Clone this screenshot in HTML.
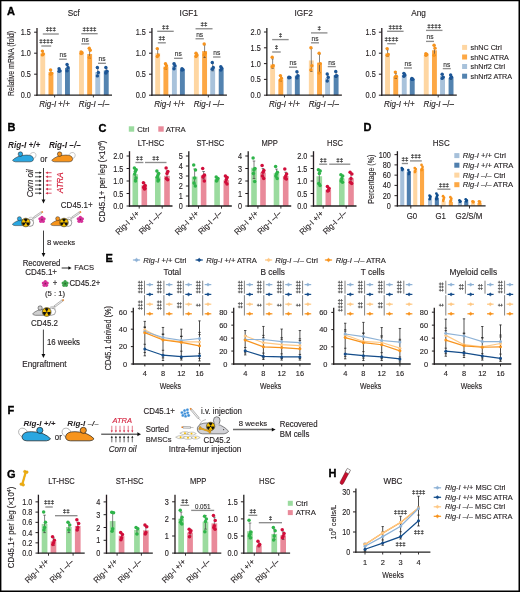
<!DOCTYPE html>
<html><head><meta charset="utf-8"><style>
html,body{margin:0;padding:0;background:#fff;overflow:hidden;width:520px;height:592px;}
svg{display:block;font-family:"Liberation Sans", sans-serif;}
</style></head><body>
<svg width="520" height="592" viewBox="0 0 520 592" fill="#231f20">
<defs><filter id="sb" x="-2%" y="-2%" width="104%" height="104%"><feGaussianBlur stdDeviation="0.3"/></filter></defs>
<rect width="520" height="592" fill="#fff"/>
<g filter="url(#sb)">
<text x="7.00" y="14.80" font-size="11.0" font-weight="bold" fill="#000" stroke="#000" stroke-width="0.35" >A</text>
<rect x="40.30" y="53.20" width="4.90" height="42.00" fill="#FED6A2"/>
<rect x="48.50" y="72.10" width="4.90" height="23.10" fill="#FDA845"/>
<rect x="57.00" y="70.84" width="4.90" height="24.36" fill="#A8C2DB"/>
<rect x="65.00" y="67.90" width="4.90" height="27.30" fill="#5283B0"/>
<rect x="79.00" y="52.78" width="4.90" height="42.42" fill="#FED6A2"/>
<rect x="87.20" y="54.04" width="4.90" height="41.16" fill="#FDA845"/>
<rect x="95.30" y="72.10" width="4.90" height="23.10" fill="#A8C2DB"/>
<rect x="103.80" y="70.42" width="4.90" height="24.78" fill="#5283B0"/>
<line x1="42.75" y1="55.30" x2="42.75" y2="51.10" stroke="#333" stroke-width="0.6" />
<line x1="41.55" y1="51.10" x2="43.95" y2="51.10" stroke="#333" stroke-width="0.6" />
<line x1="41.55" y1="55.30" x2="43.95" y2="55.30" stroke="#333" stroke-width="0.6" />
<line x1="50.95" y1="74.20" x2="50.95" y2="70.00" stroke="#333" stroke-width="0.6" />
<line x1="49.75" y1="70.00" x2="52.15" y2="70.00" stroke="#333" stroke-width="0.6" />
<line x1="49.75" y1="74.20" x2="52.15" y2="74.20" stroke="#333" stroke-width="0.6" />
<line x1="59.45" y1="71.68" x2="59.45" y2="69.16" stroke="#333" stroke-width="0.6" />
<line x1="58.25" y1="69.16" x2="60.65" y2="69.16" stroke="#333" stroke-width="0.6" />
<line x1="58.25" y1="71.68" x2="60.65" y2="71.68" stroke="#333" stroke-width="0.6" />
<line x1="67.45" y1="70.84" x2="67.45" y2="64.96" stroke="#333" stroke-width="0.6" />
<line x1="66.25" y1="64.96" x2="68.65" y2="64.96" stroke="#333" stroke-width="0.6" />
<line x1="66.25" y1="70.84" x2="68.65" y2="70.84" stroke="#333" stroke-width="0.6" />
<line x1="81.45" y1="54.04" x2="81.45" y2="51.94" stroke="#333" stroke-width="0.6" />
<line x1="80.25" y1="51.94" x2="82.65" y2="51.94" stroke="#333" stroke-width="0.6" />
<line x1="80.25" y1="54.04" x2="82.65" y2="54.04" stroke="#333" stroke-width="0.6" />
<line x1="89.65" y1="58.24" x2="89.65" y2="49.00" stroke="#333" stroke-width="0.6" />
<line x1="88.45" y1="49.00" x2="90.85" y2="49.00" stroke="#333" stroke-width="0.6" />
<line x1="88.45" y1="58.24" x2="90.85" y2="58.24" stroke="#333" stroke-width="0.6" />
<line x1="97.75" y1="75.88" x2="97.75" y2="68.32" stroke="#333" stroke-width="0.6" />
<line x1="96.55" y1="68.32" x2="98.95" y2="68.32" stroke="#333" stroke-width="0.6" />
<line x1="96.55" y1="75.88" x2="98.95" y2="75.88" stroke="#333" stroke-width="0.6" />
<line x1="106.25" y1="72.94" x2="106.25" y2="68.32" stroke="#333" stroke-width="0.6" />
<line x1="105.05" y1="68.32" x2="107.45" y2="68.32" stroke="#333" stroke-width="0.6" />
<line x1="105.05" y1="72.94" x2="107.45" y2="72.94" stroke="#333" stroke-width="0.6" />
<circle cx="42.35" cy="51.10" r="1.7" fill="#F7931E"/>
<circle cx="43.35" cy="54.04" r="1.7" fill="#F7931E"/>
<circle cx="42.35" cy="54.88" r="1.7" fill="#F7931E"/>
<circle cx="50.55" cy="70.00" r="1.7" fill="#F7931E"/>
<circle cx="51.55" cy="73.36" r="1.7" fill="#F7931E"/>
<circle cx="50.55" cy="74.20" r="1.7" fill="#F7931E"/>
<circle cx="59.05" cy="68.74" r="1.7" fill="#1B5596"/>
<circle cx="60.05" cy="70.84" r="1.7" fill="#1B5596"/>
<circle cx="59.05" cy="71.26" r="1.7" fill="#1B5596"/>
<circle cx="67.05" cy="64.54" r="1.7" fill="#1B5596"/>
<circle cx="68.05" cy="67.48" r="1.7" fill="#1B5596"/>
<circle cx="67.05" cy="70.84" r="1.7" fill="#1B5596"/>
<circle cx="81.05" cy="51.94" r="1.7" fill="#F7931E"/>
<circle cx="82.05" cy="52.78" r="1.7" fill="#F7931E"/>
<circle cx="81.05" cy="53.62" r="1.7" fill="#F7931E"/>
<circle cx="89.25" cy="48.16" r="1.7" fill="#F7931E"/>
<circle cx="90.25" cy="50.26" r="1.7" fill="#F7931E"/>
<circle cx="89.25" cy="57.40" r="1.7" fill="#F7931E"/>
<circle cx="97.35" cy="67.48" r="1.7" fill="#1B5596"/>
<circle cx="98.35" cy="72.52" r="1.7" fill="#1B5596"/>
<circle cx="97.35" cy="75.88" r="1.7" fill="#1B5596"/>
<circle cx="105.85" cy="67.48" r="1.7" fill="#1B5596"/>
<circle cx="106.85" cy="71.26" r="1.7" fill="#1B5596"/>
<circle cx="105.85" cy="72.94" r="1.7" fill="#1B5596"/>
<line x1="37.00" y1="28.00" x2="37.00" y2="95.85" stroke="#231f20" stroke-width="1.3" />
<line x1="34.10" y1="95.20" x2="37.00" y2="95.20" stroke="#231f20" stroke-width="1.0" />
<text transform="translate(30.90,98.22) scale(0.86,1)" font-size="8.5" text-anchor="end" stroke="#231f20" stroke-width="0.13" >0.0</text>
<line x1="34.10" y1="74.20" x2="37.00" y2="74.20" stroke="#231f20" stroke-width="1.0" />
<text transform="translate(30.90,77.22) scale(0.86,1)" font-size="8.5" text-anchor="end" stroke="#231f20" stroke-width="0.13" >0.5</text>
<line x1="34.10" y1="53.20" x2="37.00" y2="53.20" stroke="#231f20" stroke-width="1.0" />
<text transform="translate(30.90,56.22) scale(0.86,1)" font-size="8.5" text-anchor="end" stroke="#231f20" stroke-width="0.13" >1.0</text>
<line x1="34.10" y1="32.20" x2="37.00" y2="32.20" stroke="#231f20" stroke-width="1.0" />
<text transform="translate(30.90,35.22) scale(0.86,1)" font-size="8.5" text-anchor="end" stroke="#231f20" stroke-width="0.13" >1.5</text>
<line x1="36.35" y1="95.20" x2="112.00" y2="95.20" stroke="#231f20" stroke-width="1.3" />
<line x1="54.60" y1="95.20" x2="54.60" y2="97.40" stroke="#231f20" stroke-width="0.9" />
<line x1="93.40" y1="95.20" x2="93.40" y2="97.40" stroke="#231f20" stroke-width="0.9" />
<text transform="translate(73.80,16.00) scale(0.96,1)" font-size="8.57" text-anchor="middle" stroke="#231f20" stroke-width="0.13" >Scf</text>
<text transform="translate(54.60,107.20) scale(0.96,1)" font-size="8.36" text-anchor="middle" stroke="#231f20" stroke-width="0.13" ><tspan font-style="italic">Rig-I</tspan> +/+</text>
<text transform="translate(94.00,107.20) scale(0.96,1)" font-size="8.36" text-anchor="middle" stroke="#231f20" stroke-width="0.13" ><tspan font-style="italic">Rig-I</tspan> –/–</text>
<line x1="41.30" y1="46.00" x2="51.20" y2="46.00" stroke="#8e8e8e" stroke-width="1.35" />
<text x="46.25" y="43.40" font-size="6.2" text-anchor="middle" fill="#333" stroke="#333" stroke-width="0.22" >‡‡‡‡</text>
<line x1="42.80" y1="34.00" x2="58.80" y2="34.00" stroke="#8e8e8e" stroke-width="1.35" />
<text x="50.80" y="31.40" font-size="6.2" text-anchor="middle" fill="#333" stroke="#333" stroke-width="0.22" >‡‡‡</text>
<line x1="59.20" y1="59.20" x2="66.80" y2="59.20" stroke="#8e8e8e" stroke-width="1.35" />
<text transform="translate(63.00,57.20) scale(0.96,1)" font-size="6.9" text-anchor="middle" fill="#333" stroke="#333" stroke-width="0.13" >ns</text>
<line x1="81.30" y1="33.70" x2="97.70" y2="33.70" stroke="#8e8e8e" stroke-width="1.35" />
<text x="89.50" y="31.10" font-size="6.2" text-anchor="middle" fill="#333" stroke="#333" stroke-width="0.22" >‡‡‡‡</text>
<line x1="81.30" y1="43.90" x2="89.30" y2="43.90" stroke="#8e8e8e" stroke-width="1.35" />
<text transform="translate(85.30,41.90) scale(0.96,1)" font-size="6.9" text-anchor="middle" fill="#333" stroke="#333" stroke-width="0.13" >ns</text>
<line x1="98.00" y1="63.30" x2="105.90" y2="63.30" stroke="#8e8e8e" stroke-width="1.35" />
<text transform="translate(101.95,61.30) scale(0.96,1)" font-size="6.9" text-anchor="middle" fill="#333" stroke="#333" stroke-width="0.13" >ns</text>
<rect x="155.23" y="53.20" width="4.90" height="42.00" fill="#FED6A2"/>
<rect x="163.43" y="66.64" width="4.90" height="28.56" fill="#FDA845"/>
<rect x="171.93" y="65.80" width="4.90" height="29.40" fill="#A8C2DB"/>
<rect x="179.93" y="69.58" width="4.90" height="25.62" fill="#5283B0"/>
<rect x="193.93" y="54.88" width="4.90" height="40.32" fill="#FED6A2"/>
<rect x="202.13" y="51.10" width="4.90" height="44.10" fill="#FDA845"/>
<rect x="210.23" y="67.48" width="4.90" height="27.72" fill="#A8C2DB"/>
<rect x="218.73" y="68.74" width="4.90" height="26.46" fill="#5283B0"/>
<line x1="157.68" y1="56.56" x2="157.68" y2="49.00" stroke="#333" stroke-width="0.6" />
<line x1="156.48" y1="49.00" x2="158.88" y2="49.00" stroke="#333" stroke-width="0.6" />
<line x1="156.48" y1="56.56" x2="158.88" y2="56.56" stroke="#333" stroke-width="0.6" />
<line x1="165.88" y1="69.16" x2="165.88" y2="64.12" stroke="#333" stroke-width="0.6" />
<line x1="164.68" y1="64.12" x2="167.08" y2="64.12" stroke="#333" stroke-width="0.6" />
<line x1="164.68" y1="69.16" x2="167.08" y2="69.16" stroke="#333" stroke-width="0.6" />
<line x1="174.38" y1="68.74" x2="174.38" y2="63.28" stroke="#333" stroke-width="0.6" />
<line x1="173.18" y1="63.28" x2="175.58" y2="63.28" stroke="#333" stroke-width="0.6" />
<line x1="173.18" y1="68.74" x2="175.58" y2="68.74" stroke="#333" stroke-width="0.6" />
<line x1="182.38" y1="70.00" x2="182.38" y2="68.74" stroke="#333" stroke-width="0.6" />
<line x1="181.18" y1="68.74" x2="183.58" y2="68.74" stroke="#333" stroke-width="0.6" />
<line x1="181.18" y1="70.00" x2="183.58" y2="70.00" stroke="#333" stroke-width="0.6" />
<line x1="196.38" y1="56.56" x2="196.38" y2="53.20" stroke="#333" stroke-width="0.6" />
<line x1="195.18" y1="53.20" x2="197.58" y2="53.20" stroke="#333" stroke-width="0.6" />
<line x1="195.18" y1="56.56" x2="197.58" y2="56.56" stroke="#333" stroke-width="0.6" />
<line x1="204.58" y1="57.40" x2="204.58" y2="44.80" stroke="#333" stroke-width="0.6" />
<line x1="203.38" y1="44.80" x2="205.78" y2="44.80" stroke="#333" stroke-width="0.6" />
<line x1="203.38" y1="57.40" x2="205.78" y2="57.40" stroke="#333" stroke-width="0.6" />
<line x1="212.68" y1="70.84" x2="212.68" y2="63.28" stroke="#333" stroke-width="0.6" />
<line x1="211.48" y1="63.28" x2="213.88" y2="63.28" stroke="#333" stroke-width="0.6" />
<line x1="211.48" y1="70.84" x2="213.88" y2="70.84" stroke="#333" stroke-width="0.6" />
<line x1="221.18" y1="70.00" x2="221.18" y2="67.48" stroke="#333" stroke-width="0.6" />
<line x1="219.98" y1="67.48" x2="222.38" y2="67.48" stroke="#333" stroke-width="0.6" />
<line x1="219.98" y1="70.00" x2="222.38" y2="70.00" stroke="#333" stroke-width="0.6" />
<circle cx="157.28" cy="48.58" r="1.7" fill="#F7931E"/>
<circle cx="158.28" cy="55.30" r="1.7" fill="#F7931E"/>
<circle cx="157.28" cy="56.56" r="1.7" fill="#F7931E"/>
<circle cx="165.48" cy="63.70" r="1.7" fill="#F7931E"/>
<circle cx="166.48" cy="65.80" r="1.7" fill="#F7931E"/>
<circle cx="165.48" cy="68.32" r="1.7" fill="#F7931E"/>
<circle cx="173.98" cy="63.70" r="1.7" fill="#1B5596"/>
<circle cx="174.98" cy="65.80" r="1.7" fill="#1B5596"/>
<circle cx="173.98" cy="68.74" r="1.7" fill="#1B5596"/>
<circle cx="181.98" cy="68.74" r="1.7" fill="#1B5596"/>
<circle cx="182.98" cy="69.58" r="1.7" fill="#1B5596"/>
<circle cx="181.98" cy="70.00" r="1.7" fill="#1B5596"/>
<circle cx="195.98" cy="53.20" r="1.7" fill="#F7931E"/>
<circle cx="196.98" cy="54.88" r="1.7" fill="#F7931E"/>
<circle cx="195.98" cy="56.56" r="1.7" fill="#F7931E"/>
<circle cx="204.18" cy="43.96" r="1.7" fill="#F7931E"/>
<circle cx="205.18" cy="53.20" r="1.7" fill="#F7931E"/>
<circle cx="204.18" cy="54.88" r="1.7" fill="#F7931E"/>
<circle cx="212.28" cy="62.44" r="1.7" fill="#1B5596"/>
<circle cx="213.28" cy="67.48" r="1.7" fill="#1B5596"/>
<circle cx="212.28" cy="69.16" r="1.7" fill="#1B5596"/>
<circle cx="220.78" cy="66.64" r="1.7" fill="#1B5596"/>
<circle cx="221.78" cy="68.32" r="1.7" fill="#1B5596"/>
<circle cx="220.78" cy="70.00" r="1.7" fill="#1B5596"/>
<line x1="151.93" y1="28.00" x2="151.93" y2="95.85" stroke="#231f20" stroke-width="1.3" />
<line x1="149.03" y1="95.20" x2="151.93" y2="95.20" stroke="#231f20" stroke-width="1.0" />
<text transform="translate(145.83,98.22) scale(0.86,1)" font-size="8.5" text-anchor="end" stroke="#231f20" stroke-width="0.13" >0.0</text>
<line x1="149.03" y1="74.20" x2="151.93" y2="74.20" stroke="#231f20" stroke-width="1.0" />
<text transform="translate(145.83,77.22) scale(0.86,1)" font-size="8.5" text-anchor="end" stroke="#231f20" stroke-width="0.13" >0.5</text>
<line x1="149.03" y1="53.20" x2="151.93" y2="53.20" stroke="#231f20" stroke-width="1.0" />
<text transform="translate(145.83,56.22) scale(0.86,1)" font-size="8.5" text-anchor="end" stroke="#231f20" stroke-width="0.13" >1.0</text>
<line x1="149.03" y1="32.20" x2="151.93" y2="32.20" stroke="#231f20" stroke-width="1.0" />
<text transform="translate(145.83,35.22) scale(0.86,1)" font-size="8.5" text-anchor="end" stroke="#231f20" stroke-width="0.13" >1.5</text>
<line x1="151.28" y1="95.20" x2="226.93" y2="95.20" stroke="#231f20" stroke-width="1.3" />
<line x1="169.53" y1="95.20" x2="169.53" y2="97.40" stroke="#231f20" stroke-width="0.9" />
<line x1="208.33" y1="95.20" x2="208.33" y2="97.40" stroke="#231f20" stroke-width="0.9" />
<text transform="translate(188.73,16.00) scale(0.96,1)" font-size="8.57" text-anchor="middle" stroke="#231f20" stroke-width="0.13" >IGF1</text>
<text transform="translate(169.53,107.20) scale(0.96,1)" font-size="8.36" text-anchor="middle" stroke="#231f20" stroke-width="0.13" ><tspan font-style="italic">Rig-I</tspan> +/+</text>
<text transform="translate(208.93,107.20) scale(0.96,1)" font-size="8.36" text-anchor="middle" stroke="#231f20" stroke-width="0.13" ><tspan font-style="italic">Rig-I</tspan> –/–</text>
<line x1="157.23" y1="31.30" x2="173.73" y2="31.30" stroke="#8e8e8e" stroke-width="1.35" />
<text x="165.48" y="28.70" font-size="6.2" text-anchor="middle" fill="#333" stroke="#333" stroke-width="0.22" >‡‡</text>
<line x1="157.83" y1="42.80" x2="165.83" y2="42.80" stroke="#8e8e8e" stroke-width="1.35" />
<text x="161.83" y="40.20" font-size="6.2" text-anchor="middle" fill="#333" stroke="#333" stroke-width="0.22" >‡‡</text>
<line x1="174.03" y1="58.30" x2="182.63" y2="58.30" stroke="#8e8e8e" stroke-width="1.35" />
<text transform="translate(178.33,56.30) scale(0.96,1)" font-size="6.9" text-anchor="middle" fill="#333" stroke="#333" stroke-width="0.13" >ns</text>
<line x1="195.53" y1="28.75" x2="212.53" y2="28.75" stroke="#8e8e8e" stroke-width="1.35" />
<text x="204.03" y="26.15" font-size="6.2" text-anchor="middle" fill="#333" stroke="#333" stroke-width="0.22" >‡‡</text>
<line x1="195.53" y1="38.75" x2="203.83" y2="38.75" stroke="#8e8e8e" stroke-width="1.35" />
<text transform="translate(199.68,36.75) scale(0.96,1)" font-size="6.9" text-anchor="middle" fill="#333" stroke="#333" stroke-width="0.13" >ns</text>
<line x1="213.03" y1="57.00" x2="220.53" y2="57.00" stroke="#8e8e8e" stroke-width="1.35" />
<text transform="translate(216.78,55.00) scale(0.96,1)" font-size="6.9" text-anchor="middle" fill="#333" stroke="#333" stroke-width="0.13" >ns</text>
<rect x="270.16" y="64.23" width="4.90" height="30.97" fill="#FED6A2"/>
<rect x="278.36" y="79.40" width="4.90" height="15.80" fill="#FDA845"/>
<rect x="286.86" y="77.50" width="4.90" height="17.70" fill="#A8C2DB"/>
<rect x="294.86" y="75.61" width="4.90" height="19.59" fill="#5283B0"/>
<rect x="308.86" y="60.44" width="4.90" height="34.76" fill="#FED6A2"/>
<rect x="317.06" y="62.65" width="4.90" height="32.55" fill="#FDA845"/>
<rect x="325.16" y="78.14" width="4.90" height="17.06" fill="#A8C2DB"/>
<rect x="333.66" y="75.29" width="4.90" height="19.91" fill="#5283B0"/>
<line x1="272.61" y1="68.34" x2="272.61" y2="58.86" stroke="#333" stroke-width="0.6" />
<line x1="271.41" y1="58.86" x2="273.81" y2="58.86" stroke="#333" stroke-width="0.6" />
<line x1="271.41" y1="68.34" x2="273.81" y2="68.34" stroke="#333" stroke-width="0.6" />
<line x1="280.81" y1="80.98" x2="280.81" y2="76.24" stroke="#333" stroke-width="0.6" />
<line x1="279.61" y1="76.24" x2="282.01" y2="76.24" stroke="#333" stroke-width="0.6" />
<line x1="279.61" y1="80.98" x2="282.01" y2="80.98" stroke="#333" stroke-width="0.6" />
<line x1="289.31" y1="78.14" x2="289.31" y2="76.87" stroke="#333" stroke-width="0.6" />
<line x1="288.11" y1="76.87" x2="290.51" y2="76.87" stroke="#333" stroke-width="0.6" />
<line x1="288.11" y1="78.14" x2="290.51" y2="78.14" stroke="#333" stroke-width="0.6" />
<line x1="297.31" y1="78.77" x2="297.31" y2="72.45" stroke="#333" stroke-width="0.6" />
<line x1="296.11" y1="72.45" x2="298.51" y2="72.45" stroke="#333" stroke-width="0.6" />
<line x1="296.11" y1="78.77" x2="298.51" y2="78.77" stroke="#333" stroke-width="0.6" />
<line x1="311.31" y1="71.50" x2="311.31" y2="48.43" stroke="#333" stroke-width="0.6" />
<line x1="310.11" y1="48.43" x2="312.51" y2="48.43" stroke="#333" stroke-width="0.6" />
<line x1="310.11" y1="71.50" x2="312.51" y2="71.50" stroke="#333" stroke-width="0.6" />
<line x1="319.51" y1="72.45" x2="319.51" y2="54.12" stroke="#333" stroke-width="0.6" />
<line x1="318.31" y1="54.12" x2="320.71" y2="54.12" stroke="#333" stroke-width="0.6" />
<line x1="318.31" y1="72.45" x2="320.71" y2="72.45" stroke="#333" stroke-width="0.6" />
<line x1="327.61" y1="80.98" x2="327.61" y2="74.66" stroke="#333" stroke-width="0.6" />
<line x1="326.41" y1="74.66" x2="328.81" y2="74.66" stroke="#333" stroke-width="0.6" />
<line x1="326.41" y1="80.98" x2="328.81" y2="80.98" stroke="#333" stroke-width="0.6" />
<line x1="336.11" y1="77.50" x2="336.11" y2="72.45" stroke="#333" stroke-width="0.6" />
<line x1="334.91" y1="72.45" x2="337.31" y2="72.45" stroke="#333" stroke-width="0.6" />
<line x1="334.91" y1="77.50" x2="337.31" y2="77.50" stroke="#333" stroke-width="0.6" />
<circle cx="272.21" cy="57.28" r="1.7" fill="#F7931E"/>
<circle cx="273.21" cy="65.81" r="1.7" fill="#F7931E"/>
<circle cx="272.21" cy="66.76" r="1.7" fill="#F7931E"/>
<circle cx="280.41" cy="75.61" r="1.7" fill="#F7931E"/>
<circle cx="281.41" cy="78.14" r="1.7" fill="#F7931E"/>
<circle cx="280.41" cy="80.03" r="1.7" fill="#F7931E"/>
<circle cx="288.91" cy="77.19" r="1.7" fill="#1B5596"/>
<circle cx="289.91" cy="77.50" r="1.7" fill="#1B5596"/>
<circle cx="288.91" cy="77.82" r="1.7" fill="#1B5596"/>
<circle cx="296.91" cy="71.82" r="1.7" fill="#1B5596"/>
<circle cx="297.91" cy="75.61" r="1.7" fill="#1B5596"/>
<circle cx="296.91" cy="77.82" r="1.7" fill="#1B5596"/>
<circle cx="310.91" cy="47.80" r="1.7" fill="#F7931E"/>
<circle cx="311.91" cy="65.81" r="1.7" fill="#F7931E"/>
<circle cx="310.91" cy="69.92" r="1.7" fill="#F7931E"/>
<circle cx="319.11" cy="53.17" r="1.7" fill="#F7931E"/>
<circle cx="320.11" cy="63.60" r="1.7" fill="#F7931E"/>
<circle cx="319.11" cy="73.08" r="1.7" fill="#F7931E"/>
<circle cx="327.21" cy="74.03" r="1.7" fill="#1B5596"/>
<circle cx="328.21" cy="77.19" r="1.7" fill="#1B5596"/>
<circle cx="327.21" cy="80.98" r="1.7" fill="#1B5596"/>
<circle cx="335.71" cy="71.50" r="1.7" fill="#1B5596"/>
<circle cx="336.71" cy="75.61" r="1.7" fill="#1B5596"/>
<circle cx="335.71" cy="76.24" r="1.7" fill="#1B5596"/>
<line x1="266.86" y1="28.00" x2="266.86" y2="95.85" stroke="#231f20" stroke-width="1.3" />
<line x1="263.96" y1="95.20" x2="266.86" y2="95.20" stroke="#231f20" stroke-width="1.0" />
<text transform="translate(260.76,98.22) scale(0.86,1)" font-size="8.5" text-anchor="end" stroke="#231f20" stroke-width="0.13" >0.0</text>
<line x1="263.96" y1="79.40" x2="266.86" y2="79.40" stroke="#231f20" stroke-width="1.0" />
<text transform="translate(260.76,82.42) scale(0.86,1)" font-size="8.5" text-anchor="end" stroke="#231f20" stroke-width="0.13" >0.5</text>
<line x1="263.96" y1="63.60" x2="266.86" y2="63.60" stroke="#231f20" stroke-width="1.0" />
<text transform="translate(260.76,66.62) scale(0.86,1)" font-size="8.5" text-anchor="end" stroke="#231f20" stroke-width="0.13" >1.0</text>
<line x1="263.96" y1="47.80" x2="266.86" y2="47.80" stroke="#231f20" stroke-width="1.0" />
<text transform="translate(260.76,50.82) scale(0.86,1)" font-size="8.5" text-anchor="end" stroke="#231f20" stroke-width="0.13" >1.5</text>
<line x1="263.96" y1="32.00" x2="266.86" y2="32.00" stroke="#231f20" stroke-width="1.0" />
<text transform="translate(260.76,35.02) scale(0.86,1)" font-size="8.5" text-anchor="end" stroke="#231f20" stroke-width="0.13" >2.0</text>
<line x1="266.21" y1="95.20" x2="341.86" y2="95.20" stroke="#231f20" stroke-width="1.3" />
<line x1="284.46" y1="95.20" x2="284.46" y2="97.40" stroke="#231f20" stroke-width="0.9" />
<line x1="323.26" y1="95.20" x2="323.26" y2="97.40" stroke="#231f20" stroke-width="0.9" />
<text transform="translate(303.66,16.00) scale(0.96,1)" font-size="8.57" text-anchor="middle" stroke="#231f20" stroke-width="0.13" >IGF2</text>
<text transform="translate(284.46,107.20) scale(0.96,1)" font-size="8.36" text-anchor="middle" stroke="#231f20" stroke-width="0.13" ><tspan font-style="italic">Rig-I</tspan> +/+</text>
<text transform="translate(323.86,107.20) scale(0.96,1)" font-size="8.36" text-anchor="middle" stroke="#231f20" stroke-width="0.13" ><tspan font-style="italic">Rig-I</tspan> –/–</text>
<line x1="272.16" y1="39.60" x2="288.66" y2="39.60" stroke="#8e8e8e" stroke-width="1.35" />
<text x="280.41" y="37.00" font-size="6.2" text-anchor="middle" fill="#333" stroke="#333" stroke-width="0.22" >‡</text>
<line x1="272.16" y1="52.00" x2="280.76" y2="52.00" stroke="#8e8e8e" stroke-width="1.35" />
<text x="276.46" y="49.40" font-size="6.2" text-anchor="middle" fill="#333" stroke="#333" stroke-width="0.22" >‡</text>
<line x1="288.96" y1="67.20" x2="297.06" y2="67.20" stroke="#8e8e8e" stroke-width="1.35" />
<text transform="translate(293.01,65.20) scale(0.96,1)" font-size="6.9" text-anchor="middle" fill="#333" stroke="#333" stroke-width="0.13" >ns</text>
<line x1="310.96" y1="32.90" x2="327.46" y2="32.90" stroke="#8e8e8e" stroke-width="1.35" />
<text x="319.21" y="30.30" font-size="6.2" text-anchor="middle" fill="#333" stroke="#333" stroke-width="0.22" >‡</text>
<line x1="310.96" y1="42.80" x2="318.96" y2="42.80" stroke="#8e8e8e" stroke-width="1.35" />
<text transform="translate(314.96,40.80) scale(0.96,1)" font-size="6.9" text-anchor="middle" fill="#333" stroke="#333" stroke-width="0.13" >ns</text>
<line x1="327.76" y1="66.60" x2="335.76" y2="66.60" stroke="#8e8e8e" stroke-width="1.35" />
<text transform="translate(331.76,64.60) scale(0.96,1)" font-size="6.9" text-anchor="middle" fill="#333" stroke="#333" stroke-width="0.13" >ns</text>
<rect x="385.09" y="53.20" width="4.90" height="42.00" fill="#FED6A2"/>
<rect x="393.29" y="76.72" width="4.90" height="18.48" fill="#FDA845"/>
<rect x="401.79" y="75.04" width="4.90" height="20.16" fill="#A8C2DB"/>
<rect x="409.79" y="79.24" width="4.90" height="15.96" fill="#5283B0"/>
<rect x="423.79" y="54.88" width="4.90" height="40.32" fill="#FED6A2"/>
<rect x="431.99" y="50.26" width="4.90" height="44.94" fill="#FDA845"/>
<rect x="440.09" y="75.88" width="4.90" height="19.32" fill="#A8C2DB"/>
<rect x="448.59" y="77.98" width="4.90" height="17.22" fill="#5283B0"/>
<line x1="387.54" y1="56.56" x2="387.54" y2="49.84" stroke="#333" stroke-width="0.6" />
<line x1="386.34" y1="49.84" x2="388.74" y2="49.84" stroke="#333" stroke-width="0.6" />
<line x1="386.34" y1="56.56" x2="388.74" y2="56.56" stroke="#333" stroke-width="0.6" />
<line x1="395.74" y1="78.40" x2="395.74" y2="73.36" stroke="#333" stroke-width="0.6" />
<line x1="394.54" y1="73.36" x2="396.94" y2="73.36" stroke="#333" stroke-width="0.6" />
<line x1="394.54" y1="78.40" x2="396.94" y2="78.40" stroke="#333" stroke-width="0.6" />
<line x1="404.24" y1="76.72" x2="404.24" y2="73.36" stroke="#333" stroke-width="0.6" />
<line x1="403.04" y1="73.36" x2="405.44" y2="73.36" stroke="#333" stroke-width="0.6" />
<line x1="403.04" y1="76.72" x2="405.44" y2="76.72" stroke="#333" stroke-width="0.6" />
<line x1="412.24" y1="79.66" x2="412.24" y2="78.40" stroke="#333" stroke-width="0.6" />
<line x1="411.04" y1="78.40" x2="413.44" y2="78.40" stroke="#333" stroke-width="0.6" />
<line x1="411.04" y1="79.66" x2="413.44" y2="79.66" stroke="#333" stroke-width="0.6" />
<line x1="426.24" y1="55.72" x2="426.24" y2="53.62" stroke="#333" stroke-width="0.6" />
<line x1="425.04" y1="53.62" x2="427.44" y2="53.62" stroke="#333" stroke-width="0.6" />
<line x1="425.04" y1="55.72" x2="427.44" y2="55.72" stroke="#333" stroke-width="0.6" />
<line x1="434.44" y1="55.30" x2="434.44" y2="45.22" stroke="#333" stroke-width="0.6" />
<line x1="433.24" y1="45.22" x2="435.64" y2="45.22" stroke="#333" stroke-width="0.6" />
<line x1="433.24" y1="55.30" x2="435.64" y2="55.30" stroke="#333" stroke-width="0.6" />
<line x1="442.54" y1="78.40" x2="442.54" y2="74.20" stroke="#333" stroke-width="0.6" />
<line x1="441.34" y1="74.20" x2="443.74" y2="74.20" stroke="#333" stroke-width="0.6" />
<line x1="441.34" y1="78.40" x2="443.74" y2="78.40" stroke="#333" stroke-width="0.6" />
<line x1="451.04" y1="79.24" x2="451.04" y2="75.88" stroke="#333" stroke-width="0.6" />
<line x1="449.84" y1="75.88" x2="452.24" y2="75.88" stroke="#333" stroke-width="0.6" />
<line x1="449.84" y1="79.24" x2="452.24" y2="79.24" stroke="#333" stroke-width="0.6" />
<circle cx="387.14" cy="48.58" r="1.7" fill="#F7931E"/>
<circle cx="388.14" cy="54.46" r="1.7" fill="#F7931E"/>
<circle cx="387.14" cy="55.30" r="1.7" fill="#F7931E"/>
<circle cx="395.34" cy="72.10" r="1.7" fill="#F7931E"/>
<circle cx="396.34" cy="76.30" r="1.7" fill="#F7931E"/>
<circle cx="395.34" cy="76.72" r="1.7" fill="#F7931E"/>
<circle cx="403.84" cy="73.36" r="1.7" fill="#1B5596"/>
<circle cx="404.84" cy="75.04" r="1.7" fill="#1B5596"/>
<circle cx="403.84" cy="76.30" r="1.7" fill="#1B5596"/>
<circle cx="411.84" cy="78.40" r="1.7" fill="#1B5596"/>
<circle cx="412.84" cy="79.24" r="1.7" fill="#1B5596"/>
<circle cx="411.84" cy="79.24" r="1.7" fill="#1B5596"/>
<circle cx="425.84" cy="53.62" r="1.7" fill="#F7931E"/>
<circle cx="426.84" cy="54.46" r="1.7" fill="#F7931E"/>
<circle cx="425.84" cy="55.30" r="1.7" fill="#F7931E"/>
<circle cx="434.04" cy="45.22" r="1.7" fill="#F7931E"/>
<circle cx="435.04" cy="48.16" r="1.7" fill="#F7931E"/>
<circle cx="434.04" cy="55.30" r="1.7" fill="#F7931E"/>
<circle cx="442.14" cy="74.20" r="1.7" fill="#1B5596"/>
<circle cx="443.14" cy="77.14" r="1.7" fill="#1B5596"/>
<circle cx="442.14" cy="78.40" r="1.7" fill="#1B5596"/>
<circle cx="450.64" cy="75.04" r="1.7" fill="#1B5596"/>
<circle cx="451.64" cy="77.14" r="1.7" fill="#1B5596"/>
<circle cx="450.64" cy="77.98" r="1.7" fill="#1B5596"/>
<line x1="381.79" y1="28.00" x2="381.79" y2="95.85" stroke="#231f20" stroke-width="1.3" />
<line x1="378.89" y1="95.20" x2="381.79" y2="95.20" stroke="#231f20" stroke-width="1.0" />
<text transform="translate(375.69,98.22) scale(0.86,1)" font-size="8.5" text-anchor="end" stroke="#231f20" stroke-width="0.13" >0.0</text>
<line x1="378.89" y1="74.20" x2="381.79" y2="74.20" stroke="#231f20" stroke-width="1.0" />
<text transform="translate(375.69,77.22) scale(0.86,1)" font-size="8.5" text-anchor="end" stroke="#231f20" stroke-width="0.13" >0.5</text>
<line x1="378.89" y1="53.20" x2="381.79" y2="53.20" stroke="#231f20" stroke-width="1.0" />
<text transform="translate(375.69,56.22) scale(0.86,1)" font-size="8.5" text-anchor="end" stroke="#231f20" stroke-width="0.13" >1.0</text>
<line x1="378.89" y1="32.20" x2="381.79" y2="32.20" stroke="#231f20" stroke-width="1.0" />
<text transform="translate(375.69,35.22) scale(0.86,1)" font-size="8.5" text-anchor="end" stroke="#231f20" stroke-width="0.13" >1.5</text>
<line x1="381.14" y1="95.20" x2="456.79" y2="95.20" stroke="#231f20" stroke-width="1.3" />
<line x1="399.39" y1="95.20" x2="399.39" y2="97.40" stroke="#231f20" stroke-width="0.9" />
<line x1="438.19" y1="95.20" x2="438.19" y2="97.40" stroke="#231f20" stroke-width="0.9" />
<text transform="translate(418.59,16.00) scale(0.96,1)" font-size="8.57" text-anchor="middle" stroke="#231f20" stroke-width="0.13" >Ang</text>
<text transform="translate(399.39,107.20) scale(0.96,1)" font-size="8.36" text-anchor="middle" stroke="#231f20" stroke-width="0.13" ><tspan font-style="italic">Rig-I</tspan> +/+</text>
<text transform="translate(438.79,107.20) scale(0.96,1)" font-size="8.36" text-anchor="middle" stroke="#231f20" stroke-width="0.13" ><tspan font-style="italic">Rig-I</tspan> –/–</text>
<line x1="387.09" y1="31.30" x2="403.59" y2="31.30" stroke="#8e8e8e" stroke-width="1.35" />
<text x="395.34" y="28.70" font-size="6.2" text-anchor="middle" fill="#333" stroke="#333" stroke-width="0.22" >‡‡‡‡</text>
<line x1="387.19" y1="43.70" x2="395.79" y2="43.70" stroke="#8e8e8e" stroke-width="1.35" />
<text x="391.49" y="41.10" font-size="6.2" text-anchor="middle" fill="#333" stroke="#333" stroke-width="0.22" >‡‡‡‡</text>
<line x1="403.99" y1="68.00" x2="411.99" y2="68.00" stroke="#8e8e8e" stroke-width="1.35" />
<text transform="translate(407.99,66.00) scale(0.96,1)" font-size="6.9" text-anchor="middle" fill="#333" stroke="#333" stroke-width="0.13" >ns</text>
<line x1="425.99" y1="30.40" x2="442.49" y2="30.40" stroke="#8e8e8e" stroke-width="1.35" />
<text x="434.24" y="27.80" font-size="6.2" text-anchor="middle" fill="#333" stroke="#333" stroke-width="0.22" >‡‡‡‡</text>
<line x1="425.99" y1="41.40" x2="433.99" y2="41.40" stroke="#8e8e8e" stroke-width="1.35" />
<text transform="translate(429.99,39.40) scale(0.96,1)" font-size="6.9" text-anchor="middle" fill="#333" stroke="#333" stroke-width="0.13" >ns</text>
<line x1="442.79" y1="68.60" x2="450.79" y2="68.60" stroke="#8e8e8e" stroke-width="1.35" />
<text transform="translate(446.79,66.60) scale(0.96,1)" font-size="6.9" text-anchor="middle" fill="#333" stroke="#333" stroke-width="0.13" >ns</text>
<text transform="translate(13.60,63.50) rotate(-90) scale(0.845,1)" font-size="8.26" text-anchor="middle" stroke="#231f20" stroke-width="0.13" >Relative mRNA (fold)</text>
<rect x="462.10" y="44.90" width="5.00" height="5.00" fill="#FED6A2"/>
<text transform="translate(470.60,50.00) scale(0.96,1)" font-size="7.52" stroke="#231f20" stroke-width="0.13" >shNC Ctrl</text>
<rect x="462.10" y="54.50" width="5.00" height="5.00" fill="#FDA845"/>
<text transform="translate(470.60,59.60) scale(0.96,1)" font-size="7.52" stroke="#231f20" stroke-width="0.13" >shNC ATRA</text>
<rect x="462.10" y="64.00" width="5.00" height="5.00" fill="#A8C2DB"/>
<text transform="translate(470.60,69.10) scale(0.96,1)" font-size="7.52" stroke="#231f20" stroke-width="0.13" >shNrf2 Ctrl</text>
<rect x="462.10" y="73.70" width="5.00" height="5.00" fill="#5283B0"/>
<text transform="translate(470.60,78.80) scale(0.96,1)" font-size="7.52" stroke="#231f20" stroke-width="0.13" >shNrf2 ATRA</text>
<text x="7.40" y="131.20" font-size="11.0" font-weight="bold" fill="#000" stroke="#000" stroke-width="0.35" >B</text>
<text x="8.00" y="147.60" font-size="8.2" font-weight="bold" font-style="italic" >Rig-I +/+</text>
<text x="48.90" y="147.60" font-size="8.2" font-weight="bold" font-style="italic" >Rig-I –/–</text>
<g transform="translate(12.50,151.80) scale(1.0)"><path d="M17.2 3.4 C18 0.3 22.6 -0.3 23.4 2.6 C23.9 4.6 22.6 6.2 21.0 6.9" fill="none" stroke="#999" stroke-width="0.55"/><path d="M0 8.5 Q2.2 6.2 5.3 4.9 Q9 3.3 14 3.3 Q20.1 3.2 20.9 6.6 Q21.3 9.8 17.4 10 L3 10 Q0.8 9.8 0 8.5 Z" fill="#2AA7E1" stroke="#1a1a1a" stroke-width="0.5"/><path d="M6.5 4.6 L6.8 3.4 L9.1 3.4 L9.4 4.3 Z" fill="#2AA7E1"/><circle cx="7.9" cy="2.3" r="2.25" fill="#2AA7E1" stroke="#1a1a1a" stroke-width="0.5"/></g>
<text transform="translate(40.30,162.00) scale(0.96,1)" font-size="8.15" stroke="#231f20" stroke-width="0.13" >or</text>
<g transform="translate(51.70,151.80) scale(1.0)"><path d="M17.2 3.4 C18 0.3 22.6 -0.3 23.4 2.6 C23.9 4.6 22.6 6.2 21.0 6.9" fill="none" stroke="#999" stroke-width="0.55"/><path d="M0 8.5 Q2.2 6.2 5.3 4.9 Q9 3.3 14 3.3 Q20.1 3.2 20.9 6.6 Q21.3 9.8 17.4 10 L3 10 Q0.8 9.8 0 8.5 Z" fill="#F7941D" stroke="#1a1a1a" stroke-width="0.5"/><path d="M6.5 4.6 L6.8 3.4 L9.1 3.4 L9.4 4.3 Z" fill="#F7941D"/><circle cx="7.9" cy="2.3" r="2.25" fill="#F7941D" stroke="#1a1a1a" stroke-width="0.5"/></g>
<line x1="43.50" y1="168.00" x2="43.50" y2="201.00" stroke="#111" stroke-width="0.8" />
<path d="M41.6 199.5 L45.4 199.5 L43.5 203.6 Z" fill="#111" stroke="none" stroke-width="1" />
<text transform="translate(32.90,183.30) rotate(-90) scale(0.96,1)" font-size="8.46" text-anchor="middle" font-style="italic" stroke="#231f20" stroke-width="0.13" >Corn oil</text>
<line x1="35.00" y1="172.70" x2="40.00" y2="172.70" stroke="#111" stroke-width="0.75" />
<path d="M41.7 172.70 L39.4 171.40 L39.4 174.00 Z" fill="#111" stroke="none" stroke-width="1" />
<line x1="47.00" y1="172.70" x2="51.60" y2="172.70" stroke="#D4213D" stroke-width="0.75" />
<path d="M45.5 172.70 L47.8 171.40 L47.8 174.00 Z" fill="#D4213D" stroke="none" stroke-width="1" />
<line x1="35.00" y1="176.80" x2="40.00" y2="176.80" stroke="#111" stroke-width="0.75" />
<path d="M41.7 176.80 L39.4 175.50 L39.4 178.10 Z" fill="#111" stroke="none" stroke-width="1" />
<line x1="47.00" y1="176.80" x2="51.60" y2="176.80" stroke="#D4213D" stroke-width="0.75" />
<path d="M45.5 176.80 L47.8 175.50 L47.8 178.10 Z" fill="#D4213D" stroke="none" stroke-width="1" />
<line x1="35.00" y1="180.90" x2="40.00" y2="180.90" stroke="#111" stroke-width="0.75" />
<path d="M41.7 180.90 L39.4 179.60 L39.4 182.20 Z" fill="#111" stroke="none" stroke-width="1" />
<line x1="47.00" y1="180.90" x2="51.60" y2="180.90" stroke="#D4213D" stroke-width="0.75" />
<path d="M45.5 180.90 L47.8 179.60 L47.8 182.20 Z" fill="#D4213D" stroke="none" stroke-width="1" />
<line x1="35.00" y1="185.00" x2="40.00" y2="185.00" stroke="#111" stroke-width="0.75" />
<path d="M41.7 185.00 L39.4 183.70 L39.4 186.30 Z" fill="#111" stroke="none" stroke-width="1" />
<line x1="47.00" y1="185.00" x2="51.60" y2="185.00" stroke="#D4213D" stroke-width="0.75" />
<path d="M45.5 185.00 L47.8 183.70 L47.8 186.30 Z" fill="#D4213D" stroke="none" stroke-width="1" />
<line x1="35.00" y1="189.10" x2="40.00" y2="189.10" stroke="#111" stroke-width="0.75" />
<path d="M41.7 189.10 L39.4 187.80 L39.4 190.40 Z" fill="#111" stroke="none" stroke-width="1" />
<line x1="47.00" y1="189.10" x2="51.60" y2="189.10" stroke="#D4213D" stroke-width="0.75" />
<path d="M45.5 189.10 L47.8 187.80 L47.8 190.40 Z" fill="#D4213D" stroke="none" stroke-width="1" />
<line x1="35.00" y1="193.20" x2="40.00" y2="193.20" stroke="#111" stroke-width="0.75" />
<path d="M41.7 193.20 L39.4 191.90 L39.4 194.50 Z" fill="#111" stroke="none" stroke-width="1" />
<line x1="47.00" y1="193.20" x2="51.60" y2="193.20" stroke="#D4213D" stroke-width="0.75" />
<path d="M45.5 193.20 L47.8 191.90 L47.8 194.50 Z" fill="#D4213D" stroke="none" stroke-width="1" />
<text transform="translate(62.60,182.70) rotate(-90) scale(0.96,1)" font-size="8.36" text-anchor="middle" font-style="italic" fill="#D4213D" stroke="#D4213D" stroke-width="0.13" >ATRA</text>
<text transform="translate(60.80,207.50) scale(0.96,1)" font-size="8.36" stroke="#231f20" stroke-width="0.13" >CD45.1+</text>
<g transform="translate(12.30,216.60) scale(0.9)"><path d="M17.2 3.4 C18 0.3 22.6 -0.3 23.4 2.6 C23.9 4.6 22.6 6.2 21.0 6.9" fill="none" stroke="#999" stroke-width="0.55"/><path d="M0 8.5 Q2.2 6.2 5.3 4.9 Q9 3.3 14 3.3 Q20.1 3.2 20.9 6.6 Q21.3 9.8 17.4 10 L3 10 Q0.8 9.8 0 8.5 Z" fill="#2AA7E1" stroke="#1a1a1a" stroke-width="0.5"/><path d="M6.5 4.6 L6.8 3.4 L9.1 3.4 L9.4 4.3 Z" fill="#2AA7E1"/><circle cx="7.9" cy="2.3" r="2.25" fill="#2AA7E1" stroke="#1a1a1a" stroke-width="0.5"/></g>
<ellipse cx="30.0" cy="222.8" rx="3.6" ry="3.6" fill="#fff" stroke="#222" stroke-width="0.45"/>
<g transform="translate(25.80,222.50)"><circle r="4.3" fill="#F5C000" stroke="#111" stroke-width="0.5"/><path d="M-0.52 -0.89 L-1.93 -3.35 A3.87 3.87 0 0 1 1.94 -3.35 L0.52 -0.89 Z" fill="#111"/><path d="M1.03 0.00 L3.87 0.00 A3.87 3.87 0 0 1 1.94 3.35 L0.52 0.89 Z" fill="#111"/><path d="M-0.52 0.89 L-1.93 3.35 A3.87 3.87 0 0 1 -3.87 0.00 L-1.03 0.00 Z" fill="#111"/><circle r="0.688" fill="#111"/></g>
<path d="M34.42 218.22 L42.02 213.02 L41.18 211.78 L33.58 216.98 Z" fill="#eee" stroke="#555" stroke-width="0.4" />
<line x1="41.60" y1="212.40" x2="42.84" y2="211.55" stroke="#E07B20" stroke-width="1.6" />
<line x1="34.00" y1="217.60" x2="31.52" y2="219.29" stroke="#666" stroke-width="0.4" />
<circle cx="42.00" cy="217.40" r="1.7" fill="#D6309A"/>
<circle cx="44.00" cy="218.85" r="1.7" fill="#D6309A"/>
<circle cx="43.23" cy="221.20" r="1.7" fill="#D6309A"/>
<circle cx="40.77" cy="221.20" r="1.7" fill="#D6309A"/>
<circle cx="40.00" cy="218.85" r="1.7" fill="#D6309A"/>
<circle cx="42.00" cy="219.50" r="0.9" fill="#8a1a5a"/>
<g transform="translate(50.60,216.60) scale(0.9)"><path d="M17.2 3.4 C18 0.3 22.6 -0.3 23.4 2.6 C23.9 4.6 22.6 6.2 21.0 6.9" fill="none" stroke="#999" stroke-width="0.55"/><path d="M0 8.5 Q2.2 6.2 5.3 4.9 Q9 3.3 14 3.3 Q20.1 3.2 20.9 6.6 Q21.3 9.8 17.4 10 L3 10 Q0.8 9.8 0 8.5 Z" fill="#F7941D" stroke="#1a1a1a" stroke-width="0.5"/><path d="M6.5 4.6 L6.8 3.4 L9.1 3.4 L9.4 4.3 Z" fill="#F7941D"/><circle cx="7.9" cy="2.3" r="2.25" fill="#F7941D" stroke="#1a1a1a" stroke-width="0.5"/></g>
<ellipse cx="68.2" cy="222.8" rx="3.6" ry="3.6" fill="#fff" stroke="#222" stroke-width="0.45"/>
<g transform="translate(64.00,222.50)"><circle r="4.3" fill="#F5C000" stroke="#111" stroke-width="0.5"/><path d="M-0.52 -0.89 L-1.93 -3.35 A3.87 3.87 0 0 1 1.94 -3.35 L0.52 -0.89 Z" fill="#111"/><path d="M1.03 0.00 L3.87 0.00 A3.87 3.87 0 0 1 1.94 3.35 L0.52 0.89 Z" fill="#111"/><path d="M-0.52 0.89 L-1.93 3.35 A3.87 3.87 0 0 1 -3.87 0.00 L-1.03 0.00 Z" fill="#111"/><circle r="0.688" fill="#111"/></g>
<path d="M72.62 218.22 L80.22 213.02 L79.38 211.78 L71.78 216.98 Z" fill="#eee" stroke="#555" stroke-width="0.4" />
<line x1="79.80" y1="212.40" x2="81.04" y2="211.55" stroke="#E07B20" stroke-width="1.6" />
<line x1="72.20" y1="217.60" x2="69.72" y2="219.29" stroke="#666" stroke-width="0.4" />
<circle cx="80.30" cy="217.40" r="1.7" fill="#D6309A"/>
<circle cx="82.30" cy="218.85" r="1.7" fill="#D6309A"/>
<circle cx="81.53" cy="221.20" r="1.7" fill="#D6309A"/>
<circle cx="79.07" cy="221.20" r="1.7" fill="#D6309A"/>
<circle cx="78.30" cy="218.85" r="1.7" fill="#D6309A"/>
<circle cx="80.30" cy="219.50" r="0.9" fill="#8a1a5a"/>
<line x1="43.50" y1="230.60" x2="43.50" y2="254.50" stroke="#111" stroke-width="0.8" />
<path d="M41.6 253.0 L45.4 253.0 L43.5 257.0 Z" fill="#111" stroke="none" stroke-width="1" />
<text transform="translate(46.90,245.40) scale(0.96,1)" font-size="8.05" stroke="#231f20" stroke-width="0.13" >8 weeks</text>
<text transform="translate(41.50,265.50) scale(0.96,1)" font-size="8.15" text-anchor="middle" stroke="#231f20" stroke-width="0.13" >Recovered</text>
<text transform="translate(41.10,274.90) scale(0.96,1)" font-size="8.36" text-anchor="middle" stroke="#231f20" stroke-width="0.13" >CD45.1+</text>
<line x1="61.70" y1="268.00" x2="69.00" y2="268.00" stroke="#111" stroke-width="0.9" />
<path d="M71.6 268.0 L68.4 266.3 L68.4 269.7 Z" fill="#111" stroke="none" stroke-width="1" />
<text transform="translate(74.20,270.40) scale(0.96,1)" font-size="7.94" stroke="#231f20" stroke-width="0.13" >FACS</text>
<circle cx="45.30" cy="281.70" r="1.65" fill="#D6309A"/>
<circle cx="47.20" cy="283.08" r="1.65" fill="#D6309A"/>
<circle cx="46.48" cy="285.32" r="1.65" fill="#D6309A"/>
<circle cx="44.12" cy="285.32" r="1.65" fill="#D6309A"/>
<circle cx="43.40" cy="283.08" r="1.65" fill="#D6309A"/>
<circle cx="45.30" cy="283.70" r="0.9" fill="#8a1a5a"/>
<text transform="translate(55.00,286.20) scale(0.96,1)" font-size="8.15" text-anchor="middle" stroke="#231f20" stroke-width="0.13" >+</text>
<circle cx="65.10" cy="281.70" r="1.65" fill="#3FA34D"/>
<circle cx="67.00" cy="283.08" r="1.65" fill="#3FA34D"/>
<circle cx="66.28" cy="285.32" r="1.65" fill="#3FA34D"/>
<circle cx="63.92" cy="285.32" r="1.65" fill="#3FA34D"/>
<circle cx="63.20" cy="283.08" r="1.65" fill="#3FA34D"/>
<circle cx="65.10" cy="283.70" r="0.9" fill="#1c6a1c"/>
<text transform="translate(69.40,286.40) scale(0.96,1)" font-size="8.15" stroke="#231f20" stroke-width="0.13" >CD45.2+</text>
<text transform="translate(55.00,295.90) scale(0.96,1)" font-size="8.05" text-anchor="middle" stroke="#231f20" stroke-width="0.13" >(5 : 1)</text>
<g transform="translate(32.60,305.80) scale(0.95)"><path d="M17.2 3.4 C18 0.3 22.6 -0.3 23.4 2.6 C23.9 4.6 22.6 6.2 21.0 6.9" fill="none" stroke="#999" stroke-width="0.55"/><path d="M0 8.5 Q2.2 6.2 5.3 4.9 Q9 3.3 14 3.3 Q20.1 3.2 20.9 6.6 Q21.3 9.8 17.4 10 L3 10 Q0.8 9.8 0 8.5 Z" fill="#CFCFCF" stroke="#1a1a1a" stroke-width="0.5"/><path d="M6.5 4.6 L6.8 3.4 L9.1 3.4 L9.4 4.3 Z" fill="#CFCFCF"/><circle cx="7.9" cy="2.3" r="2.25" fill="#CFCFCF" stroke="#1a1a1a" stroke-width="0.5"/></g>
<ellipse cx="51.6" cy="311.6" rx="4.0" ry="3.6" fill="#fff" stroke="#333" stroke-width="0.45"/>
<g transform="translate(46.70,312.00)"><circle r="4.4" fill="#F5C000" stroke="#111" stroke-width="0.5"/><path d="M-0.53 -0.91 L-1.98 -3.43 A3.9600000000000004 3.9600000000000004 0 0 1 1.98 -3.43 L0.53 -0.91 Z" fill="#111"/><path d="M1.06 0.00 L3.96 0.00 A3.9600000000000004 3.9600000000000004 0 0 1 1.98 3.43 L0.53 0.91 Z" fill="#111"/><path d="M-0.53 0.91 L-1.98 3.43 A3.9600000000000004 3.9600000000000004 0 0 1 -3.96 0.00 L-1.06 0.00 Z" fill="#111"/><circle r="0.7040000000000001" fill="#111"/></g>
<path d="M54.98 307.14 L62.98 301.14 L62.02 299.86 L54.02 305.86 Z" fill="#eee" stroke="#555" stroke-width="0.4" />
<line x1="62.50" y1="300.50" x2="63.70" y2="299.60" stroke="#E07B20" stroke-width="1.6" />
<line x1="54.50" y1="306.50" x2="52.10" y2="308.30" stroke="#666" stroke-width="0.4" />
<text transform="translate(44.50,326.30) scale(0.96,1)" font-size="8.26" text-anchor="middle" stroke="#231f20" stroke-width="0.13" >CD45.2</text>
<line x1="43.40" y1="329.60" x2="43.40" y2="355.00" stroke="#111" stroke-width="0.8" />
<path d="M41.5 354.0 L45.3 354.0 L43.4 358.0 Z" fill="#111" stroke="none" stroke-width="1" />
<text transform="translate(47.00,344.50) scale(0.96,1)" font-size="8.15" stroke="#231f20" stroke-width="0.13" >16 weeks</text>
<text transform="translate(44.40,367.00) scale(0.96,1)" font-size="8.46" text-anchor="middle" stroke="#231f20" stroke-width="0.13" >Engraftment</text>
<text x="98.60" y="131.70" font-size="11.0" font-weight="bold" fill="#000" stroke="#000" stroke-width="0.35" >C</text>
<rect x="128.80" y="126.30" width="5.40" height="5.40" fill="#9BDB9F"/>
<text transform="translate(137.20,131.70) scale(0.96,1)" font-size="8.05" stroke="#231f20" stroke-width="0.13" >Ctrl</text>
<rect x="158.30" y="126.30" width="5.40" height="5.40" fill="#E98A9A"/>
<text transform="translate(165.70,131.70) scale(0.96,1)" font-size="8.05" stroke="#231f20" stroke-width="0.13" >ATRA</text>
<rect x="132.50" y="174.25" width="5.60" height="31.75" fill="#9BDB9F"/>
<rect x="141.50" y="185.25" width="5.60" height="20.75" fill="#E98A9A"/>
<rect x="155.00" y="176.50" width="5.60" height="29.50" fill="#9BDB9F"/>
<rect x="164.20" y="175.75" width="5.60" height="30.25" fill="#E98A9A"/>
<line x1="135.30" y1="179.75" x2="135.30" y2="169.75" stroke="#333" stroke-width="0.6" />
<line x1="134.00" y1="169.75" x2="136.60" y2="169.75" stroke="#333" stroke-width="0.6" />
<line x1="134.00" y1="179.75" x2="136.60" y2="179.75" stroke="#333" stroke-width="0.6" />
<line x1="144.30" y1="188.00" x2="144.30" y2="183.00" stroke="#333" stroke-width="0.6" />
<line x1="143.00" y1="183.00" x2="145.60" y2="183.00" stroke="#333" stroke-width="0.6" />
<line x1="143.00" y1="188.00" x2="145.60" y2="188.00" stroke="#333" stroke-width="0.6" />
<line x1="157.80" y1="179.75" x2="157.80" y2="173.00" stroke="#333" stroke-width="0.6" />
<line x1="156.50" y1="173.00" x2="159.10" y2="173.00" stroke="#333" stroke-width="0.6" />
<line x1="156.50" y1="179.75" x2="159.10" y2="179.75" stroke="#333" stroke-width="0.6" />
<line x1="167.00" y1="179.75" x2="167.00" y2="171.00" stroke="#333" stroke-width="0.6" />
<line x1="165.70" y1="171.00" x2="168.30" y2="171.00" stroke="#333" stroke-width="0.6" />
<line x1="165.70" y1="179.75" x2="168.30" y2="179.75" stroke="#333" stroke-width="0.6" />
<circle cx="134.40" cy="168.00" r="1.75" fill="#2FB44A"/>
<circle cx="136.20" cy="169.75" r="1.75" fill="#2FB44A"/>
<circle cx="135.30" cy="171.50" r="1.75" fill="#2FB44A"/>
<circle cx="134.70" cy="174.00" r="1.75" fill="#2FB44A"/>
<circle cx="136.00" cy="178.00" r="1.75" fill="#2FB44A"/>
<circle cx="135.50" cy="181.00" r="1.75" fill="#2FB44A"/>
<circle cx="143.40" cy="182.75" r="1.75" fill="#D10F3A"/>
<circle cx="145.20" cy="185.50" r="1.75" fill="#D10F3A"/>
<circle cx="144.30" cy="186.50" r="1.75" fill="#D10F3A"/>
<circle cx="143.70" cy="187.50" r="1.75" fill="#D10F3A"/>
<circle cx="145.00" cy="188.50" r="1.75" fill="#D10F3A"/>
<circle cx="144.50" cy="189.00" r="1.75" fill="#D10F3A"/>
<circle cx="156.90" cy="171.00" r="1.75" fill="#2FB44A"/>
<circle cx="158.70" cy="173.50" r="1.75" fill="#2FB44A"/>
<circle cx="157.80" cy="175.50" r="1.75" fill="#2FB44A"/>
<circle cx="157.20" cy="177.25" r="1.75" fill="#2FB44A"/>
<circle cx="158.50" cy="179.75" r="1.75" fill="#2FB44A"/>
<circle cx="158.00" cy="181.00" r="1.75" fill="#2FB44A"/>
<circle cx="166.10" cy="168.00" r="1.75" fill="#D10F3A"/>
<circle cx="167.90" cy="171.50" r="1.75" fill="#D10F3A"/>
<circle cx="167.00" cy="173.50" r="1.75" fill="#D10F3A"/>
<circle cx="166.40" cy="178.50" r="1.75" fill="#D10F3A"/>
<circle cx="167.70" cy="179.75" r="1.75" fill="#D10F3A"/>
<line x1="129.50" y1="151.20" x2="129.50" y2="206.65" stroke="#231f20" stroke-width="1.3" />
<line x1="126.60" y1="206.00" x2="129.50" y2="206.00" stroke="#231f20" stroke-width="1.0" />
<text transform="translate(123.40,209.02) scale(0.86,1)" font-size="8.5" text-anchor="end" stroke="#231f20" stroke-width="0.13" >0.0</text>
<line x1="126.60" y1="193.50" x2="129.50" y2="193.50" stroke="#231f20" stroke-width="1.0" />
<text transform="translate(123.40,196.52) scale(0.86,1)" font-size="8.5" text-anchor="end" stroke="#231f20" stroke-width="0.13" >0.5</text>
<line x1="126.60" y1="181.00" x2="129.50" y2="181.00" stroke="#231f20" stroke-width="1.0" />
<text transform="translate(123.40,184.02) scale(0.86,1)" font-size="8.5" text-anchor="end" stroke="#231f20" stroke-width="0.13" >1.0</text>
<line x1="126.60" y1="168.50" x2="129.50" y2="168.50" stroke="#231f20" stroke-width="1.0" />
<text transform="translate(123.40,171.52) scale(0.86,1)" font-size="8.5" text-anchor="end" stroke="#231f20" stroke-width="0.13" >1.5</text>
<line x1="126.60" y1="156.00" x2="129.50" y2="156.00" stroke="#231f20" stroke-width="1.0" />
<text transform="translate(123.40,159.02) scale(0.86,1)" font-size="8.5" text-anchor="end" stroke="#231f20" stroke-width="0.13" >2.0</text>
<line x1="128.85" y1="206.00" x2="172.50" y2="206.00" stroke="#231f20" stroke-width="1.3" />
<line x1="139.20" y1="206.00" x2="139.20" y2="208.60" stroke="#231f20" stroke-width="0.9" />
<line x1="162.20" y1="206.00" x2="162.20" y2="208.60" stroke="#231f20" stroke-width="0.9" />
<text transform="translate(151.00,145.70) scale(0.907,1)" font-size="8.36" text-anchor="middle" stroke="#231f20" stroke-width="0.13" >LT-HSC</text>
<line x1="135.40" y1="162.50" x2="143.40" y2="162.50" stroke="#8e8e8e" stroke-width="1.35" />
<text x="139.40" y="159.90" font-size="6.2" text-anchor="middle" fill="#333" stroke="#333" stroke-width="0.22" >‡‡</text>
<line x1="145.00" y1="162.50" x2="166.50" y2="162.50" stroke="#8e8e8e" stroke-width="1.35" />
<text x="155.75" y="159.90" font-size="6.2" text-anchor="middle" fill="#333" stroke="#333" stroke-width="0.22" >‡‡</text>
<text transform="translate(140.00,214.00) rotate(-45) scale(0.96,1)" font-size="8.15" text-anchor="end" stroke="#231f20" stroke-width="0.13" >Rig-I +/+</text>
<text transform="translate(163.00,214.00) rotate(-45) scale(0.96,1)" font-size="8.15" text-anchor="end" stroke="#231f20" stroke-width="0.13" >Rig-I –/–</text>
<rect x="191.80" y="176.60" width="5.60" height="29.40" fill="#9BDB9F"/>
<rect x="200.80" y="175.20" width="5.60" height="30.80" fill="#E98A9A"/>
<rect x="214.30" y="179.40" width="5.60" height="26.60" fill="#9BDB9F"/>
<rect x="223.50" y="180.20" width="5.60" height="25.80" fill="#E98A9A"/>
<line x1="194.60" y1="184.00" x2="194.60" y2="169.00" stroke="#333" stroke-width="0.6" />
<line x1="193.30" y1="169.00" x2="195.90" y2="169.00" stroke="#333" stroke-width="0.6" />
<line x1="193.30" y1="184.00" x2="195.90" y2="184.00" stroke="#333" stroke-width="0.6" />
<line x1="203.60" y1="179.00" x2="203.60" y2="171.50" stroke="#333" stroke-width="0.6" />
<line x1="202.30" y1="171.50" x2="204.90" y2="171.50" stroke="#333" stroke-width="0.6" />
<line x1="202.30" y1="179.00" x2="204.90" y2="179.00" stroke="#333" stroke-width="0.6" />
<line x1="217.10" y1="181.00" x2="217.10" y2="177.50" stroke="#333" stroke-width="0.6" />
<line x1="215.80" y1="177.50" x2="218.40" y2="177.50" stroke="#333" stroke-width="0.6" />
<line x1="215.80" y1="181.00" x2="218.40" y2="181.00" stroke="#333" stroke-width="0.6" />
<line x1="226.30" y1="183.00" x2="226.30" y2="177.50" stroke="#333" stroke-width="0.6" />
<line x1="225.00" y1="177.50" x2="227.60" y2="177.50" stroke="#333" stroke-width="0.6" />
<line x1="225.00" y1="183.00" x2="227.60" y2="183.00" stroke="#333" stroke-width="0.6" />
<circle cx="193.70" cy="165.00" r="1.75" fill="#2FB44A"/>
<circle cx="195.50" cy="170.00" r="1.75" fill="#2FB44A"/>
<circle cx="194.60" cy="178.00" r="1.75" fill="#2FB44A"/>
<circle cx="194.00" cy="183.00" r="1.75" fill="#2FB44A"/>
<circle cx="195.30" cy="186.00" r="1.75" fill="#2FB44A"/>
<circle cx="202.70" cy="168.50" r="1.75" fill="#D10F3A"/>
<circle cx="204.50" cy="175.00" r="1.75" fill="#D10F3A"/>
<circle cx="203.60" cy="176.00" r="1.75" fill="#D10F3A"/>
<circle cx="203.00" cy="177.00" r="1.75" fill="#D10F3A"/>
<circle cx="204.30" cy="181.00" r="1.75" fill="#D10F3A"/>
<circle cx="216.20" cy="177.00" r="1.75" fill="#2FB44A"/>
<circle cx="218.00" cy="178.50" r="1.75" fill="#2FB44A"/>
<circle cx="217.10" cy="179.50" r="1.75" fill="#2FB44A"/>
<circle cx="216.50" cy="181.00" r="1.75" fill="#2FB44A"/>
<circle cx="225.40" cy="176.00" r="1.75" fill="#D10F3A"/>
<circle cx="227.20" cy="177.50" r="1.75" fill="#D10F3A"/>
<circle cx="226.30" cy="179.50" r="1.75" fill="#D10F3A"/>
<circle cx="225.70" cy="182.00" r="1.75" fill="#D10F3A"/>
<circle cx="227.00" cy="184.00" r="1.75" fill="#D10F3A"/>
<line x1="188.80" y1="151.20" x2="188.80" y2="206.65" stroke="#231f20" stroke-width="1.3" />
<line x1="185.90" y1="206.00" x2="188.80" y2="206.00" stroke="#231f20" stroke-width="1.0" />
<text transform="translate(182.70,209.02) scale(0.86,1)" font-size="8.5" text-anchor="end" stroke="#231f20" stroke-width="0.13" >0</text>
<line x1="185.90" y1="196.00" x2="188.80" y2="196.00" stroke="#231f20" stroke-width="1.0" />
<text transform="translate(182.70,199.02) scale(0.86,1)" font-size="8.5" text-anchor="end" stroke="#231f20" stroke-width="0.13" >1</text>
<line x1="185.90" y1="186.00" x2="188.80" y2="186.00" stroke="#231f20" stroke-width="1.0" />
<text transform="translate(182.70,189.02) scale(0.86,1)" font-size="8.5" text-anchor="end" stroke="#231f20" stroke-width="0.13" >2</text>
<line x1="185.90" y1="176.00" x2="188.80" y2="176.00" stroke="#231f20" stroke-width="1.0" />
<text transform="translate(182.70,179.02) scale(0.86,1)" font-size="8.5" text-anchor="end" stroke="#231f20" stroke-width="0.13" >3</text>
<line x1="185.90" y1="166.00" x2="188.80" y2="166.00" stroke="#231f20" stroke-width="1.0" />
<text transform="translate(182.70,169.02) scale(0.86,1)" font-size="8.5" text-anchor="end" stroke="#231f20" stroke-width="0.13" >4</text>
<line x1="185.90" y1="156.00" x2="188.80" y2="156.00" stroke="#231f20" stroke-width="1.0" />
<text transform="translate(182.70,159.02) scale(0.86,1)" font-size="8.5" text-anchor="end" stroke="#231f20" stroke-width="0.13" >5</text>
<line x1="188.15" y1="206.00" x2="231.80" y2="206.00" stroke="#231f20" stroke-width="1.3" />
<line x1="198.50" y1="206.00" x2="198.50" y2="208.60" stroke="#231f20" stroke-width="0.9" />
<line x1="221.50" y1="206.00" x2="221.50" y2="208.60" stroke="#231f20" stroke-width="0.9" />
<text transform="translate(210.30,145.70) scale(0.907,1)" font-size="8.36" text-anchor="middle" stroke="#231f20" stroke-width="0.13" >ST-HSC</text>
<text transform="translate(199.30,214.00) rotate(-45) scale(0.96,1)" font-size="8.15" text-anchor="end" stroke="#231f20" stroke-width="0.13" >Rig-I +/+</text>
<text transform="translate(222.30,214.00) rotate(-45) scale(0.96,1)" font-size="8.15" text-anchor="end" stroke="#231f20" stroke-width="0.13" >Rig-I –/–</text>
<rect x="251.20" y="167.75" width="5.60" height="38.25" fill="#9BDB9F"/>
<rect x="260.20" y="172.50" width="5.60" height="33.50" fill="#E98A9A"/>
<rect x="273.70" y="173.25" width="5.60" height="32.75" fill="#9BDB9F"/>
<rect x="282.90" y="176.00" width="5.60" height="30.00" fill="#E98A9A"/>
<line x1="254.00" y1="178.50" x2="254.00" y2="161.00" stroke="#333" stroke-width="0.6" />
<line x1="252.70" y1="161.00" x2="255.30" y2="161.00" stroke="#333" stroke-width="0.6" />
<line x1="252.70" y1="178.50" x2="255.30" y2="178.50" stroke="#333" stroke-width="0.6" />
<line x1="263.00" y1="176.62" x2="263.00" y2="168.50" stroke="#333" stroke-width="0.6" />
<line x1="261.70" y1="168.50" x2="264.30" y2="168.50" stroke="#333" stroke-width="0.6" />
<line x1="261.70" y1="176.62" x2="264.30" y2="176.62" stroke="#333" stroke-width="0.6" />
<line x1="276.50" y1="177.25" x2="276.50" y2="169.12" stroke="#333" stroke-width="0.6" />
<line x1="275.20" y1="169.12" x2="277.80" y2="169.12" stroke="#333" stroke-width="0.6" />
<line x1="275.20" y1="177.25" x2="277.80" y2="177.25" stroke="#333" stroke-width="0.6" />
<line x1="285.70" y1="179.12" x2="285.70" y2="172.25" stroke="#333" stroke-width="0.6" />
<line x1="284.40" y1="172.25" x2="287.00" y2="172.25" stroke="#333" stroke-width="0.6" />
<line x1="284.40" y1="179.12" x2="287.00" y2="179.12" stroke="#333" stroke-width="0.6" />
<circle cx="253.10" cy="157.88" r="1.75" fill="#2FB44A"/>
<circle cx="254.90" cy="168.50" r="1.75" fill="#2FB44A"/>
<circle cx="254.00" cy="169.75" r="1.75" fill="#2FB44A"/>
<circle cx="253.40" cy="173.50" r="1.75" fill="#2FB44A"/>
<circle cx="254.70" cy="181.62" r="1.75" fill="#2FB44A"/>
<circle cx="262.10" cy="165.38" r="1.75" fill="#D10F3A"/>
<circle cx="263.90" cy="170.38" r="1.75" fill="#D10F3A"/>
<circle cx="263.00" cy="172.25" r="1.75" fill="#D10F3A"/>
<circle cx="262.40" cy="176.00" r="1.75" fill="#D10F3A"/>
<circle cx="263.70" cy="178.50" r="1.75" fill="#D10F3A"/>
<circle cx="275.60" cy="166.62" r="1.75" fill="#2FB44A"/>
<circle cx="277.40" cy="172.25" r="1.75" fill="#2FB44A"/>
<circle cx="276.50" cy="174.12" r="1.75" fill="#2FB44A"/>
<circle cx="275.90" cy="176.00" r="1.75" fill="#2FB44A"/>
<circle cx="277.20" cy="178.50" r="1.75" fill="#2FB44A"/>
<circle cx="284.80" cy="169.12" r="1.75" fill="#D10F3A"/>
<circle cx="286.60" cy="174.12" r="1.75" fill="#D10F3A"/>
<circle cx="285.70" cy="176.00" r="1.75" fill="#D10F3A"/>
<circle cx="285.10" cy="177.88" r="1.75" fill="#D10F3A"/>
<circle cx="286.40" cy="179.12" r="1.75" fill="#D10F3A"/>
<line x1="248.20" y1="151.20" x2="248.20" y2="206.65" stroke="#231f20" stroke-width="1.3" />
<line x1="245.30" y1="206.00" x2="248.20" y2="206.00" stroke="#231f20" stroke-width="1.0" />
<text transform="translate(242.10,209.02) scale(0.86,1)" font-size="8.5" text-anchor="end" stroke="#231f20" stroke-width="0.13" >0</text>
<line x1="245.30" y1="193.50" x2="248.20" y2="193.50" stroke="#231f20" stroke-width="1.0" />
<text transform="translate(242.10,196.52) scale(0.86,1)" font-size="8.5" text-anchor="end" stroke="#231f20" stroke-width="0.13" >1</text>
<line x1="245.30" y1="181.00" x2="248.20" y2="181.00" stroke="#231f20" stroke-width="1.0" />
<text transform="translate(242.10,184.02) scale(0.86,1)" font-size="8.5" text-anchor="end" stroke="#231f20" stroke-width="0.13" >2</text>
<line x1="245.30" y1="168.50" x2="248.20" y2="168.50" stroke="#231f20" stroke-width="1.0" />
<text transform="translate(242.10,171.52) scale(0.86,1)" font-size="8.5" text-anchor="end" stroke="#231f20" stroke-width="0.13" >3</text>
<line x1="245.30" y1="156.00" x2="248.20" y2="156.00" stroke="#231f20" stroke-width="1.0" />
<text transform="translate(242.10,159.02) scale(0.86,1)" font-size="8.5" text-anchor="end" stroke="#231f20" stroke-width="0.13" >4</text>
<line x1="247.55" y1="206.00" x2="291.20" y2="206.00" stroke="#231f20" stroke-width="1.3" />
<line x1="257.90" y1="206.00" x2="257.90" y2="208.60" stroke="#231f20" stroke-width="0.9" />
<line x1="280.90" y1="206.00" x2="280.90" y2="208.60" stroke="#231f20" stroke-width="0.9" />
<text transform="translate(269.70,145.70) scale(0.907,1)" font-size="8.36" text-anchor="middle" stroke="#231f20" stroke-width="0.13" >MPP</text>
<text transform="translate(258.70,214.00) rotate(-45) scale(0.96,1)" font-size="8.15" text-anchor="end" stroke="#231f20" stroke-width="0.13" >Rig-I +/+</text>
<text transform="translate(281.70,214.00) rotate(-45) scale(0.96,1)" font-size="8.15" text-anchor="end" stroke="#231f20" stroke-width="0.13" >Rig-I –/–</text>
<rect x="316.50" y="176.25" width="5.60" height="29.75" fill="#9BDB9F"/>
<rect x="325.50" y="189.75" width="5.60" height="16.25" fill="#E98A9A"/>
<rect x="339.00" y="178.50" width="5.60" height="27.50" fill="#9BDB9F"/>
<rect x="348.20" y="178.25" width="5.60" height="27.75" fill="#E98A9A"/>
<line x1="319.30" y1="183.50" x2="319.30" y2="169.75" stroke="#333" stroke-width="0.6" />
<line x1="318.00" y1="169.75" x2="320.60" y2="169.75" stroke="#333" stroke-width="0.6" />
<line x1="318.00" y1="183.50" x2="320.60" y2="183.50" stroke="#333" stroke-width="0.6" />
<line x1="328.30" y1="191.50" x2="328.30" y2="188.00" stroke="#333" stroke-width="0.6" />
<line x1="327.00" y1="188.00" x2="329.60" y2="188.00" stroke="#333" stroke-width="0.6" />
<line x1="327.00" y1="191.50" x2="329.60" y2="191.50" stroke="#333" stroke-width="0.6" />
<line x1="341.80" y1="181.50" x2="341.80" y2="175.50" stroke="#333" stroke-width="0.6" />
<line x1="340.50" y1="175.50" x2="343.10" y2="175.50" stroke="#333" stroke-width="0.6" />
<line x1="340.50" y1="181.50" x2="343.10" y2="181.50" stroke="#333" stroke-width="0.6" />
<line x1="351.00" y1="183.00" x2="351.00" y2="173.50" stroke="#333" stroke-width="0.6" />
<line x1="349.70" y1="173.50" x2="352.30" y2="173.50" stroke="#333" stroke-width="0.6" />
<line x1="349.70" y1="183.00" x2="352.30" y2="183.00" stroke="#333" stroke-width="0.6" />
<circle cx="318.40" cy="169.75" r="1.75" fill="#2FB44A"/>
<circle cx="320.20" cy="171.00" r="1.75" fill="#2FB44A"/>
<circle cx="319.30" cy="173.50" r="1.75" fill="#2FB44A"/>
<circle cx="318.70" cy="183.50" r="1.75" fill="#2FB44A"/>
<circle cx="320.00" cy="185.50" r="1.75" fill="#2FB44A"/>
<circle cx="327.40" cy="186.50" r="1.75" fill="#D10F3A"/>
<circle cx="329.20" cy="188.50" r="1.75" fill="#D10F3A"/>
<circle cx="328.30" cy="190.50" r="1.75" fill="#D10F3A"/>
<circle cx="327.70" cy="191.00" r="1.75" fill="#D10F3A"/>
<circle cx="340.90" cy="174.75" r="1.75" fill="#2FB44A"/>
<circle cx="342.70" cy="176.00" r="1.75" fill="#2FB44A"/>
<circle cx="341.80" cy="178.50" r="1.75" fill="#2FB44A"/>
<circle cx="341.20" cy="181.00" r="1.75" fill="#2FB44A"/>
<circle cx="342.50" cy="182.25" r="1.75" fill="#2FB44A"/>
<circle cx="350.10" cy="172.25" r="1.75" fill="#D10F3A"/>
<circle cx="351.90" cy="174.00" r="1.75" fill="#D10F3A"/>
<circle cx="351.00" cy="178.50" r="1.75" fill="#D10F3A"/>
<circle cx="350.40" cy="182.25" r="1.75" fill="#D10F3A"/>
<circle cx="351.70" cy="183.50" r="1.75" fill="#D10F3A"/>
<line x1="313.50" y1="151.20" x2="313.50" y2="206.65" stroke="#231f20" stroke-width="1.3" />
<line x1="310.60" y1="206.00" x2="313.50" y2="206.00" stroke="#231f20" stroke-width="1.0" />
<text transform="translate(307.40,209.02) scale(0.86,1)" font-size="8.5" text-anchor="end" stroke="#231f20" stroke-width="0.13" >0.0</text>
<line x1="310.60" y1="193.50" x2="313.50" y2="193.50" stroke="#231f20" stroke-width="1.0" />
<text transform="translate(307.40,196.52) scale(0.86,1)" font-size="8.5" text-anchor="end" stroke="#231f20" stroke-width="0.13" >0.5</text>
<line x1="310.60" y1="181.00" x2="313.50" y2="181.00" stroke="#231f20" stroke-width="1.0" />
<text transform="translate(307.40,184.02) scale(0.86,1)" font-size="8.5" text-anchor="end" stroke="#231f20" stroke-width="0.13" >1.0</text>
<line x1="310.60" y1="168.50" x2="313.50" y2="168.50" stroke="#231f20" stroke-width="1.0" />
<text transform="translate(307.40,171.52) scale(0.86,1)" font-size="8.5" text-anchor="end" stroke="#231f20" stroke-width="0.13" >1.5</text>
<line x1="310.60" y1="156.00" x2="313.50" y2="156.00" stroke="#231f20" stroke-width="1.0" />
<text transform="translate(307.40,159.02) scale(0.86,1)" font-size="8.5" text-anchor="end" stroke="#231f20" stroke-width="0.13" >2.0</text>
<line x1="312.85" y1="206.00" x2="356.50" y2="206.00" stroke="#231f20" stroke-width="1.3" />
<line x1="323.20" y1="206.00" x2="323.20" y2="208.60" stroke="#231f20" stroke-width="0.9" />
<line x1="346.20" y1="206.00" x2="346.20" y2="208.60" stroke="#231f20" stroke-width="0.9" />
<text transform="translate(335.00,145.70) scale(0.907,1)" font-size="8.36" text-anchor="middle" stroke="#231f20" stroke-width="0.13" >HSC</text>
<line x1="319.20" y1="164.20" x2="327.20" y2="164.20" stroke="#8e8e8e" stroke-width="1.35" />
<text x="323.20" y="161.60" font-size="6.2" text-anchor="middle" fill="#333" stroke="#333" stroke-width="0.22" >‡‡</text>
<line x1="329.20" y1="164.20" x2="350.30" y2="164.20" stroke="#8e8e8e" stroke-width="1.35" />
<text x="339.75" y="161.60" font-size="6.2" text-anchor="middle" fill="#333" stroke="#333" stroke-width="0.22" >‡‡</text>
<text transform="translate(324.00,214.00) rotate(-45) scale(0.96,1)" font-size="8.15" text-anchor="end" stroke="#231f20" stroke-width="0.13" >Rig-I +/+</text>
<text transform="translate(347.00,214.00) rotate(-45) scale(0.96,1)" font-size="8.15" text-anchor="end" stroke="#231f20" stroke-width="0.13" >Rig-I –/–</text>
<text transform="translate(105.20,181.40) rotate(-90) scale(0.96,1)" font-size="8.26" text-anchor="middle" stroke="#231f20" stroke-width="0.13" >CD45.1+ per leg (×10<tspan dy="-2.8" font-size="5.3">4</tspan><tspan dy="2.8">)</tspan></text>
<text x="363.60" y="131.20" font-size="11.0" font-weight="bold" fill="#000" stroke="#000" stroke-width="0.35" >D</text>
<text transform="translate(441.20,145.50) scale(0.96,1)" font-size="8.36" text-anchor="middle" stroke="#231f20" stroke-width="0.13" >HSC</text>
<rect x="400.20" y="169.00" width="4.10" height="36.90" fill="#A6C0DA"/>
<circle cx="401.75" cy="167.98" r="1.35" fill="#124F8E"/>
<circle cx="402.75" cy="169.00" r="1.35" fill="#124F8E"/>
<circle cx="402.25" cy="170.03" r="1.35" fill="#124F8E"/>
<rect x="406.80" y="171.56" width="4.10" height="34.34" fill="#4F7FAE"/>
<circle cx="408.35" cy="170.03" r="1.35" fill="#124F8E"/>
<circle cx="409.35" cy="172.08" r="1.35" fill="#124F8E"/>
<circle cx="408.85" cy="174.12" r="1.35" fill="#124F8E"/>
<rect x="413.20" y="169.51" width="4.10" height="36.39" fill="#FED6A2"/>
<circle cx="414.75" cy="167.98" r="1.35" fill="#F7931E"/>
<circle cx="415.75" cy="169.00" r="1.35" fill="#F7931E"/>
<circle cx="415.25" cy="171.05" r="1.35" fill="#F7931E"/>
<circle cx="414.95" cy="172.08" r="1.35" fill="#F7931E"/>
<rect x="420.00" y="168.49" width="4.10" height="37.41" fill="#FDA845"/>
<circle cx="421.55" cy="164.90" r="1.35" fill="#F7931E"/>
<circle cx="422.55" cy="166.95" r="1.35" fill="#F7931E"/>
<circle cx="422.05" cy="169.00" r="1.35" fill="#F7931E"/>
<circle cx="421.75" cy="170.03" r="1.35" fill="#F7931E"/>
<rect x="428.00" y="199.24" width="4.10" height="6.66" fill="#A6C0DA"/>
<circle cx="429.55" cy="195.65" r="1.35" fill="#124F8E"/>
<circle cx="430.55" cy="196.68" r="1.35" fill="#124F8E"/>
<circle cx="430.05" cy="198.21" r="1.35" fill="#124F8E"/>
<circle cx="429.75" cy="199.24" r="1.35" fill="#124F8E"/>
<rect x="434.80" y="197.70" width="4.10" height="8.20" fill="#4F7FAE"/>
<circle cx="436.35" cy="193.60" r="1.35" fill="#124F8E"/>
<circle cx="437.35" cy="195.14" r="1.35" fill="#124F8E"/>
<circle cx="436.85" cy="196.68" r="1.35" fill="#124F8E"/>
<circle cx="436.55" cy="198.21" r="1.35" fill="#124F8E"/>
<circle cx="436.35" cy="199.24" r="1.35" fill="#124F8E"/>
<rect x="441.50" y="201.29" width="4.10" height="4.61" fill="#FED6A2"/>
<circle cx="443.05" cy="196.16" r="1.35" fill="#F7931E"/>
<circle cx="444.05" cy="197.70" r="1.35" fill="#F7931E"/>
<circle cx="443.55" cy="199.24" r="1.35" fill="#F7931E"/>
<circle cx="443.25" cy="200.78" r="1.35" fill="#F7931E"/>
<rect x="448.80" y="201.80" width="4.10" height="4.10" fill="#FDA845"/>
<circle cx="450.35" cy="197.19" r="1.35" fill="#F7931E"/>
<circle cx="451.35" cy="198.72" r="1.35" fill="#F7931E"/>
<circle cx="450.85" cy="200.26" r="1.35" fill="#F7931E"/>
<circle cx="450.55" cy="201.29" r="1.35" fill="#F7931E"/>
<rect x="457.90" y="201.80" width="4.10" height="4.10" fill="#A6C0DA"/>
<circle cx="459.45" cy="200.26" r="1.35" fill="#124F8E"/>
<circle cx="460.45" cy="201.29" r="1.35" fill="#124F8E"/>
<circle cx="459.95" cy="201.80" r="1.35" fill="#124F8E"/>
<rect x="464.20" y="201.29" width="4.10" height="4.61" fill="#4F7FAE"/>
<circle cx="465.75" cy="199.24" r="1.35" fill="#124F8E"/>
<circle cx="466.75" cy="200.26" r="1.35" fill="#124F8E"/>
<circle cx="466.25" cy="201.29" r="1.35" fill="#124F8E"/>
<rect x="471.00" y="202.83" width="4.10" height="3.07" fill="#FED6A2"/>
<circle cx="472.55" cy="201.29" r="1.35" fill="#F7931E"/>
<circle cx="473.55" cy="201.80" r="1.35" fill="#F7931E"/>
<circle cx="473.05" cy="202.31" r="1.35" fill="#F7931E"/>
<rect x="477.50" y="202.83" width="4.10" height="3.07" fill="#FDA845"/>
<circle cx="479.05" cy="201.29" r="1.35" fill="#F7931E"/>
<circle cx="480.05" cy="201.80" r="1.35" fill="#F7931E"/>
<circle cx="479.55" cy="202.83" r="1.35" fill="#F7931E"/>
<line x1="397.40" y1="151.20" x2="397.40" y2="206.55" stroke="#231f20" stroke-width="1.3" />
<line x1="394.50" y1="205.90" x2="397.40" y2="205.90" stroke="#231f20" stroke-width="1.0" />
<text transform="translate(390.80,208.92) scale(0.86,1)" font-size="8.5" text-anchor="end" stroke="#231f20" stroke-width="0.13" >0</text>
<line x1="394.50" y1="195.65" x2="397.40" y2="195.65" stroke="#231f20" stroke-width="1.0" />
<text transform="translate(390.80,198.67) scale(0.86,1)" font-size="8.5" text-anchor="end" stroke="#231f20" stroke-width="0.13" >20</text>
<line x1="394.50" y1="185.40" x2="397.40" y2="185.40" stroke="#231f20" stroke-width="1.0" />
<text transform="translate(390.80,188.42) scale(0.86,1)" font-size="8.5" text-anchor="end" stroke="#231f20" stroke-width="0.13" >40</text>
<line x1="394.50" y1="175.15" x2="397.40" y2="175.15" stroke="#231f20" stroke-width="1.0" />
<text transform="translate(390.80,178.17) scale(0.86,1)" font-size="8.5" text-anchor="end" stroke="#231f20" stroke-width="0.13" >60</text>
<line x1="394.50" y1="164.90" x2="397.40" y2="164.90" stroke="#231f20" stroke-width="1.0" />
<text transform="translate(390.80,167.92) scale(0.86,1)" font-size="8.5" text-anchor="end" stroke="#231f20" stroke-width="0.13" >80</text>
<line x1="394.50" y1="154.65" x2="397.40" y2="154.65" stroke="#231f20" stroke-width="1.0" />
<text transform="translate(390.80,157.67) scale(0.86,1)" font-size="8.5" text-anchor="end" stroke="#231f20" stroke-width="0.13" >100</text>
<line x1="396.75" y1="205.90" x2="485.60" y2="205.90" stroke="#231f20" stroke-width="1.3" />
<line x1="410.80" y1="205.90" x2="410.80" y2="208.50" stroke="#231f20" stroke-width="0.9" />
<line x1="441.20" y1="205.90" x2="441.20" y2="208.50" stroke="#231f20" stroke-width="0.9" />
<line x1="469.50" y1="205.90" x2="469.50" y2="208.50" stroke="#231f20" stroke-width="0.9" />
<text transform="translate(412.00,219.00) scale(0.96,1)" font-size="8.15" text-anchor="middle" stroke="#231f20" stroke-width="0.13" >G0</text>
<text transform="translate(440.60,219.00) scale(0.96,1)" font-size="8.15" text-anchor="middle" stroke="#231f20" stroke-width="0.13" >G1</text>
<text transform="translate(469.00,219.00) scale(0.96,1)" font-size="8.26" text-anchor="middle" stroke="#231f20" stroke-width="0.13" >G2/S/M</text>
<line x1="401.80" y1="163.50" x2="408.00" y2="163.50" stroke="#8e8e8e" stroke-width="1.35" />
<text x="404.90" y="160.90" font-size="6.2" text-anchor="middle" fill="#333" stroke="#333" stroke-width="0.22" >‡‡</text>
<line x1="410.00" y1="160.90" x2="421.80" y2="160.90" stroke="#8e8e8e" stroke-width="1.35" />
<text x="415.90" y="158.30" font-size="6.2" text-anchor="middle" fill="#333" stroke="#333" stroke-width="0.22" >‡‡‡</text>
<line x1="437.40" y1="189.20" x2="450.40" y2="189.20" stroke="#8e8e8e" stroke-width="1.35" />
<text x="443.90" y="186.60" font-size="6.2" text-anchor="middle" fill="#333" stroke="#333" stroke-width="0.22" >‡‡‡</text>
<text transform="translate(374.40,179.20) rotate(-90) scale(0.864,1)" font-size="8.15" text-anchor="middle" stroke="#231f20" stroke-width="0.13" >Percentage (%)</text>
<rect x="454.30" y="153.10" width="5.10" height="5.00" fill="#A6C0DA"/>
<text transform="translate(462.80,158.20) scale(0.96,1)" font-size="7.94" stroke="#231f20" stroke-width="0.13" ><tspan font-style="italic">Rig-I</tspan> +/+ Ctrl</text>
<rect x="454.30" y="162.70" width="5.10" height="5.00" fill="#4F7FAE"/>
<text transform="translate(462.80,167.80) scale(0.96,1)" font-size="7.94" stroke="#231f20" stroke-width="0.13" ><tspan font-style="italic">Rig-I</tspan> +/+ ATRA</text>
<rect x="454.30" y="172.60" width="5.10" height="5.00" fill="#FED6A2"/>
<text transform="translate(462.80,177.70) scale(0.96,1)" font-size="7.94" stroke="#231f20" stroke-width="0.13" ><tspan font-style="italic">Rig-I</tspan> –/– Ctrl</text>
<rect x="454.30" y="182.20" width="5.10" height="5.00" fill="#FDA845"/>
<text transform="translate(462.80,187.30) scale(0.96,1)" font-size="7.94" stroke="#231f20" stroke-width="0.13" ><tspan font-style="italic">Rig-I</tspan> –/– ATRA</text>
<text x="105.60" y="262.40" font-size="11.0" font-weight="bold" fill="#000" stroke="#000" stroke-width="0.35" >E</text>
<line x1="132.90" y1="260.00" x2="140.10" y2="260.00" stroke="#8EB2D6" stroke-width="1.2" />
<path d="M134.50 260.00 L136.50 258.10 L138.50 260.00 L136.50 261.90 Z" fill="#8EB2D6" stroke="#8EB2D6" stroke-width="0.3" />
<text transform="translate(143.30,262.60) scale(0.96,1)" font-size="7.94" stroke="#231f20" stroke-width="0.13" ><tspan font-style="italic">Rig-I</tspan> +/+ Ctrl</text>
<line x1="195.60" y1="260.00" x2="202.80" y2="260.00" stroke="#134C8A" stroke-width="1.2" />
<path d="M197.20 260.00 L199.20 258.10 L201.20 260.00 L199.20 261.90 Z" fill="#134C8A" stroke="#134C8A" stroke-width="0.3" />
<text transform="translate(206.20,262.60) scale(0.96,1)" font-size="7.94" stroke="#231f20" stroke-width="0.13" ><tspan font-style="italic">Rig-I</tspan> +/+ ATRA</text>
<line x1="265.00" y1="260.00" x2="272.20" y2="260.00" stroke="#FEC885" stroke-width="1.2" />
<path d="M266.60 260.00 L268.60 258.10 L270.60 260.00 L268.60 261.90 Z" fill="#FEC885" stroke="#FEC885" stroke-width="0.3" />
<text transform="translate(275.20,262.60) scale(0.96,1)" font-size="7.94" stroke="#231f20" stroke-width="0.13" ><tspan font-style="italic">Rig-I</tspan> –/– Ctrl</text>
<line x1="324.90" y1="260.00" x2="332.10" y2="260.00" stroke="#F7931E" stroke-width="1.2" />
<path d="M326.50 260.00 L328.50 258.10 L330.50 260.00 L328.50 261.90 Z" fill="#F7931E" stroke="#F7931E" stroke-width="0.3" />
<text transform="translate(335.70,262.60) scale(0.96,1)" font-size="7.94" stroke="#231f20" stroke-width="0.13" ><tspan font-style="italic">Rig-I</tspan> –/– ATRA</text>
<line x1="144.80" y1="321.37" x2="144.80" y2="355.82" stroke="#151515" stroke-width="0.75" />
<line x1="143.60" y1="321.37" x2="146.00" y2="321.37" stroke="#151515" stroke-width="0.7" />
<line x1="143.60" y1="355.82" x2="146.00" y2="355.82" stroke="#151515" stroke-width="0.7" />
<line x1="143.60" y1="327.59" x2="146.00" y2="327.59" stroke="#151515" stroke-width="0.7" />
<line x1="143.60" y1="326.92" x2="146.00" y2="326.92" stroke="#151515" stroke-width="0.7" />
<line x1="143.60" y1="352.43" x2="146.00" y2="352.43" stroke="#151515" stroke-width="0.7" />
<line x1="143.60" y1="344.25" x2="146.00" y2="344.25" stroke="#151515" stroke-width="0.7" />
<line x1="163.00" y1="327.46" x2="163.00" y2="360.52" stroke="#151515" stroke-width="0.75" />
<line x1="161.80" y1="327.46" x2="164.20" y2="327.46" stroke="#151515" stroke-width="0.7" />
<line x1="161.80" y1="360.52" x2="164.20" y2="360.52" stroke="#151515" stroke-width="0.7" />
<line x1="161.80" y1="334.35" x2="164.20" y2="334.35" stroke="#151515" stroke-width="0.7" />
<line x1="161.80" y1="334.02" x2="164.20" y2="334.02" stroke="#151515" stroke-width="0.7" />
<line x1="161.80" y1="357.87" x2="164.20" y2="357.87" stroke="#151515" stroke-width="0.7" />
<line x1="161.80" y1="350.25" x2="164.20" y2="350.25" stroke="#151515" stroke-width="0.7" />
<line x1="181.30" y1="329.20" x2="181.30" y2="360.08" stroke="#151515" stroke-width="0.75" />
<line x1="180.10" y1="329.20" x2="182.50" y2="329.20" stroke="#151515" stroke-width="0.7" />
<line x1="180.10" y1="360.08" x2="182.50" y2="360.08" stroke="#151515" stroke-width="0.7" />
<line x1="180.10" y1="336.43" x2="182.50" y2="336.43" stroke="#151515" stroke-width="0.7" />
<line x1="180.10" y1="336.19" x2="182.50" y2="336.19" stroke="#151515" stroke-width="0.7" />
<line x1="180.10" y1="358.39" x2="182.50" y2="358.39" stroke="#151515" stroke-width="0.7" />
<line x1="180.10" y1="351.21" x2="182.50" y2="351.21" stroke="#151515" stroke-width="0.7" />
<line x1="199.50" y1="320.85" x2="199.50" y2="360.95" stroke="#151515" stroke-width="0.75" />
<line x1="198.30" y1="320.85" x2="200.70" y2="320.85" stroke="#151515" stroke-width="0.7" />
<line x1="198.30" y1="360.95" x2="200.70" y2="360.95" stroke="#151515" stroke-width="0.7" />
<line x1="198.30" y1="334.58" x2="200.70" y2="334.58" stroke="#151515" stroke-width="0.7" />
<line x1="198.30" y1="332.43" x2="200.70" y2="332.43" stroke="#151515" stroke-width="0.7" />
<line x1="198.30" y1="358.39" x2="200.70" y2="358.39" stroke="#151515" stroke-width="0.7" />
<line x1="198.30" y1="353.39" x2="200.70" y2="353.39" stroke="#151515" stroke-width="0.7" />
<polyline points="144.80,329.81 163.00,339.38 181.30,341.90 199.50,341.90" fill="none" stroke="#FEC885" stroke-width="1.2"/>
<circle cx="144.80" cy="329.81" r="1.5" fill="#FEC885"/>
<circle cx="163.00" cy="339.38" r="1.5" fill="#FEC885"/>
<circle cx="181.30" cy="341.90" r="1.5" fill="#FEC885"/>
<circle cx="199.50" cy="341.90" r="1.5" fill="#FEC885"/>
<polyline points="144.80,331.46 163.00,337.47 181.30,340.42 199.50,338.51" fill="none" stroke="#8EB2D6" stroke-width="1.2"/>
<circle cx="144.80" cy="331.46" r="1.5" fill="#8EB2D6"/>
<circle cx="163.00" cy="337.47" r="1.5" fill="#8EB2D6"/>
<circle cx="181.30" cy="340.42" r="1.5" fill="#8EB2D6"/>
<circle cx="199.50" cy="338.51" r="1.5" fill="#8EB2D6"/>
<polyline points="144.80,332.68 163.00,339.99 181.30,342.34 199.50,345.82" fill="none" stroke="#F7931E" stroke-width="1.2"/>
<circle cx="144.80" cy="332.68" r="1.5" fill="#F7931E"/>
<circle cx="163.00" cy="339.99" r="1.5" fill="#F7931E"/>
<circle cx="181.30" cy="342.34" r="1.5" fill="#F7931E"/>
<circle cx="199.50" cy="345.82" r="1.5" fill="#F7931E"/>
<polyline points="144.80,349.04 163.00,355.21 181.30,356.69 199.50,355.82" fill="none" stroke="#134C8A" stroke-width="1.2"/>
<circle cx="144.80" cy="349.04" r="1.5" fill="#134C8A"/>
<circle cx="163.00" cy="355.21" r="1.5" fill="#134C8A"/>
<circle cx="181.30" cy="356.69" r="1.5" fill="#134C8A"/>
<circle cx="199.50" cy="355.82" r="1.5" fill="#134C8A"/>
<line x1="133.30" y1="307.70" x2="133.30" y2="364.65" stroke="#231f20" stroke-width="1.3" />
<line x1="130.90" y1="364.00" x2="133.30" y2="364.00" stroke="#231f20" stroke-width="1.0" />
<text transform="translate(127.00,366.77) scale(0.95,1)" font-size="7.8" text-anchor="end" stroke="#231f20" stroke-width="0.13" >0</text>
<line x1="130.90" y1="346.60" x2="133.30" y2="346.60" stroke="#231f20" stroke-width="1.0" />
<text transform="translate(127.00,349.37) scale(0.95,1)" font-size="7.8" text-anchor="end" stroke="#231f20" stroke-width="0.13" >20</text>
<line x1="130.90" y1="329.20" x2="133.30" y2="329.20" stroke="#231f20" stroke-width="1.0" />
<text transform="translate(127.00,331.97) scale(0.95,1)" font-size="7.8" text-anchor="end" stroke="#231f20" stroke-width="0.13" >40</text>
<line x1="130.90" y1="311.80" x2="133.30" y2="311.80" stroke="#231f20" stroke-width="1.0" />
<text transform="translate(127.00,314.57) scale(0.95,1)" font-size="7.8" text-anchor="end" stroke="#231f20" stroke-width="0.13" >60</text>
<line x1="132.65" y1="364.00" x2="210.30" y2="364.00" stroke="#231f20" stroke-width="1.3" />
<line x1="144.80" y1="364.00" x2="144.80" y2="366.40" stroke="#231f20" stroke-width="0.9" />
<line x1="163.00" y1="364.00" x2="163.00" y2="366.40" stroke="#231f20" stroke-width="0.9" />
<line x1="181.30" y1="364.00" x2="181.30" y2="366.40" stroke="#231f20" stroke-width="0.9" />
<line x1="199.50" y1="364.00" x2="199.50" y2="366.40" stroke="#231f20" stroke-width="0.9" />
<text transform="translate(144.80,376.20) scale(0.96,1)" font-size="7.73" text-anchor="middle" stroke="#231f20" stroke-width="0.13" >4</text>
<text transform="translate(163.00,376.20) scale(0.96,1)" font-size="7.73" text-anchor="middle" stroke="#231f20" stroke-width="0.13" >8</text>
<text transform="translate(181.30,376.20) scale(0.96,1)" font-size="7.73" text-anchor="middle" stroke="#231f20" stroke-width="0.13" >12</text>
<text transform="translate(199.50,376.20) scale(0.96,1)" font-size="7.73" text-anchor="middle" stroke="#231f20" stroke-width="0.13" >16</text>
<text transform="translate(170.30,389.40) scale(0.78,1)" font-size="9.0" text-anchor="middle" stroke="#231f20" stroke-width="0.13" >Weeks</text>
<text transform="translate(172.30,274.70) scale(0.96,1)" font-size="8.67" text-anchor="middle" stroke="#231f20" stroke-width="0.13" >Total</text>
<line x1="144.50" y1="280.70" x2="144.50" y2="293.70" stroke="#555" stroke-width="0.75" />
<line x1="144.50" y1="295.20" x2="144.50" y2="315.50" stroke="#555" stroke-width="0.75" />
<line x1="146.50" y1="284.60" x2="153.10" y2="284.60" stroke="#8EB2D6" stroke-width="1.2" />
<path d="M148.00 284.60 L149.80 282.89 L151.60 284.60 L149.80 286.31 Z" fill="#8EB2D6" stroke="#8EB2D6" stroke-width="0.3" />
<line x1="146.50" y1="294.40" x2="153.10" y2="294.40" stroke="#134C8A" stroke-width="1.2" />
<path d="M148.00 294.40 L149.80 292.69 L151.60 294.40 L149.80 296.11 Z" fill="#134C8A" stroke="#134C8A" stroke-width="0.3" />
<line x1="146.50" y1="304.20" x2="153.10" y2="304.20" stroke="#FEC885" stroke-width="1.2" />
<path d="M148.00 304.20 L149.80 302.49 L151.60 304.20 L149.80 305.91 Z" fill="#FEC885" stroke="#FEC885" stroke-width="0.3" />
<line x1="146.50" y1="313.80" x2="153.10" y2="313.80" stroke="#F7931E" stroke-width="1.2" />
<path d="M148.00 313.80 L149.80 312.09 L151.60 313.80 L149.80 315.51 Z" fill="#F7931E" stroke="#F7931E" stroke-width="0.3" />
<text transform="translate(139.90,287.00) rotate(-90)" font-size="5.8" text-anchor="middle" fill="#333" stroke="#333" stroke-width="0.22" dominant-baseline="central">‡‡‡‡</text>
<text transform="translate(139.90,305.20) rotate(-90)" font-size="5.8" text-anchor="middle" fill="#333" stroke="#333" stroke-width="0.22" dominant-baseline="central">‡‡‡</text>
<line x1="163.90" y1="280.70" x2="163.90" y2="293.70" stroke="#555" stroke-width="0.75" />
<line x1="163.90" y1="295.20" x2="163.90" y2="315.50" stroke="#555" stroke-width="0.75" />
<line x1="165.90" y1="284.60" x2="172.50" y2="284.60" stroke="#8EB2D6" stroke-width="1.2" />
<path d="M167.40 284.60 L169.20 282.89 L171.00 284.60 L169.20 286.31 Z" fill="#8EB2D6" stroke="#8EB2D6" stroke-width="0.3" />
<line x1="165.90" y1="294.40" x2="172.50" y2="294.40" stroke="#134C8A" stroke-width="1.2" />
<path d="M167.40 294.40 L169.20 292.69 L171.00 294.40 L169.20 296.11 Z" fill="#134C8A" stroke="#134C8A" stroke-width="0.3" />
<line x1="165.90" y1="304.20" x2="172.50" y2="304.20" stroke="#FEC885" stroke-width="1.2" />
<path d="M167.40 304.20 L169.20 302.49 L171.00 304.20 L169.20 305.91 Z" fill="#FEC885" stroke="#FEC885" stroke-width="0.3" />
<line x1="165.90" y1="313.80" x2="172.50" y2="313.80" stroke="#F7931E" stroke-width="1.2" />
<path d="M167.40 313.80 L169.20 312.09 L171.00 313.80 L169.20 315.51 Z" fill="#F7931E" stroke="#F7931E" stroke-width="0.3" />
<text transform="translate(159.30,287.00) rotate(-90)" font-size="5.8" text-anchor="middle" fill="#333" stroke="#333" stroke-width="0.22" dominant-baseline="central">‡‡‡‡</text>
<text transform="translate(159.30,305.20) rotate(-90)" font-size="5.8" text-anchor="middle" fill="#333" stroke="#333" stroke-width="0.22" dominant-baseline="central">‡‡‡</text>
<line x1="183.30" y1="280.70" x2="183.30" y2="293.70" stroke="#555" stroke-width="0.75" />
<line x1="183.30" y1="295.20" x2="183.30" y2="315.50" stroke="#555" stroke-width="0.75" />
<line x1="185.30" y1="284.60" x2="191.90" y2="284.60" stroke="#8EB2D6" stroke-width="1.2" />
<path d="M186.80 284.60 L188.60 282.89 L190.40 284.60 L188.60 286.31 Z" fill="#8EB2D6" stroke="#8EB2D6" stroke-width="0.3" />
<line x1="185.30" y1="294.40" x2="191.90" y2="294.40" stroke="#134C8A" stroke-width="1.2" />
<path d="M186.80 294.40 L188.60 292.69 L190.40 294.40 L188.60 296.11 Z" fill="#134C8A" stroke="#134C8A" stroke-width="0.3" />
<line x1="185.30" y1="304.20" x2="191.90" y2="304.20" stroke="#FEC885" stroke-width="1.2" />
<path d="M186.80 304.20 L188.60 302.49 L190.40 304.20 L188.60 305.91 Z" fill="#FEC885" stroke="#FEC885" stroke-width="0.3" />
<line x1="185.30" y1="313.80" x2="191.90" y2="313.80" stroke="#F7931E" stroke-width="1.2" />
<path d="M186.80 313.80 L188.60 312.09 L190.40 313.80 L188.60 315.51 Z" fill="#F7931E" stroke="#F7931E" stroke-width="0.3" />
<text transform="translate(178.70,287.00) rotate(-90)" font-size="5.8" text-anchor="middle" fill="#333" stroke="#333" stroke-width="0.22" dominant-baseline="central">‡‡‡‡</text>
<text transform="translate(178.70,305.20) rotate(-90)" font-size="5.8" text-anchor="middle" fill="#333" stroke="#333" stroke-width="0.22" dominant-baseline="central">‡‡</text>
<line x1="202.70" y1="280.70" x2="202.70" y2="293.70" stroke="#555" stroke-width="0.75" />
<line x1="202.70" y1="295.20" x2="202.70" y2="315.50" stroke="#555" stroke-width="0.75" />
<line x1="204.70" y1="284.60" x2="211.30" y2="284.60" stroke="#8EB2D6" stroke-width="1.2" />
<path d="M206.20 284.60 L208.00 282.89 L209.80 284.60 L208.00 286.31 Z" fill="#8EB2D6" stroke="#8EB2D6" stroke-width="0.3" />
<line x1="204.70" y1="294.40" x2="211.30" y2="294.40" stroke="#134C8A" stroke-width="1.2" />
<path d="M206.20 294.40 L208.00 292.69 L209.80 294.40 L208.00 296.11 Z" fill="#134C8A" stroke="#134C8A" stroke-width="0.3" />
<line x1="204.70" y1="304.20" x2="211.30" y2="304.20" stroke="#FEC885" stroke-width="1.2" />
<path d="M206.20 304.20 L208.00 302.49 L209.80 304.20 L208.00 305.91 Z" fill="#FEC885" stroke="#FEC885" stroke-width="0.3" />
<line x1="204.70" y1="313.80" x2="211.30" y2="313.80" stroke="#F7931E" stroke-width="1.2" />
<path d="M206.20 313.80 L208.00 312.09 L209.80 313.80 L208.00 315.51 Z" fill="#F7931E" stroke="#F7931E" stroke-width="0.3" />
<text transform="translate(198.10,287.00) rotate(-90)" font-size="5.8" text-anchor="middle" fill="#333" stroke="#333" stroke-width="0.22" dominant-baseline="central">‡‡‡‡</text>
<text transform="translate(198.10,305.20) rotate(-90)" font-size="5.8" text-anchor="middle" fill="#333" stroke="#333" stroke-width="0.22" dominant-baseline="central">‡</text>
<line x1="245.20" y1="330.52" x2="245.20" y2="354.94" stroke="#151515" stroke-width="0.75" />
<line x1="244.00" y1="330.52" x2="246.40" y2="330.52" stroke="#151515" stroke-width="0.7" />
<line x1="244.00" y1="354.94" x2="246.40" y2="354.94" stroke="#151515" stroke-width="0.7" />
<line x1="244.00" y1="335.79" x2="246.40" y2="335.79" stroke="#151515" stroke-width="0.7" />
<line x1="244.00" y1="335.47" x2="246.40" y2="335.47" stroke="#151515" stroke-width="0.7" />
<line x1="244.00" y1="352.86" x2="246.40" y2="352.86" stroke="#151515" stroke-width="0.7" />
<line x1="244.00" y1="347.52" x2="246.40" y2="347.52" stroke="#151515" stroke-width="0.7" />
<line x1="263.40" y1="326.44" x2="263.40" y2="359.47" stroke="#151515" stroke-width="0.75" />
<line x1="262.20" y1="326.44" x2="264.60" y2="326.44" stroke="#151515" stroke-width="0.7" />
<line x1="262.20" y1="359.47" x2="264.60" y2="359.47" stroke="#151515" stroke-width="0.7" />
<line x1="262.20" y1="337.63" x2="264.60" y2="337.63" stroke="#151515" stroke-width="0.7" />
<line x1="262.20" y1="335.38" x2="264.60" y2="335.38" stroke="#151515" stroke-width="0.7" />
<line x1="262.20" y1="357.88" x2="264.60" y2="357.88" stroke="#151515" stroke-width="0.7" />
<line x1="262.20" y1="353.12" x2="264.60" y2="353.12" stroke="#151515" stroke-width="0.7" />
<line x1="281.70" y1="329.04" x2="281.70" y2="360.12" stroke="#151515" stroke-width="0.75" />
<line x1="280.50" y1="329.04" x2="282.90" y2="329.04" stroke="#151515" stroke-width="0.7" />
<line x1="280.50" y1="360.12" x2="282.90" y2="360.12" stroke="#151515" stroke-width="0.7" />
<line x1="280.50" y1="339.26" x2="282.90" y2="339.26" stroke="#151515" stroke-width="0.7" />
<line x1="280.50" y1="337.65" x2="282.90" y2="337.65" stroke="#151515" stroke-width="0.7" />
<line x1="280.50" y1="358.50" x2="282.90" y2="358.50" stroke="#151515" stroke-width="0.7" />
<line x1="280.50" y1="353.87" x2="282.90" y2="353.87" stroke="#151515" stroke-width="0.7" />
<line x1="299.90" y1="330.52" x2="299.90" y2="360.12" stroke="#151515" stroke-width="0.75" />
<line x1="298.70" y1="330.52" x2="301.10" y2="330.52" stroke="#151515" stroke-width="0.7" />
<line x1="298.70" y1="360.12" x2="301.10" y2="360.12" stroke="#151515" stroke-width="0.7" />
<line x1="298.70" y1="340.57" x2="301.10" y2="340.57" stroke="#151515" stroke-width="0.7" />
<line x1="298.70" y1="338.82" x2="301.10" y2="338.82" stroke="#151515" stroke-width="0.7" />
<line x1="298.70" y1="358.50" x2="301.10" y2="358.50" stroke="#151515" stroke-width="0.7" />
<line x1="298.70" y1="354.45" x2="301.10" y2="354.45" stroke="#151515" stroke-width="0.7" />
<polyline points="245.20,336.03 263.40,342.70 281.70,344.70 299.90,345.61" fill="none" stroke="#FEC885" stroke-width="1.2"/>
<circle cx="245.20" cy="336.03" r="1.5" fill="#FEC885"/>
<circle cx="263.40" cy="342.70" r="1.5" fill="#FEC885"/>
<circle cx="281.70" cy="344.70" r="1.5" fill="#FEC885"/>
<circle cx="299.90" cy="345.61" r="1.5" fill="#FEC885"/>
<polyline points="245.20,339.52 263.40,339.52 281.70,341.53 299.90,342.70" fill="none" stroke="#8EB2D6" stroke-width="1.2"/>
<circle cx="245.20" cy="339.52" r="1.5" fill="#8EB2D6"/>
<circle cx="263.40" cy="339.52" r="1.5" fill="#8EB2D6"/>
<circle cx="281.70" cy="341.53" r="1.5" fill="#8EB2D6"/>
<circle cx="299.90" cy="342.70" r="1.5" fill="#8EB2D6"/>
<polyline points="245.20,340.11 263.40,346.78 281.70,347.62 299.90,348.78" fill="none" stroke="#F7931E" stroke-width="1.2"/>
<circle cx="245.20" cy="340.11" r="1.5" fill="#F7931E"/>
<circle cx="263.40" cy="346.78" r="1.5" fill="#F7931E"/>
<circle cx="281.70" cy="347.62" r="1.5" fill="#F7931E"/>
<circle cx="299.90" cy="348.78" r="1.5" fill="#F7931E"/>
<polyline points="245.20,350.79 263.40,356.29 281.70,356.88 299.90,356.88" fill="none" stroke="#134C8A" stroke-width="1.2"/>
<circle cx="245.20" cy="350.79" r="1.5" fill="#134C8A"/>
<circle cx="263.40" cy="356.29" r="1.5" fill="#134C8A"/>
<circle cx="281.70" cy="356.88" r="1.5" fill="#134C8A"/>
<circle cx="299.90" cy="356.88" r="1.5" fill="#134C8A"/>
<line x1="233.70" y1="307.70" x2="233.70" y2="364.65" stroke="#231f20" stroke-width="1.3" />
<line x1="231.30" y1="364.00" x2="233.70" y2="364.00" stroke="#231f20" stroke-width="1.0" />
<text transform="translate(227.40,366.77) scale(0.95,1)" font-size="7.8" text-anchor="end" stroke="#231f20" stroke-width="0.13" >0</text>
<line x1="231.30" y1="351.05" x2="233.70" y2="351.05" stroke="#231f20" stroke-width="1.0" />
<text transform="translate(227.40,353.82) scale(0.95,1)" font-size="7.8" text-anchor="end" stroke="#231f20" stroke-width="0.13" >20</text>
<line x1="231.30" y1="338.10" x2="233.70" y2="338.10" stroke="#231f20" stroke-width="1.0" />
<text transform="translate(227.40,340.87) scale(0.95,1)" font-size="7.8" text-anchor="end" stroke="#231f20" stroke-width="0.13" >40</text>
<line x1="231.30" y1="325.15" x2="233.70" y2="325.15" stroke="#231f20" stroke-width="1.0" />
<text transform="translate(227.40,327.92) scale(0.95,1)" font-size="7.8" text-anchor="end" stroke="#231f20" stroke-width="0.13" >60</text>
<line x1="231.30" y1="312.20" x2="233.70" y2="312.20" stroke="#231f20" stroke-width="1.0" />
<text transform="translate(227.40,314.97) scale(0.95,1)" font-size="7.8" text-anchor="end" stroke="#231f20" stroke-width="0.13" >80</text>
<line x1="233.05" y1="364.00" x2="310.70" y2="364.00" stroke="#231f20" stroke-width="1.3" />
<line x1="245.20" y1="364.00" x2="245.20" y2="366.40" stroke="#231f20" stroke-width="0.9" />
<line x1="263.40" y1="364.00" x2="263.40" y2="366.40" stroke="#231f20" stroke-width="0.9" />
<line x1="281.70" y1="364.00" x2="281.70" y2="366.40" stroke="#231f20" stroke-width="0.9" />
<line x1="299.90" y1="364.00" x2="299.90" y2="366.40" stroke="#231f20" stroke-width="0.9" />
<text transform="translate(245.20,376.20) scale(0.96,1)" font-size="7.73" text-anchor="middle" stroke="#231f20" stroke-width="0.13" >4</text>
<text transform="translate(263.40,376.20) scale(0.96,1)" font-size="7.73" text-anchor="middle" stroke="#231f20" stroke-width="0.13" >8</text>
<text transform="translate(281.70,376.20) scale(0.96,1)" font-size="7.73" text-anchor="middle" stroke="#231f20" stroke-width="0.13" >12</text>
<text transform="translate(299.90,376.20) scale(0.96,1)" font-size="7.73" text-anchor="middle" stroke="#231f20" stroke-width="0.13" >16</text>
<text transform="translate(270.70,389.40) scale(0.78,1)" font-size="9.0" text-anchor="middle" stroke="#231f20" stroke-width="0.13" >Weeks</text>
<text transform="translate(272.70,274.70) scale(0.96,1)" font-size="8.67" text-anchor="middle" stroke="#231f20" stroke-width="0.13" >B cells</text>
<line x1="244.40" y1="280.70" x2="244.40" y2="293.70" stroke="#555" stroke-width="0.75" />
<line x1="244.40" y1="295.20" x2="244.40" y2="315.50" stroke="#555" stroke-width="0.75" />
<line x1="246.40" y1="284.60" x2="253.00" y2="284.60" stroke="#8EB2D6" stroke-width="1.2" />
<path d="M247.90 284.60 L249.70 282.89 L251.50 284.60 L249.70 286.31 Z" fill="#8EB2D6" stroke="#8EB2D6" stroke-width="0.3" />
<line x1="246.40" y1="294.40" x2="253.00" y2="294.40" stroke="#134C8A" stroke-width="1.2" />
<path d="M247.90 294.40 L249.70 292.69 L251.50 294.40 L249.70 296.11 Z" fill="#134C8A" stroke="#134C8A" stroke-width="0.3" />
<line x1="246.40" y1="304.20" x2="253.00" y2="304.20" stroke="#FEC885" stroke-width="1.2" />
<path d="M247.90 304.20 L249.70 302.49 L251.50 304.20 L249.70 305.91 Z" fill="#FEC885" stroke="#FEC885" stroke-width="0.3" />
<line x1="246.40" y1="313.80" x2="253.00" y2="313.80" stroke="#F7931E" stroke-width="1.2" />
<path d="M247.90 313.80 L249.70 312.09 L251.50 313.80 L249.70 315.51 Z" fill="#F7931E" stroke="#F7931E" stroke-width="0.3" />
<text transform="translate(239.80,287.00) rotate(-90)" font-size="5.8" text-anchor="middle" fill="#333" stroke="#333" stroke-width="0.22" dominant-baseline="central">‡‡‡‡</text>
<text transform="translate(239.80,305.20) rotate(-90)" font-size="5.8" text-anchor="middle" fill="#333" stroke="#333" stroke-width="0.22" dominant-baseline="central">‡‡</text>
<line x1="263.80" y1="280.70" x2="263.80" y2="293.70" stroke="#555" stroke-width="0.75" />
<line x1="263.80" y1="295.20" x2="263.80" y2="315.50" stroke="#555" stroke-width="0.75" />
<line x1="265.80" y1="284.60" x2="272.40" y2="284.60" stroke="#8EB2D6" stroke-width="1.2" />
<path d="M267.30 284.60 L269.10 282.89 L270.90 284.60 L269.10 286.31 Z" fill="#8EB2D6" stroke="#8EB2D6" stroke-width="0.3" />
<line x1="265.80" y1="294.40" x2="272.40" y2="294.40" stroke="#134C8A" stroke-width="1.2" />
<path d="M267.30 294.40 L269.10 292.69 L270.90 294.40 L269.10 296.11 Z" fill="#134C8A" stroke="#134C8A" stroke-width="0.3" />
<line x1="265.80" y1="304.20" x2="272.40" y2="304.20" stroke="#FEC885" stroke-width="1.2" />
<path d="M267.30 304.20 L269.10 302.49 L270.90 304.20 L269.10 305.91 Z" fill="#FEC885" stroke="#FEC885" stroke-width="0.3" />
<line x1="265.80" y1="313.80" x2="272.40" y2="313.80" stroke="#F7931E" stroke-width="1.2" />
<path d="M267.30 313.80 L269.10 312.09 L270.90 313.80 L269.10 315.51 Z" fill="#F7931E" stroke="#F7931E" stroke-width="0.3" />
<text transform="translate(259.20,287.00) rotate(-90)" font-size="5.8" text-anchor="middle" fill="#333" stroke="#333" stroke-width="0.22" dominant-baseline="central">‡‡‡‡</text>
<text transform="translate(259.20,305.20) rotate(-90)" font-size="5.8" text-anchor="middle" fill="#333" stroke="#333" stroke-width="0.22" dominant-baseline="central">‡</text>
<line x1="283.20" y1="280.70" x2="283.20" y2="293.70" stroke="#555" stroke-width="0.75" />
<line x1="283.20" y1="295.20" x2="283.20" y2="315.50" stroke="#555" stroke-width="0.75" />
<line x1="285.20" y1="284.60" x2="291.80" y2="284.60" stroke="#8EB2D6" stroke-width="1.2" />
<path d="M286.70 284.60 L288.50 282.89 L290.30 284.60 L288.50 286.31 Z" fill="#8EB2D6" stroke="#8EB2D6" stroke-width="0.3" />
<line x1="285.20" y1="294.40" x2="291.80" y2="294.40" stroke="#134C8A" stroke-width="1.2" />
<path d="M286.70 294.40 L288.50 292.69 L290.30 294.40 L288.50 296.11 Z" fill="#134C8A" stroke="#134C8A" stroke-width="0.3" />
<line x1="285.20" y1="304.20" x2="291.80" y2="304.20" stroke="#FEC885" stroke-width="1.2" />
<path d="M286.70 304.20 L288.50 302.49 L290.30 304.20 L288.50 305.91 Z" fill="#FEC885" stroke="#FEC885" stroke-width="0.3" />
<line x1="285.20" y1="313.80" x2="291.80" y2="313.80" stroke="#F7931E" stroke-width="1.2" />
<path d="M286.70 313.80 L288.50 312.09 L290.30 313.80 L288.50 315.51 Z" fill="#F7931E" stroke="#F7931E" stroke-width="0.3" />
<text transform="translate(278.60,287.00) rotate(-90)" font-size="5.8" text-anchor="middle" fill="#333" stroke="#333" stroke-width="0.22" dominant-baseline="central">‡‡‡‡</text>
<text transform="translate(278.60,305.20) rotate(-90)" font-size="5.8" text-anchor="middle" fill="#333" stroke="#333" stroke-width="0.22" dominant-baseline="central">‡</text>
<line x1="302.60" y1="280.70" x2="302.60" y2="293.70" stroke="#555" stroke-width="0.75" />
<line x1="302.60" y1="295.20" x2="302.60" y2="315.50" stroke="#555" stroke-width="0.75" />
<line x1="304.60" y1="284.60" x2="311.20" y2="284.60" stroke="#8EB2D6" stroke-width="1.2" />
<path d="M306.10 284.60 L307.90 282.89 L309.70 284.60 L307.90 286.31 Z" fill="#8EB2D6" stroke="#8EB2D6" stroke-width="0.3" />
<line x1="304.60" y1="294.40" x2="311.20" y2="294.40" stroke="#134C8A" stroke-width="1.2" />
<path d="M306.10 294.40 L307.90 292.69 L309.70 294.40 L307.90 296.11 Z" fill="#134C8A" stroke="#134C8A" stroke-width="0.3" />
<line x1="304.60" y1="304.20" x2="311.20" y2="304.20" stroke="#FEC885" stroke-width="1.2" />
<path d="M306.10 304.20 L307.90 302.49 L309.70 304.20 L307.90 305.91 Z" fill="#FEC885" stroke="#FEC885" stroke-width="0.3" />
<line x1="304.60" y1="313.80" x2="311.20" y2="313.80" stroke="#F7931E" stroke-width="1.2" />
<path d="M306.10 313.80 L307.90 312.09 L309.70 313.80 L307.90 315.51 Z" fill="#F7931E" stroke="#F7931E" stroke-width="0.3" />
<text transform="translate(298.00,287.00) rotate(-90)" font-size="5.8" text-anchor="middle" fill="#333" stroke="#333" stroke-width="0.22" dominant-baseline="central">‡‡‡‡</text>
<text transform="translate(298.00,305.20) rotate(-90)" font-size="5.8" text-anchor="middle" fill="#333" stroke="#333" stroke-width="0.22" dominant-baseline="central">‡</text>
<line x1="345.20" y1="323.24" x2="345.20" y2="358.84" stroke="#151515" stroke-width="0.75" />
<line x1="344.00" y1="323.24" x2="346.40" y2="323.24" stroke="#151515" stroke-width="0.7" />
<line x1="344.00" y1="358.84" x2="346.40" y2="358.84" stroke="#151515" stroke-width="0.7" />
<line x1="344.00" y1="331.14" x2="346.40" y2="331.14" stroke="#151515" stroke-width="0.7" />
<line x1="344.00" y1="329.72" x2="346.40" y2="329.72" stroke="#151515" stroke-width="0.7" />
<line x1="344.00" y1="356.39" x2="346.40" y2="356.39" stroke="#151515" stroke-width="0.7" />
<line x1="344.00" y1="348.22" x2="346.40" y2="348.22" stroke="#151515" stroke-width="0.7" />
<line x1="363.40" y1="322.38" x2="363.40" y2="360.56" stroke="#151515" stroke-width="0.75" />
<line x1="362.20" y1="322.38" x2="364.60" y2="322.38" stroke="#151515" stroke-width="0.7" />
<line x1="362.20" y1="360.56" x2="364.60" y2="360.56" stroke="#151515" stroke-width="0.7" />
<line x1="362.20" y1="333.54" x2="364.60" y2="333.54" stroke="#151515" stroke-width="0.7" />
<line x1="362.20" y1="332.88" x2="364.60" y2="332.88" stroke="#151515" stroke-width="0.7" />
<line x1="362.20" y1="358.11" x2="364.60" y2="358.11" stroke="#151515" stroke-width="0.7" />
<line x1="362.20" y1="351.62" x2="364.60" y2="351.62" stroke="#151515" stroke-width="0.7" />
<line x1="381.70" y1="327.54" x2="381.70" y2="360.56" stroke="#151515" stroke-width="0.75" />
<line x1="380.50" y1="327.54" x2="382.90" y2="327.54" stroke="#151515" stroke-width="0.7" />
<line x1="380.50" y1="360.56" x2="382.90" y2="360.56" stroke="#151515" stroke-width="0.7" />
<line x1="380.50" y1="337.00" x2="382.90" y2="337.00" stroke="#151515" stroke-width="0.7" />
<line x1="380.50" y1="335.77" x2="382.90" y2="335.77" stroke="#151515" stroke-width="0.7" />
<line x1="380.50" y1="358.71" x2="382.90" y2="358.71" stroke="#151515" stroke-width="0.7" />
<line x1="380.50" y1="352.65" x2="382.90" y2="352.65" stroke="#151515" stroke-width="0.7" />
<line x1="399.90" y1="328.48" x2="399.90" y2="363.14" stroke="#151515" stroke-width="0.75" />
<line x1="398.70" y1="328.48" x2="401.10" y2="328.48" stroke="#151515" stroke-width="0.7" />
<line x1="398.70" y1="363.14" x2="401.10" y2="363.14" stroke="#151515" stroke-width="0.7" />
<line x1="398.70" y1="340.78" x2="401.10" y2="340.78" stroke="#151515" stroke-width="0.7" />
<line x1="398.70" y1="339.31" x2="401.10" y2="339.31" stroke="#151515" stroke-width="0.7" />
<line x1="398.70" y1="361.03" x2="401.10" y2="361.03" stroke="#151515" stroke-width="0.7" />
<line x1="398.70" y1="356.99" x2="401.10" y2="356.99" stroke="#151515" stroke-width="0.7" />
<polyline points="345.20,335.02 363.40,341.47 381.70,342.50 399.90,348.18" fill="none" stroke="#FEC885" stroke-width="1.2"/>
<circle cx="345.20" cy="335.02" r="1.5" fill="#FEC885"/>
<circle cx="363.40" cy="341.47" r="1.5" fill="#FEC885"/>
<circle cx="381.70" cy="342.50" r="1.5" fill="#FEC885"/>
<circle cx="399.90" cy="348.18" r="1.5" fill="#FEC885"/>
<polyline points="345.20,333.99 363.40,336.57 381.70,340.52 399.90,342.07" fill="none" stroke="#8EB2D6" stroke-width="1.2"/>
<circle cx="345.20" cy="333.99" r="1.5" fill="#8EB2D6"/>
<circle cx="363.40" cy="336.57" r="1.5" fill="#8EB2D6"/>
<circle cx="381.70" cy="340.52" r="1.5" fill="#8EB2D6"/>
<circle cx="399.90" cy="342.07" r="1.5" fill="#8EB2D6"/>
<polyline points="345.20,337.60 363.40,342.67 381.70,344.74 399.90,350.84" fill="none" stroke="#F7931E" stroke-width="1.2"/>
<circle cx="345.20" cy="337.60" r="1.5" fill="#F7931E"/>
<circle cx="363.40" cy="342.67" r="1.5" fill="#F7931E"/>
<circle cx="381.70" cy="344.74" r="1.5" fill="#F7931E"/>
<circle cx="399.90" cy="350.84" r="1.5" fill="#F7931E"/>
<polyline points="345.20,353.94 363.40,355.66 381.70,356.86 399.90,358.93" fill="none" stroke="#134C8A" stroke-width="1.2"/>
<circle cx="345.20" cy="353.94" r="1.5" fill="#134C8A"/>
<circle cx="363.40" cy="355.66" r="1.5" fill="#134C8A"/>
<circle cx="381.70" cy="356.86" r="1.5" fill="#134C8A"/>
<circle cx="399.90" cy="358.93" r="1.5" fill="#134C8A"/>
<line x1="333.70" y1="307.70" x2="333.70" y2="364.65" stroke="#231f20" stroke-width="1.3" />
<line x1="331.30" y1="364.00" x2="333.70" y2="364.00" stroke="#231f20" stroke-width="1.0" />
<text transform="translate(327.40,366.77) scale(0.95,1)" font-size="7.8" text-anchor="end" stroke="#231f20" stroke-width="0.13" >0</text>
<line x1="331.30" y1="346.80" x2="333.70" y2="346.80" stroke="#231f20" stroke-width="1.0" />
<text transform="translate(327.40,349.57) scale(0.95,1)" font-size="7.8" text-anchor="end" stroke="#231f20" stroke-width="0.13" >20</text>
<line x1="331.30" y1="329.60" x2="333.70" y2="329.60" stroke="#231f20" stroke-width="1.0" />
<text transform="translate(327.40,332.37) scale(0.95,1)" font-size="7.8" text-anchor="end" stroke="#231f20" stroke-width="0.13" >40</text>
<line x1="331.30" y1="312.40" x2="333.70" y2="312.40" stroke="#231f20" stroke-width="1.0" />
<text transform="translate(327.40,315.17) scale(0.95,1)" font-size="7.8" text-anchor="end" stroke="#231f20" stroke-width="0.13" >60</text>
<line x1="333.05" y1="364.00" x2="410.70" y2="364.00" stroke="#231f20" stroke-width="1.3" />
<line x1="345.20" y1="364.00" x2="345.20" y2="366.40" stroke="#231f20" stroke-width="0.9" />
<line x1="363.40" y1="364.00" x2="363.40" y2="366.40" stroke="#231f20" stroke-width="0.9" />
<line x1="381.70" y1="364.00" x2="381.70" y2="366.40" stroke="#231f20" stroke-width="0.9" />
<line x1="399.90" y1="364.00" x2="399.90" y2="366.40" stroke="#231f20" stroke-width="0.9" />
<text transform="translate(345.20,376.20) scale(0.96,1)" font-size="7.73" text-anchor="middle" stroke="#231f20" stroke-width="0.13" >4</text>
<text transform="translate(363.40,376.20) scale(0.96,1)" font-size="7.73" text-anchor="middle" stroke="#231f20" stroke-width="0.13" >8</text>
<text transform="translate(381.70,376.20) scale(0.96,1)" font-size="7.73" text-anchor="middle" stroke="#231f20" stroke-width="0.13" >12</text>
<text transform="translate(399.90,376.20) scale(0.96,1)" font-size="7.73" text-anchor="middle" stroke="#231f20" stroke-width="0.13" >16</text>
<text transform="translate(370.70,389.40) scale(0.78,1)" font-size="9.0" text-anchor="middle" stroke="#231f20" stroke-width="0.13" >Weeks</text>
<text transform="translate(372.70,274.70) scale(0.96,1)" font-size="8.67" text-anchor="middle" stroke="#231f20" stroke-width="0.13" >T cells</text>
<line x1="345.00" y1="280.70" x2="345.00" y2="293.70" stroke="#555" stroke-width="0.75" />
<line x1="345.00" y1="295.20" x2="345.00" y2="315.50" stroke="#555" stroke-width="0.75" />
<line x1="347.00" y1="284.60" x2="353.60" y2="284.60" stroke="#8EB2D6" stroke-width="1.2" />
<path d="M348.50 284.60 L350.30 282.89 L352.10 284.60 L350.30 286.31 Z" fill="#8EB2D6" stroke="#8EB2D6" stroke-width="0.3" />
<line x1="347.00" y1="294.40" x2="353.60" y2="294.40" stroke="#134C8A" stroke-width="1.2" />
<path d="M348.50 294.40 L350.30 292.69 L352.10 294.40 L350.30 296.11 Z" fill="#134C8A" stroke="#134C8A" stroke-width="0.3" />
<line x1="347.00" y1="304.20" x2="353.60" y2="304.20" stroke="#FEC885" stroke-width="1.2" />
<path d="M348.50 304.20 L350.30 302.49 L352.10 304.20 L350.30 305.91 Z" fill="#FEC885" stroke="#FEC885" stroke-width="0.3" />
<line x1="347.00" y1="313.80" x2="353.60" y2="313.80" stroke="#F7931E" stroke-width="1.2" />
<path d="M348.50 313.80 L350.30 312.09 L352.10 313.80 L350.30 315.51 Z" fill="#F7931E" stroke="#F7931E" stroke-width="0.3" />
<text transform="translate(340.40,287.00) rotate(-90)" font-size="5.8" text-anchor="middle" fill="#333" stroke="#333" stroke-width="0.22" dominant-baseline="central">‡‡‡‡</text>
<text transform="translate(340.40,305.20) rotate(-90)" font-size="5.8" text-anchor="middle" fill="#333" stroke="#333" stroke-width="0.22" dominant-baseline="central">‡‡‡‡</text>
<line x1="364.60" y1="280.70" x2="364.60" y2="293.70" stroke="#555" stroke-width="0.75" />
<line x1="364.60" y1="295.20" x2="364.60" y2="315.50" stroke="#555" stroke-width="0.75" />
<line x1="366.60" y1="284.60" x2="373.20" y2="284.60" stroke="#8EB2D6" stroke-width="1.2" />
<path d="M368.10 284.60 L369.90 282.89 L371.70 284.60 L369.90 286.31 Z" fill="#8EB2D6" stroke="#8EB2D6" stroke-width="0.3" />
<line x1="366.60" y1="294.40" x2="373.20" y2="294.40" stroke="#134C8A" stroke-width="1.2" />
<path d="M368.10 294.40 L369.90 292.69 L371.70 294.40 L369.90 296.11 Z" fill="#134C8A" stroke="#134C8A" stroke-width="0.3" />
<line x1="366.60" y1="304.20" x2="373.20" y2="304.20" stroke="#FEC885" stroke-width="1.2" />
<path d="M368.10 304.20 L369.90 302.49 L371.70 304.20 L369.90 305.91 Z" fill="#FEC885" stroke="#FEC885" stroke-width="0.3" />
<line x1="366.60" y1="313.80" x2="373.20" y2="313.80" stroke="#F7931E" stroke-width="1.2" />
<path d="M368.10 313.80 L369.90 312.09 L371.70 313.80 L369.90 315.51 Z" fill="#F7931E" stroke="#F7931E" stroke-width="0.3" />
<text transform="translate(360.00,287.00) rotate(-90)" font-size="5.8" text-anchor="middle" fill="#333" stroke="#333" stroke-width="0.22" dominant-baseline="central">‡‡‡‡</text>
<text transform="translate(360.00,305.20) rotate(-90)" font-size="5.8" text-anchor="middle" fill="#333" stroke="#333" stroke-width="0.22" dominant-baseline="central">‡‡</text>
<line x1="384.20" y1="280.70" x2="384.20" y2="293.70" stroke="#555" stroke-width="0.75" />
<line x1="384.20" y1="295.20" x2="384.20" y2="315.50" stroke="#555" stroke-width="0.75" />
<line x1="386.20" y1="284.60" x2="392.80" y2="284.60" stroke="#8EB2D6" stroke-width="1.2" />
<path d="M387.70 284.60 L389.50 282.89 L391.30 284.60 L389.50 286.31 Z" fill="#8EB2D6" stroke="#8EB2D6" stroke-width="0.3" />
<line x1="386.20" y1="294.40" x2="392.80" y2="294.40" stroke="#134C8A" stroke-width="1.2" />
<path d="M387.70 294.40 L389.50 292.69 L391.30 294.40 L389.50 296.11 Z" fill="#134C8A" stroke="#134C8A" stroke-width="0.3" />
<line x1="386.20" y1="304.20" x2="392.80" y2="304.20" stroke="#FEC885" stroke-width="1.2" />
<path d="M387.70 304.20 L389.50 302.49 L391.30 304.20 L389.50 305.91 Z" fill="#FEC885" stroke="#FEC885" stroke-width="0.3" />
<line x1="386.20" y1="313.80" x2="392.80" y2="313.80" stroke="#F7931E" stroke-width="1.2" />
<path d="M387.70 313.80 L389.50 312.09 L391.30 313.80 L389.50 315.51 Z" fill="#F7931E" stroke="#F7931E" stroke-width="0.3" />
<text transform="translate(379.60,287.00) rotate(-90)" font-size="5.8" text-anchor="middle" fill="#333" stroke="#333" stroke-width="0.22" dominant-baseline="central">‡‡‡‡</text>
<text transform="translate(379.60,305.20) rotate(-90)" font-size="5.8" text-anchor="middle" fill="#333" stroke="#333" stroke-width="0.22" dominant-baseline="central">‡‡</text>
<line x1="403.80" y1="280.70" x2="403.80" y2="293.70" stroke="#555" stroke-width="0.75" />
<line x1="405.80" y1="284.60" x2="412.40" y2="284.60" stroke="#8EB2D6" stroke-width="1.2" />
<path d="M407.30 284.60 L409.10 282.89 L410.90 284.60 L409.10 286.31 Z" fill="#8EB2D6" stroke="#8EB2D6" stroke-width="0.3" />
<line x1="405.80" y1="294.40" x2="412.40" y2="294.40" stroke="#134C8A" stroke-width="1.2" />
<path d="M407.30 294.40 L409.10 292.69 L410.90 294.40 L409.10 296.11 Z" fill="#134C8A" stroke="#134C8A" stroke-width="0.3" />
<line x1="405.80" y1="304.20" x2="412.40" y2="304.20" stroke="#FEC885" stroke-width="1.2" />
<path d="M407.30 304.20 L409.10 302.49 L410.90 304.20 L409.10 305.91 Z" fill="#FEC885" stroke="#FEC885" stroke-width="0.3" />
<line x1="405.80" y1="313.80" x2="412.40" y2="313.80" stroke="#F7931E" stroke-width="1.2" />
<path d="M407.30 313.80 L409.10 312.09 L410.90 313.80 L409.10 315.51 Z" fill="#F7931E" stroke="#F7931E" stroke-width="0.3" />
<text transform="translate(399.20,287.00) rotate(-90)" font-size="5.8" text-anchor="middle" fill="#333" stroke="#333" stroke-width="0.22" dominant-baseline="central">‡‡‡‡</text>
<line x1="445.80" y1="319.13" x2="445.80" y2="356.23" stroke="#151515" stroke-width="0.75" />
<line x1="444.60" y1="319.13" x2="447.00" y2="319.13" stroke="#151515" stroke-width="0.7" />
<line x1="444.60" y1="356.23" x2="447.00" y2="356.23" stroke="#151515" stroke-width="0.7" />
<line x1="444.60" y1="330.67" x2="447.00" y2="330.67" stroke="#151515" stroke-width="0.7" />
<line x1="444.60" y1="328.07" x2="447.00" y2="328.07" stroke="#151515" stroke-width="0.7" />
<line x1="444.60" y1="353.70" x2="447.00" y2="353.70" stroke="#151515" stroke-width="0.7" />
<line x1="444.60" y1="348.17" x2="447.00" y2="348.17" stroke="#151515" stroke-width="0.7" />
<line x1="464.00" y1="318.80" x2="464.00" y2="357.52" stroke="#151515" stroke-width="0.75" />
<line x1="462.80" y1="318.80" x2="465.20" y2="318.80" stroke="#151515" stroke-width="0.7" />
<line x1="462.80" y1="357.52" x2="465.20" y2="357.52" stroke="#151515" stroke-width="0.7" />
<line x1="462.80" y1="333.65" x2="465.20" y2="333.65" stroke="#151515" stroke-width="0.7" />
<line x1="462.80" y1="333.05" x2="465.20" y2="333.05" stroke="#151515" stroke-width="0.7" />
<line x1="462.80" y1="355.23" x2="465.20" y2="355.23" stroke="#151515" stroke-width="0.7" />
<line x1="462.80" y1="351.67" x2="465.20" y2="351.67" stroke="#151515" stroke-width="0.7" />
<line x1="482.30" y1="326.51" x2="482.30" y2="360.12" stroke="#151515" stroke-width="0.75" />
<line x1="481.10" y1="326.51" x2="483.50" y2="326.51" stroke="#151515" stroke-width="0.7" />
<line x1="481.10" y1="360.12" x2="483.50" y2="360.12" stroke="#151515" stroke-width="0.7" />
<line x1="481.10" y1="337.91" x2="483.50" y2="337.91" stroke="#151515" stroke-width="0.7" />
<line x1="481.10" y1="337.66" x2="483.50" y2="337.66" stroke="#151515" stroke-width="0.7" />
<line x1="481.10" y1="358.01" x2="483.50" y2="358.01" stroke="#151515" stroke-width="0.7" />
<line x1="481.10" y1="353.67" x2="483.50" y2="353.67" stroke="#151515" stroke-width="0.7" />
<line x1="500.50" y1="324.89" x2="500.50" y2="361.41" stroke="#151515" stroke-width="0.75" />
<line x1="499.30" y1="324.89" x2="501.70" y2="324.89" stroke="#151515" stroke-width="0.7" />
<line x1="499.30" y1="361.41" x2="501.70" y2="361.41" stroke="#151515" stroke-width="0.7" />
<line x1="499.30" y1="336.93" x2="501.70" y2="336.93" stroke="#151515" stroke-width="0.7" />
<line x1="499.30" y1="335.11" x2="501.70" y2="335.11" stroke="#151515" stroke-width="0.7" />
<line x1="499.30" y1="359.86" x2="501.70" y2="359.86" stroke="#151515" stroke-width="0.7" />
<line x1="499.30" y1="354.09" x2="501.70" y2="354.09" stroke="#151515" stroke-width="0.7" />
<polyline points="445.80,335.38 464.00,344.70 482.30,346.78 500.50,343.47" fill="none" stroke="#FEC885" stroke-width="1.2"/>
<circle cx="445.80" cy="335.38" r="1.5" fill="#FEC885"/>
<circle cx="464.00" cy="344.70" r="1.5" fill="#FEC885"/>
<circle cx="482.30" cy="346.78" r="1.5" fill="#FEC885"/>
<circle cx="500.50" cy="343.47" r="1.5" fill="#FEC885"/>
<polyline points="445.80,333.37 464.00,336.03 482.30,341.53 500.50,341.53" fill="none" stroke="#8EB2D6" stroke-width="1.2"/>
<circle cx="445.80" cy="333.37" r="1.5" fill="#8EB2D6"/>
<circle cx="464.00" cy="336.03" r="1.5" fill="#8EB2D6"/>
<circle cx="482.30" cy="341.53" r="1.5" fill="#8EB2D6"/>
<circle cx="500.50" cy="341.53" r="1.5" fill="#8EB2D6"/>
<polyline points="445.80,340.11 464.00,345.81 482.30,347.23 500.50,346.78" fill="none" stroke="#F7931E" stroke-width="1.2"/>
<circle cx="445.80" cy="340.11" r="1.5" fill="#F7931E"/>
<circle cx="464.00" cy="345.81" r="1.5" fill="#F7931E"/>
<circle cx="482.30" cy="347.23" r="1.5" fill="#F7931E"/>
<circle cx="500.50" cy="346.78" r="1.5" fill="#F7931E"/>
<polyline points="445.80,351.18 464.00,352.93 482.30,355.91 500.50,358.30" fill="none" stroke="#134C8A" stroke-width="1.2"/>
<circle cx="445.80" cy="351.18" r="1.5" fill="#134C8A"/>
<circle cx="464.00" cy="352.93" r="1.5" fill="#134C8A"/>
<circle cx="482.30" cy="355.91" r="1.5" fill="#134C8A"/>
<circle cx="500.50" cy="358.30" r="1.5" fill="#134C8A"/>
<line x1="434.30" y1="307.70" x2="434.30" y2="364.65" stroke="#231f20" stroke-width="1.3" />
<line x1="431.90" y1="364.00" x2="434.30" y2="364.00" stroke="#231f20" stroke-width="1.0" />
<text transform="translate(428.00,366.77) scale(0.95,1)" font-size="7.8" text-anchor="end" stroke="#231f20" stroke-width="0.13" >0</text>
<line x1="431.90" y1="351.05" x2="434.30" y2="351.05" stroke="#231f20" stroke-width="1.0" />
<text transform="translate(428.00,353.82) scale(0.95,1)" font-size="7.8" text-anchor="end" stroke="#231f20" stroke-width="0.13" >20</text>
<line x1="431.90" y1="338.10" x2="434.30" y2="338.10" stroke="#231f20" stroke-width="1.0" />
<text transform="translate(428.00,340.87) scale(0.95,1)" font-size="7.8" text-anchor="end" stroke="#231f20" stroke-width="0.13" >40</text>
<line x1="431.90" y1="325.15" x2="434.30" y2="325.15" stroke="#231f20" stroke-width="1.0" />
<text transform="translate(428.00,327.92) scale(0.95,1)" font-size="7.8" text-anchor="end" stroke="#231f20" stroke-width="0.13" >60</text>
<line x1="431.90" y1="312.20" x2="434.30" y2="312.20" stroke="#231f20" stroke-width="1.0" />
<text transform="translate(428.00,314.97) scale(0.95,1)" font-size="7.8" text-anchor="end" stroke="#231f20" stroke-width="0.13" >80</text>
<line x1="433.65" y1="364.00" x2="511.30" y2="364.00" stroke="#231f20" stroke-width="1.3" />
<line x1="445.80" y1="364.00" x2="445.80" y2="366.40" stroke="#231f20" stroke-width="0.9" />
<line x1="464.00" y1="364.00" x2="464.00" y2="366.40" stroke="#231f20" stroke-width="0.9" />
<line x1="482.30" y1="364.00" x2="482.30" y2="366.40" stroke="#231f20" stroke-width="0.9" />
<line x1="500.50" y1="364.00" x2="500.50" y2="366.40" stroke="#231f20" stroke-width="0.9" />
<text transform="translate(445.80,376.20) scale(0.96,1)" font-size="7.73" text-anchor="middle" stroke="#231f20" stroke-width="0.13" >4</text>
<text transform="translate(464.00,376.20) scale(0.96,1)" font-size="7.73" text-anchor="middle" stroke="#231f20" stroke-width="0.13" >8</text>
<text transform="translate(482.30,376.20) scale(0.96,1)" font-size="7.73" text-anchor="middle" stroke="#231f20" stroke-width="0.13" >12</text>
<text transform="translate(500.50,376.20) scale(0.96,1)" font-size="7.73" text-anchor="middle" stroke="#231f20" stroke-width="0.13" >16</text>
<text transform="translate(471.30,389.40) scale(0.78,1)" font-size="9.0" text-anchor="middle" stroke="#231f20" stroke-width="0.13" >Weeks</text>
<text transform="translate(473.30,274.70) scale(0.96,1)" font-size="8.67" text-anchor="middle" stroke="#231f20" stroke-width="0.13" >Myeloid cells</text>
<line x1="445.80" y1="280.70" x2="445.80" y2="293.70" stroke="#555" stroke-width="0.75" />
<line x1="445.80" y1="295.20" x2="445.80" y2="315.50" stroke="#555" stroke-width="0.75" />
<line x1="447.80" y1="284.60" x2="454.40" y2="284.60" stroke="#8EB2D6" stroke-width="1.2" />
<path d="M449.30 284.60 L451.10 282.89 L452.90 284.60 L451.10 286.31 Z" fill="#8EB2D6" stroke="#8EB2D6" stroke-width="0.3" />
<line x1="447.80" y1="294.40" x2="454.40" y2="294.40" stroke="#134C8A" stroke-width="1.2" />
<path d="M449.30 294.40 L451.10 292.69 L452.90 294.40 L451.10 296.11 Z" fill="#134C8A" stroke="#134C8A" stroke-width="0.3" />
<line x1="447.80" y1="304.20" x2="454.40" y2="304.20" stroke="#FEC885" stroke-width="1.2" />
<path d="M449.30 304.20 L451.10 302.49 L452.90 304.20 L451.10 305.91 Z" fill="#FEC885" stroke="#FEC885" stroke-width="0.3" />
<line x1="447.80" y1="313.80" x2="454.40" y2="313.80" stroke="#F7931E" stroke-width="1.2" />
<path d="M449.30 313.80 L451.10 312.09 L452.90 313.80 L451.10 315.51 Z" fill="#F7931E" stroke="#F7931E" stroke-width="0.3" />
<text transform="translate(441.20,287.00) rotate(-90)" font-size="5.8" text-anchor="middle" fill="#333" stroke="#333" stroke-width="0.22" dominant-baseline="central">‡‡‡</text>
<text transform="translate(441.20,305.20) rotate(-90)" font-size="5.8" text-anchor="middle" fill="#333" stroke="#333" stroke-width="0.22" dominant-baseline="central">‡</text>
<line x1="465.40" y1="280.70" x2="465.40" y2="293.70" stroke="#555" stroke-width="0.75" />
<line x1="467.40" y1="284.60" x2="474.00" y2="284.60" stroke="#8EB2D6" stroke-width="1.2" />
<path d="M468.90 284.60 L470.70 282.89 L472.50 284.60 L470.70 286.31 Z" fill="#8EB2D6" stroke="#8EB2D6" stroke-width="0.3" />
<line x1="467.40" y1="294.40" x2="474.00" y2="294.40" stroke="#134C8A" stroke-width="1.2" />
<path d="M468.90 294.40 L470.70 292.69 L472.50 294.40 L470.70 296.11 Z" fill="#134C8A" stroke="#134C8A" stroke-width="0.3" />
<line x1="467.40" y1="304.20" x2="474.00" y2="304.20" stroke="#FEC885" stroke-width="1.2" />
<path d="M468.90 304.20 L470.70 302.49 L472.50 304.20 L470.70 305.91 Z" fill="#FEC885" stroke="#FEC885" stroke-width="0.3" />
<line x1="467.40" y1="313.80" x2="474.00" y2="313.80" stroke="#F7931E" stroke-width="1.2" />
<path d="M468.90 313.80 L470.70 312.09 L472.50 313.80 L470.70 315.51 Z" fill="#F7931E" stroke="#F7931E" stroke-width="0.3" />
<text transform="translate(460.80,287.00) rotate(-90)" font-size="5.8" text-anchor="middle" fill="#333" stroke="#333" stroke-width="0.22" dominant-baseline="central">‡‡</text>
<line x1="485.00" y1="280.70" x2="485.00" y2="293.70" stroke="#555" stroke-width="0.75" />
<line x1="487.00" y1="284.60" x2="493.60" y2="284.60" stroke="#8EB2D6" stroke-width="1.2" />
<path d="M488.50 284.60 L490.30 282.89 L492.10 284.60 L490.30 286.31 Z" fill="#8EB2D6" stroke="#8EB2D6" stroke-width="0.3" />
<line x1="487.00" y1="294.40" x2="493.60" y2="294.40" stroke="#134C8A" stroke-width="1.2" />
<path d="M488.50 294.40 L490.30 292.69 L492.10 294.40 L490.30 296.11 Z" fill="#134C8A" stroke="#134C8A" stroke-width="0.3" />
<line x1="487.00" y1="304.20" x2="493.60" y2="304.20" stroke="#FEC885" stroke-width="1.2" />
<path d="M488.50 304.20 L490.30 302.49 L492.10 304.20 L490.30 305.91 Z" fill="#FEC885" stroke="#FEC885" stroke-width="0.3" />
<line x1="487.00" y1="313.80" x2="493.60" y2="313.80" stroke="#F7931E" stroke-width="1.2" />
<path d="M488.50 313.80 L490.30 312.09 L492.10 313.80 L490.30 315.51 Z" fill="#F7931E" stroke="#F7931E" stroke-width="0.3" />
<text transform="translate(480.40,287.00) rotate(-90)" font-size="5.8" text-anchor="middle" fill="#333" stroke="#333" stroke-width="0.22" dominant-baseline="central">‡‡</text>
<line x1="504.60" y1="280.70" x2="504.60" y2="293.70" stroke="#555" stroke-width="0.75" />
<line x1="504.60" y1="295.20" x2="504.60" y2="315.50" stroke="#555" stroke-width="0.75" />
<line x1="506.60" y1="284.60" x2="513.20" y2="284.60" stroke="#8EB2D6" stroke-width="1.2" />
<path d="M508.10 284.60 L509.90 282.89 L511.70 284.60 L509.90 286.31 Z" fill="#8EB2D6" stroke="#8EB2D6" stroke-width="0.3" />
<line x1="506.60" y1="294.40" x2="513.20" y2="294.40" stroke="#134C8A" stroke-width="1.2" />
<path d="M508.10 294.40 L509.90 292.69 L511.70 294.40 L509.90 296.11 Z" fill="#134C8A" stroke="#134C8A" stroke-width="0.3" />
<line x1="506.60" y1="304.20" x2="513.20" y2="304.20" stroke="#FEC885" stroke-width="1.2" />
<path d="M508.10 304.20 L509.90 302.49 L511.70 304.20 L509.90 305.91 Z" fill="#FEC885" stroke="#FEC885" stroke-width="0.3" />
<line x1="506.60" y1="313.80" x2="513.20" y2="313.80" stroke="#F7931E" stroke-width="1.2" />
<path d="M508.10 313.80 L509.90 312.09 L511.70 313.80 L509.90 315.51 Z" fill="#F7931E" stroke="#F7931E" stroke-width="0.3" />
<text transform="translate(500.00,287.00) rotate(-90)" font-size="5.8" text-anchor="middle" fill="#333" stroke="#333" stroke-width="0.22" dominant-baseline="central">‡‡‡‡</text>
<text transform="translate(500.00,305.20) rotate(-90)" font-size="5.8" text-anchor="middle" fill="#333" stroke="#333" stroke-width="0.22" dominant-baseline="central">‡</text>
<text transform="translate(111.30,338.20) rotate(-90) scale(0.87,1)" font-size="8.4" text-anchor="middle" stroke="#231f20" stroke-width="0.13" >CD45.1 derived (%)</text>
<text x="7.60" y="413.80" font-size="11.0" font-weight="bold" fill="#000" stroke="#000" stroke-width="0.35" >F</text>
<text x="23.50" y="425.80" font-size="8.1" font-weight="bold" font-style="italic" >Rig-I +/+</text>
<text x="67.30" y="425.80" font-size="8.1" font-weight="bold" font-style="italic" >Rig-I –/–</text>
<g transform="translate(50.56,427.20) scale(-1.36,1.36)"><path d="M17.2 3.4 C18 0.3 22.6 -0.3 23.4 2.6 C23.9 4.6 22.6 6.2 21.0 6.9" fill="none" stroke="#999" stroke-width="0.55"/><path d="M0 8.5 Q2.2 6.2 5.3 4.9 Q9 3.3 14 3.3 Q20.1 3.2 20.9 6.6 Q21.3 9.8 17.4 10 L3 10 Q0.8 9.8 0 8.5 Z" fill="#2AA7E1" stroke="#1a1a1a" stroke-width="0.5"/><path d="M6.5 4.6 L6.8 3.4 L9.1 3.4 L9.4 4.3 Z" fill="#2AA7E1"/><circle cx="7.9" cy="2.3" r="2.25" fill="#2AA7E1" stroke="#1a1a1a" stroke-width="0.5"/></g>
<text transform="translate(54.80,439.90) scale(0.96,1)" font-size="8.15" stroke="#231f20" stroke-width="0.13" >or</text>
<g transform="translate(94.06,427.20) scale(-1.36,1.36)"><path d="M17.2 3.4 C18 0.3 22.6 -0.3 23.4 2.6 C23.9 4.6 22.6 6.2 21.0 6.9" fill="none" stroke="#999" stroke-width="0.55"/><path d="M0 8.5 Q2.2 6.2 5.3 4.9 Q9 3.3 14 3.3 Q20.1 3.2 20.9 6.6 Q21.3 9.8 17.4 10 L3 10 Q0.8 9.8 0 8.5 Z" fill="#F7941D" stroke="#1a1a1a" stroke-width="0.5"/><path d="M6.5 4.6 L6.8 3.4 L9.1 3.4 L9.4 4.3 Z" fill="#F7941D"/><circle cx="7.9" cy="2.3" r="2.25" fill="#F7941D" stroke="#1a1a1a" stroke-width="0.5"/></g>
<text transform="translate(122.30,422.80) scale(0.96,1)" font-size="7.84" text-anchor="middle" font-style="italic" fill="#D4213D" stroke="#D4213D" stroke-width="0.13" >ATRA</text>
<line x1="111.80" y1="425.80" x2="111.80" y2="431.00" stroke="#D4213D" stroke-width="0.6" />
<path d="M111.80 432.4 L110.70 430.4 L112.90 430.4 Z" fill="#D4213D" stroke="none" stroke-width="1" />
<line x1="111.80" y1="437.00" x2="111.80" y2="442.30" stroke="#111" stroke-width="0.6" />
<path d="M111.80 435.7 L110.70 437.7 L112.90 437.7 Z" fill="#111" stroke="none" stroke-width="1" />
<line x1="115.90" y1="425.80" x2="115.90" y2="431.00" stroke="#D4213D" stroke-width="0.6" />
<path d="M115.90 432.4 L114.80 430.4 L117.00 430.4 Z" fill="#D4213D" stroke="none" stroke-width="1" />
<line x1="115.90" y1="437.00" x2="115.90" y2="442.30" stroke="#111" stroke-width="0.6" />
<path d="M115.90 435.7 L114.80 437.7 L117.00 437.7 Z" fill="#111" stroke="none" stroke-width="1" />
<line x1="120.00" y1="425.80" x2="120.00" y2="431.00" stroke="#D4213D" stroke-width="0.6" />
<path d="M120.00 432.4 L118.90 430.4 L121.10 430.4 Z" fill="#D4213D" stroke="none" stroke-width="1" />
<line x1="120.00" y1="437.00" x2="120.00" y2="442.30" stroke="#111" stroke-width="0.6" />
<path d="M120.00 435.7 L118.90 437.7 L121.10 437.7 Z" fill="#111" stroke="none" stroke-width="1" />
<line x1="124.10" y1="425.80" x2="124.10" y2="431.00" stroke="#D4213D" stroke-width="0.6" />
<path d="M124.10 432.4 L123.00 430.4 L125.20 430.4 Z" fill="#D4213D" stroke="none" stroke-width="1" />
<line x1="124.10" y1="437.00" x2="124.10" y2="442.30" stroke="#111" stroke-width="0.6" />
<path d="M124.10 435.7 L123.00 437.7 L125.20 437.7 Z" fill="#111" stroke="none" stroke-width="1" />
<line x1="128.20" y1="425.80" x2="128.20" y2="431.00" stroke="#D4213D" stroke-width="0.6" />
<path d="M128.20 432.4 L127.10 430.4 L129.30 430.4 Z" fill="#D4213D" stroke="none" stroke-width="1" />
<line x1="128.20" y1="437.00" x2="128.20" y2="442.30" stroke="#111" stroke-width="0.6" />
<path d="M128.20 435.7 L127.10 437.7 L129.30 437.7 Z" fill="#111" stroke="none" stroke-width="1" />
<line x1="132.30" y1="425.80" x2="132.30" y2="431.00" stroke="#D4213D" stroke-width="0.6" />
<path d="M132.30 432.4 L131.20 430.4 L133.40 430.4 Z" fill="#D4213D" stroke="none" stroke-width="1" />
<line x1="132.30" y1="437.00" x2="132.30" y2="442.30" stroke="#111" stroke-width="0.6" />
<path d="M132.30 435.7 L131.20 437.7 L133.40 437.7 Z" fill="#111" stroke="none" stroke-width="1" />
<line x1="101.20" y1="434.20" x2="138.00" y2="434.20" stroke="#111" stroke-width="0.9" />
<path d="M141.0 434.2 L137.4 432.2 L137.4 436.2 Z" fill="#111" stroke="none" stroke-width="1" />
<text transform="translate(122.60,451.50) scale(0.96,1)" font-size="8.36" text-anchor="middle" font-style="italic" stroke="#231f20" stroke-width="0.13" >Corn oil</text>
<text transform="translate(143.50,413.50) scale(0.96,1)" font-size="8.26" stroke="#231f20" stroke-width="0.13" >CD45.1+</text>
<text transform="translate(145.80,431.50) scale(0.96,1)" font-size="8.15" stroke="#231f20" stroke-width="0.13" >Sorted</text>
<text transform="translate(145.80,441.50) scale(0.96,1)" font-size="7.94" stroke="#231f20" stroke-width="0.13" >BMSCs</text>
<circle cx="182.0" cy="412.6" r="1.55" fill="#3E8FD8" stroke="#fff" stroke-width="0.35"/>
<circle cx="184.6" cy="410.6" r="1.55" fill="#3E8FD8" stroke="#fff" stroke-width="0.35"/>
<circle cx="187.4" cy="409.8" r="1.55" fill="#3E8FD8" stroke="#fff" stroke-width="0.35"/>
<circle cx="184.9" cy="413.7" r="1.55" fill="#3E8FD8" stroke="#fff" stroke-width="0.35"/>
<circle cx="187.7" cy="412.7" r="1.55" fill="#3E8FD8" stroke="#fff" stroke-width="0.35"/>
<circle cx="182.9" cy="415.4" r="1.55" fill="#3E8FD8" stroke="#fff" stroke-width="0.35"/>
<circle cx="185.6" cy="416.2" r="1.55" fill="#3E8FD8" stroke="#fff" stroke-width="0.35"/>
<circle cx="188.6" cy="415.4" r="1.55" fill="#3E8FD8" stroke="#fff" stroke-width="0.35"/>
<path d="M199.21 417.69 L191.81 408.89 L190.59 409.91 L197.99 418.71 Z" fill="#eee" stroke="#555" stroke-width="0.4" />
<line x1="191.20" y1="409.40" x2="190.23" y2="408.25" stroke="#E07B20" stroke-width="1.6" />
<line x1="198.60" y1="418.20" x2="200.53" y2="420.50" stroke="#666" stroke-width="0.4" />
<text transform="translate(201.00,413.50) scale(0.96,1)" font-size="8.31" stroke="#231f20" stroke-width="0.13" >i.v. injection</text>
<path d="M199.5 428 Q199 421 206 419.5" fill="none" stroke="#777" stroke-width="0.5"/>
<g transform="translate(228.6,416.0) scale(-1.5,1.78)"><path d="M0 8.5 Q2.2 6.4 5.4 5.2 Q9 3.9 14 3.9 Q19.6 3.8 20.8 6.6 Q21.3 9.7 17.4 10 L3 10 Q0.8 9.8 0 8.5 Z" fill="#D3D3D8" stroke="#333" stroke-width="0.35"/><circle cx="7.9" cy="2.6" r="2.2" fill="#D3D3D8" stroke="#333" stroke-width="0.35"/><path d="M6.4 5.1 L6.8 3.8 L9.1 3.8 L9.5 4.9 Z" fill="#D3D3D8"/><circle cx="3.3" cy="7.6" r="0.35" fill="#222"/></g>
<g transform="translate(210.60,426.40)"><circle r="4.2" fill="#F5C000" stroke="#111" stroke-width="0.5"/><path d="M-0.50 -0.87 L-1.89 -3.27 A3.7800000000000002 3.7800000000000002 0 0 1 1.89 -3.27 L0.50 -0.87 Z" fill="#111"/><path d="M1.01 0.00 L3.78 0.00 A3.7800000000000002 3.7800000000000002 0 0 1 1.89 3.27 L0.50 0.87 Z" fill="#111"/><path d="M-0.50 0.87 L-1.89 3.27 A3.7800000000000002 3.7800000000000002 0 0 1 -3.78 0.00 L-1.01 0.00 Z" fill="#111"/><circle r="0.672" fill="#111"/></g>
<g transform="translate(205.0,429.8) rotate(18)"><rect x="-5" y="-0.7" width="10" height="1.4" fill="#E8A317" stroke="#8a6000" stroke-width="0.25"/><circle cx="-5.3" cy="-0.8" r="1.0" fill="#E8A317" stroke="#8a6000" stroke-width="0.25"/><circle cx="-5.3" cy="0.8" r="1.0" fill="#E8A317" stroke="#8a6000" stroke-width="0.25"/><circle cx="5.3" cy="-0.8" r="1.0" fill="#E8A317" stroke="#8a6000" stroke-width="0.25"/><circle cx="5.3" cy="0.8" r="1.0" fill="#E8A317" stroke="#8a6000" stroke-width="0.25"/><rect x="-5.2" y="-0.55" width="10.4" height="1.1" fill="#E8A317"/></g>
<path d="M190.52 426.65 L183.02 426.45 L182.98 428.15 L190.48 428.35 Z" fill="#eee" stroke="#555" stroke-width="0.4" />
<line x1="183.00" y1="427.30" x2="181.50" y2="427.26" stroke="#E07B20" stroke-width="1.6" />
<line x1="190.50" y1="427.50" x2="193.50" y2="427.58" stroke="#666" stroke-width="0.4" />
<path d="M179.80 433.20 Q182.92 431.30 185.00 431.70 Q187.08 431.30 190.20 433.20 Q187.08 435.10 185.00 434.70 Q182.92 435.10 179.80 433.20 Z" fill="#FFFBEA" stroke="#777" stroke-width="0.4"/>
<circle cx="185.00" cy="433.20" r="0.95" fill="#F2B800"/>
<path d="M186.70 433.60 Q189.58 431.70 191.50 432.10 Q193.42 431.70 196.30 433.60 Q193.42 435.50 191.50 435.10 Q189.58 435.50 186.70 433.60 Z" fill="#FFFBEA" stroke="#777" stroke-width="0.4"/>
<circle cx="191.50" cy="433.60" r="0.95" fill="#F2B800"/>
<path d="M175.60 437.20 Q178.60 435.30 180.60 435.70 Q182.60 435.30 185.60 437.20 Q182.60 439.10 180.60 438.70 Q178.60 439.10 175.60 437.20 Z" fill="#FFFBEA" stroke="#777" stroke-width="0.4"/>
<circle cx="180.60" cy="437.20" r="0.95" fill="#F2B800"/>
<path d="M182.60 437.80 Q185.84 435.90 188.00 436.30 Q190.16 435.90 193.40 437.80 Q190.16 439.70 188.00 439.30 Q185.84 439.70 182.60 437.80 Z" fill="#FFFBEA" stroke="#777" stroke-width="0.4"/>
<circle cx="188.00" cy="437.80" r="0.95" fill="#F2B800"/>
<path d="M191.00 437.60 Q193.76 435.70 195.60 436.10 Q197.44 435.70 200.20 437.60 Q197.44 439.50 195.60 439.10 Q193.76 439.50 191.00 437.60 Z" fill="#FFFBEA" stroke="#777" stroke-width="0.4"/>
<circle cx="195.60" cy="437.60" r="0.95" fill="#F2B800"/>
<text transform="translate(203.50,442.70) scale(0.96,1)" font-size="8.26" stroke="#231f20" stroke-width="0.13" >CD45.2</text>
<text transform="translate(168.80,452.00) scale(0.96,1)" font-size="8.57" stroke="#231f20" stroke-width="0.13" >Intra-femur injection</text>
<line x1="233.00" y1="429.60" x2="272.50" y2="429.60" stroke="#6a6a6a" stroke-width="1.5" />
<path d="M275.6 429.6 L271.8 427.7 L271.8 431.5 Z" fill="#111" stroke="none" stroke-width="1" />
<text transform="translate(253.00,425.80) scale(0.96,1)" font-size="8.05" text-anchor="middle" stroke="#231f20" stroke-width="0.13" >8 weeks</text>
<text transform="translate(279.80,427.30) scale(0.96,1)" font-size="8.15" stroke="#231f20" stroke-width="0.13" >Recovered</text>
<text transform="translate(279.80,436.60) scale(0.96,1)" font-size="8.15" stroke="#231f20" stroke-width="0.13" >BM cells</text>
<text x="6.90" y="477.60" font-size="11.0" font-weight="bold" fill="#000" stroke="#000" stroke-width="0.35" >G</text>
<g transform="translate(24.0,478.2) rotate(-74)"><rect x="-6.2" y="-0.85" width="12.4" height="1.7" fill="#EFAE10" stroke="#C88A00" stroke-width="0.3"/><circle cx="-6.6" cy="-1.1" r="1.35" fill="#EFAE10" stroke="#C88A00" stroke-width="0.3"/><circle cx="-6.6" cy="1.1" r="1.35" fill="#EFAE10" stroke="#C88A00" stroke-width="0.3"/><circle cx="6.6" cy="-1.1" r="1.35" fill="#EFAE10" stroke="#C88A00" stroke-width="0.3"/><circle cx="6.6" cy="1.1" r="1.35" fill="#EFAE10" stroke="#C88A00" stroke-width="0.3"/><rect x="-6.4" y="-0.7" width="12.8" height="1.4" fill="#EFAE10"/></g>
<rect x="41.70" y="523.89" width="5.70" height="29.21" fill="#9BDB9F"/>
<rect x="50.60" y="541.31" width="5.70" height="11.79" fill="#E98A9A"/>
<rect x="66.00" y="526.96" width="5.70" height="26.14" fill="#9BDB9F"/>
<rect x="74.90" y="525.94" width="5.70" height="27.16" fill="#E98A9A"/>
<line x1="44.55" y1="532.60" x2="44.55" y2="515.18" stroke="#333" stroke-width="0.6" />
<line x1="43.25" y1="515.18" x2="45.85" y2="515.18" stroke="#333" stroke-width="0.6" />
<line x1="43.25" y1="532.60" x2="45.85" y2="532.60" stroke="#333" stroke-width="0.6" />
<line x1="53.45" y1="545.41" x2="53.45" y2="537.73" stroke="#333" stroke-width="0.6" />
<line x1="52.15" y1="537.73" x2="54.75" y2="537.73" stroke="#333" stroke-width="0.6" />
<line x1="52.15" y1="545.41" x2="54.75" y2="545.41" stroke="#333" stroke-width="0.6" />
<line x1="68.85" y1="532.60" x2="68.85" y2="522.35" stroke="#333" stroke-width="0.6" />
<line x1="67.55" y1="522.35" x2="70.15" y2="522.35" stroke="#333" stroke-width="0.6" />
<line x1="67.55" y1="532.60" x2="70.15" y2="532.60" stroke="#333" stroke-width="0.6" />
<line x1="77.75" y1="530.04" x2="77.75" y2="522.35" stroke="#333" stroke-width="0.6" />
<line x1="76.45" y1="522.35" x2="79.05" y2="522.35" stroke="#333" stroke-width="0.6" />
<line x1="76.45" y1="530.04" x2="79.05" y2="530.04" stroke="#333" stroke-width="0.6" />
<circle cx="43.65" cy="512.10" r="1.75" fill="#2FB44A"/>
<circle cx="45.45" cy="522.35" r="1.75" fill="#2FB44A"/>
<circle cx="44.55" cy="527.48" r="1.75" fill="#2FB44A"/>
<circle cx="43.95" cy="530.04" r="1.75" fill="#2FB44A"/>
<circle cx="52.55" cy="536.70" r="1.75" fill="#D10F3A"/>
<circle cx="54.35" cy="540.29" r="1.75" fill="#D10F3A"/>
<circle cx="53.45" cy="542.85" r="1.75" fill="#D10F3A"/>
<circle cx="52.85" cy="544.39" r="1.75" fill="#D10F3A"/>
<circle cx="67.95" cy="522.35" r="1.75" fill="#2FB44A"/>
<circle cx="69.75" cy="524.91" r="1.75" fill="#2FB44A"/>
<circle cx="68.85" cy="530.04" r="1.75" fill="#2FB44A"/>
<circle cx="76.85" cy="519.79" r="1.75" fill="#D10F3A"/>
<circle cx="78.65" cy="523.38" r="1.75" fill="#D10F3A"/>
<circle cx="77.75" cy="527.48" r="1.75" fill="#D10F3A"/>
<circle cx="77.15" cy="530.04" r="1.75" fill="#D10F3A"/>
<line x1="38.40" y1="494.70" x2="38.40" y2="553.75" stroke="#231f20" stroke-width="1.3" />
<line x1="35.50" y1="553.10" x2="38.40" y2="553.10" stroke="#231f20" stroke-width="1.0" />
<text transform="translate(32.30,556.12) scale(0.86,1)" font-size="8.5" text-anchor="end" stroke="#231f20" stroke-width="0.13" >0.0</text>
<line x1="35.50" y1="542.85" x2="38.40" y2="542.85" stroke="#231f20" stroke-width="1.0" />
<text transform="translate(32.30,545.87) scale(0.86,1)" font-size="8.5" text-anchor="end" stroke="#231f20" stroke-width="0.13" >0.2</text>
<line x1="35.50" y1="532.60" x2="38.40" y2="532.60" stroke="#231f20" stroke-width="1.0" />
<text transform="translate(32.30,535.62) scale(0.86,1)" font-size="8.5" text-anchor="end" stroke="#231f20" stroke-width="0.13" >0.4</text>
<line x1="35.50" y1="522.35" x2="38.40" y2="522.35" stroke="#231f20" stroke-width="1.0" />
<text transform="translate(32.30,525.37) scale(0.86,1)" font-size="8.5" text-anchor="end" stroke="#231f20" stroke-width="0.13" >0.6</text>
<line x1="35.50" y1="512.10" x2="38.40" y2="512.10" stroke="#231f20" stroke-width="1.0" />
<text transform="translate(32.30,515.12) scale(0.86,1)" font-size="8.5" text-anchor="end" stroke="#231f20" stroke-width="0.13" >0.8</text>
<line x1="35.50" y1="501.85" x2="38.40" y2="501.85" stroke="#231f20" stroke-width="1.0" />
<text transform="translate(32.30,504.87) scale(0.86,1)" font-size="8.5" text-anchor="end" stroke="#231f20" stroke-width="0.13" >1.0</text>
<line x1="37.75" y1="553.10" x2="84.70" y2="553.10" stroke="#231f20" stroke-width="1.3" />
<line x1="48.50" y1="553.10" x2="48.50" y2="555.70" stroke="#231f20" stroke-width="0.9" />
<line x1="73.10" y1="553.10" x2="73.10" y2="555.70" stroke="#231f20" stroke-width="0.9" />
<text transform="translate(61.55,483.60) scale(0.907,1)" font-size="8.36" text-anchor="middle" stroke="#231f20" stroke-width="0.13" >LT-HSC</text>
<line x1="45.30" y1="507.00" x2="52.80" y2="507.00" stroke="#8e8e8e" stroke-width="1.35" />
<text x="49.05" y="504.40" font-size="6.2" text-anchor="middle" fill="#333" stroke="#333" stroke-width="0.22" >‡‡‡</text>
<line x1="55.00" y1="515.70" x2="77.50" y2="515.70" stroke="#8e8e8e" stroke-width="1.35" />
<text x="66.25" y="513.10" font-size="6.2" text-anchor="middle" fill="#333" stroke="#333" stroke-width="0.22" >‡‡</text>
<text transform="translate(49.30,562.30) rotate(-45) scale(0.96,1)" font-size="8.15" text-anchor="end" stroke="#231f20" stroke-width="0.13" >Rig-I +/+</text>
<text transform="translate(73.90,562.30) rotate(-45) scale(0.96,1)" font-size="8.15" text-anchor="end" stroke="#231f20" stroke-width="0.13" >Rig-I –/–</text>
<rect x="109.80" y="521.10" width="5.70" height="32.00" fill="#9BDB9F"/>
<rect x="118.70" y="535.69" width="5.70" height="17.41" fill="#E98A9A"/>
<rect x="134.10" y="529.93" width="5.70" height="23.17" fill="#9BDB9F"/>
<rect x="143.00" y="530.32" width="5.70" height="22.78" fill="#E98A9A"/>
<line x1="112.65" y1="530.06" x2="112.65" y2="513.42" stroke="#333" stroke-width="0.6" />
<line x1="111.35" y1="513.42" x2="113.95" y2="513.42" stroke="#333" stroke-width="0.6" />
<line x1="111.35" y1="530.06" x2="113.95" y2="530.06" stroke="#333" stroke-width="0.6" />
<line x1="121.55" y1="539.02" x2="121.55" y2="533.26" stroke="#333" stroke-width="0.6" />
<line x1="120.25" y1="533.26" x2="122.85" y2="533.26" stroke="#333" stroke-width="0.6" />
<line x1="120.25" y1="539.02" x2="122.85" y2="539.02" stroke="#333" stroke-width="0.6" />
<line x1="136.95" y1="533.90" x2="136.95" y2="527.50" stroke="#333" stroke-width="0.6" />
<line x1="135.65" y1="527.50" x2="138.25" y2="527.50" stroke="#333" stroke-width="0.6" />
<line x1="135.65" y1="533.90" x2="138.25" y2="533.90" stroke="#333" stroke-width="0.6" />
<line x1="145.85" y1="533.90" x2="145.85" y2="526.22" stroke="#333" stroke-width="0.6" />
<line x1="144.55" y1="526.22" x2="147.15" y2="526.22" stroke="#333" stroke-width="0.6" />
<line x1="144.55" y1="533.90" x2="147.15" y2="533.90" stroke="#333" stroke-width="0.6" />
<circle cx="111.75" cy="512.14" r="1.75" fill="#2FB44A"/>
<circle cx="113.55" cy="512.78" r="1.75" fill="#2FB44A"/>
<circle cx="112.65" cy="528.78" r="1.75" fill="#2FB44A"/>
<circle cx="112.05" cy="531.34" r="1.75" fill="#2FB44A"/>
<circle cx="120.65" cy="532.62" r="1.75" fill="#D10F3A"/>
<circle cx="122.45" cy="534.54" r="1.75" fill="#D10F3A"/>
<circle cx="121.55" cy="537.74" r="1.75" fill="#D10F3A"/>
<circle cx="120.95" cy="539.66" r="1.75" fill="#D10F3A"/>
<circle cx="136.05" cy="527.50" r="1.75" fill="#2FB44A"/>
<circle cx="137.85" cy="528.78" r="1.75" fill="#2FB44A"/>
<circle cx="136.95" cy="533.90" r="1.75" fill="#2FB44A"/>
<circle cx="144.95" cy="524.94" r="1.75" fill="#D10F3A"/>
<circle cx="146.75" cy="526.86" r="1.75" fill="#D10F3A"/>
<circle cx="145.85" cy="532.62" r="1.75" fill="#D10F3A"/>
<circle cx="145.25" cy="533.90" r="1.75" fill="#D10F3A"/>
<line x1="106.50" y1="494.70" x2="106.50" y2="553.75" stroke="#231f20" stroke-width="1.3" />
<line x1="103.60" y1="553.10" x2="106.50" y2="553.10" stroke="#231f20" stroke-width="1.0" />
<text transform="translate(100.40,556.12) scale(0.86,1)" font-size="8.5" text-anchor="end" stroke="#231f20" stroke-width="0.13" >0</text>
<line x1="103.60" y1="540.30" x2="106.50" y2="540.30" stroke="#231f20" stroke-width="1.0" />
<text transform="translate(100.40,543.32) scale(0.86,1)" font-size="8.5" text-anchor="end" stroke="#231f20" stroke-width="0.13" >1</text>
<line x1="103.60" y1="527.50" x2="106.50" y2="527.50" stroke="#231f20" stroke-width="1.0" />
<text transform="translate(100.40,530.52) scale(0.86,1)" font-size="8.5" text-anchor="end" stroke="#231f20" stroke-width="0.13" >2</text>
<line x1="103.60" y1="514.70" x2="106.50" y2="514.70" stroke="#231f20" stroke-width="1.0" />
<text transform="translate(100.40,517.72) scale(0.86,1)" font-size="8.5" text-anchor="end" stroke="#231f20" stroke-width="0.13" >3</text>
<line x1="103.60" y1="501.90" x2="106.50" y2="501.90" stroke="#231f20" stroke-width="1.0" />
<text transform="translate(100.40,504.92) scale(0.86,1)" font-size="8.5" text-anchor="end" stroke="#231f20" stroke-width="0.13" >4</text>
<line x1="105.85" y1="553.10" x2="152.80" y2="553.10" stroke="#231f20" stroke-width="1.3" />
<line x1="117.10" y1="553.10" x2="117.10" y2="555.70" stroke="#231f20" stroke-width="0.9" />
<line x1="141.40" y1="553.10" x2="141.40" y2="555.70" stroke="#231f20" stroke-width="0.9" />
<text transform="translate(129.65,483.60) scale(0.907,1)" font-size="8.36" text-anchor="middle" stroke="#231f20" stroke-width="0.13" >ST-HSC</text>
<text transform="translate(117.90,562.30) rotate(-45) scale(0.96,1)" font-size="8.15" text-anchor="end" stroke="#231f20" stroke-width="0.13" >Rig-I +/+</text>
<text transform="translate(142.20,562.30) rotate(-45) scale(0.96,1)" font-size="8.15" text-anchor="end" stroke="#231f20" stroke-width="0.13" >Rig-I –/–</text>
<rect x="178.30" y="518.73" width="5.70" height="34.37" fill="#9BDB9F"/>
<rect x="187.20" y="532.58" width="5.70" height="20.52" fill="#E98A9A"/>
<rect x="202.60" y="521.81" width="5.70" height="31.29" fill="#9BDB9F"/>
<rect x="211.50" y="523.35" width="5.70" height="29.75" fill="#E98A9A"/>
<line x1="181.15" y1="524.03" x2="181.15" y2="512.06" stroke="#333" stroke-width="0.6" />
<line x1="179.85" y1="512.06" x2="182.45" y2="512.06" stroke="#333" stroke-width="0.6" />
<line x1="179.85" y1="524.03" x2="182.45" y2="524.03" stroke="#333" stroke-width="0.6" />
<line x1="190.05" y1="536.00" x2="190.05" y2="529.16" stroke="#333" stroke-width="0.6" />
<line x1="188.75" y1="529.16" x2="191.35" y2="529.16" stroke="#333" stroke-width="0.6" />
<line x1="188.75" y1="536.00" x2="191.35" y2="536.00" stroke="#333" stroke-width="0.6" />
<line x1="205.45" y1="529.16" x2="205.45" y2="515.48" stroke="#333" stroke-width="0.6" />
<line x1="204.15" y1="515.48" x2="206.75" y2="515.48" stroke="#333" stroke-width="0.6" />
<line x1="204.15" y1="529.16" x2="206.75" y2="529.16" stroke="#333" stroke-width="0.6" />
<line x1="214.35" y1="528.31" x2="214.35" y2="517.19" stroke="#333" stroke-width="0.6" />
<line x1="213.05" y1="517.19" x2="215.65" y2="517.19" stroke="#333" stroke-width="0.6" />
<line x1="213.05" y1="528.31" x2="215.65" y2="528.31" stroke="#333" stroke-width="0.6" />
<circle cx="180.25" cy="510.35" r="1.75" fill="#2FB44A"/>
<circle cx="182.05" cy="517.19" r="1.75" fill="#2FB44A"/>
<circle cx="181.15" cy="519.75" r="1.75" fill="#2FB44A"/>
<circle cx="180.55" cy="522.32" r="1.75" fill="#2FB44A"/>
<circle cx="181.85" cy="524.03" r="1.75" fill="#2FB44A"/>
<circle cx="189.15" cy="529.16" r="1.75" fill="#D10F3A"/>
<circle cx="190.95" cy="530.87" r="1.75" fill="#D10F3A"/>
<circle cx="190.05" cy="532.58" r="1.75" fill="#D10F3A"/>
<circle cx="189.45" cy="536.86" r="1.75" fill="#D10F3A"/>
<circle cx="204.55" cy="516.34" r="1.75" fill="#2FB44A"/>
<circle cx="206.35" cy="518.90" r="1.75" fill="#2FB44A"/>
<circle cx="205.45" cy="521.47" r="1.75" fill="#2FB44A"/>
<circle cx="204.85" cy="531.73" r="1.75" fill="#2FB44A"/>
<circle cx="213.45" cy="515.48" r="1.75" fill="#D10F3A"/>
<circle cx="215.25" cy="520.61" r="1.75" fill="#D10F3A"/>
<circle cx="214.35" cy="525.74" r="1.75" fill="#D10F3A"/>
<circle cx="213.75" cy="527.45" r="1.75" fill="#D10F3A"/>
<circle cx="215.05" cy="529.16" r="1.75" fill="#D10F3A"/>
<line x1="175.00" y1="494.70" x2="175.00" y2="553.75" stroke="#231f20" stroke-width="1.3" />
<line x1="172.10" y1="553.10" x2="175.00" y2="553.10" stroke="#231f20" stroke-width="1.0" />
<text transform="translate(168.90,556.12) scale(0.86,1)" font-size="8.5" text-anchor="end" stroke="#231f20" stroke-width="0.13" >0</text>
<line x1="172.10" y1="536.00" x2="175.00" y2="536.00" stroke="#231f20" stroke-width="1.0" />
<text transform="translate(168.90,539.02) scale(0.86,1)" font-size="8.5" text-anchor="end" stroke="#231f20" stroke-width="0.13" >1</text>
<line x1="172.10" y1="518.90" x2="175.00" y2="518.90" stroke="#231f20" stroke-width="1.0" />
<text transform="translate(168.90,521.92) scale(0.86,1)" font-size="8.5" text-anchor="end" stroke="#231f20" stroke-width="0.13" >2</text>
<line x1="172.10" y1="501.80" x2="175.00" y2="501.80" stroke="#231f20" stroke-width="1.0" />
<text transform="translate(168.90,504.82) scale(0.86,1)" font-size="8.5" text-anchor="end" stroke="#231f20" stroke-width="0.13" >3</text>
<line x1="174.35" y1="553.10" x2="221.30" y2="553.10" stroke="#231f20" stroke-width="1.3" />
<line x1="185.50" y1="553.10" x2="185.50" y2="555.70" stroke="#231f20" stroke-width="0.9" />
<line x1="209.90" y1="553.10" x2="209.90" y2="555.70" stroke="#231f20" stroke-width="0.9" />
<text transform="translate(198.15,483.60) scale(0.907,1)" font-size="8.36" text-anchor="middle" stroke="#231f20" stroke-width="0.13" >MPP</text>
<line x1="180.40" y1="505.30" x2="189.20" y2="505.30" stroke="#8e8e8e" stroke-width="1.35" />
<text x="184.80" y="502.70" font-size="6.2" text-anchor="middle" fill="#333" stroke="#333" stroke-width="0.22" >‡‡</text>
<line x1="191.20" y1="510.40" x2="214.20" y2="510.40" stroke="#8e8e8e" stroke-width="1.35" />
<text transform="translate(202.70,508.60) scale(0.96,1)" font-size="6.48" text-anchor="middle" fill="#333" stroke="#333" stroke-width="0.13" >0.051</text>
<text transform="translate(186.30,562.30) rotate(-45) scale(0.96,1)" font-size="8.15" text-anchor="end" stroke="#231f20" stroke-width="0.13" >Rig-I +/+</text>
<text transform="translate(210.70,562.30) rotate(-45) scale(0.96,1)" font-size="8.15" text-anchor="end" stroke="#231f20" stroke-width="0.13" >Rig-I –/–</text>
<rect x="247.10" y="531.21" width="5.70" height="21.89" fill="#9BDB9F"/>
<rect x="256.00" y="545.58" width="5.70" height="7.52" fill="#E98A9A"/>
<rect x="271.40" y="533.95" width="5.70" height="19.15" fill="#9BDB9F"/>
<rect x="280.30" y="535.32" width="5.70" height="17.78" fill="#E98A9A"/>
<line x1="249.95" y1="538.74" x2="249.95" y2="523.00" stroke="#333" stroke-width="0.6" />
<line x1="248.65" y1="523.00" x2="251.25" y2="523.00" stroke="#333" stroke-width="0.6" />
<line x1="248.65" y1="538.74" x2="251.25" y2="538.74" stroke="#333" stroke-width="0.6" />
<line x1="258.85" y1="546.94" x2="258.85" y2="542.84" stroke="#333" stroke-width="0.6" />
<line x1="257.55" y1="542.84" x2="260.15" y2="542.84" stroke="#333" stroke-width="0.6" />
<line x1="257.55" y1="546.94" x2="260.15" y2="546.94" stroke="#333" stroke-width="0.6" />
<line x1="274.25" y1="539.42" x2="274.25" y2="529.16" stroke="#333" stroke-width="0.6" />
<line x1="272.95" y1="529.16" x2="275.55" y2="529.16" stroke="#333" stroke-width="0.6" />
<line x1="272.95" y1="539.42" x2="275.55" y2="539.42" stroke="#333" stroke-width="0.6" />
<line x1="283.15" y1="539.42" x2="283.15" y2="531.90" stroke="#333" stroke-width="0.6" />
<line x1="281.85" y1="531.90" x2="284.45" y2="531.90" stroke="#333" stroke-width="0.6" />
<line x1="281.85" y1="539.42" x2="284.45" y2="539.42" stroke="#333" stroke-width="0.6" />
<circle cx="249.05" cy="520.27" r="1.75" fill="#2FB44A"/>
<circle cx="250.85" cy="531.90" r="1.75" fill="#2FB44A"/>
<circle cx="249.95" cy="534.29" r="1.75" fill="#2FB44A"/>
<circle cx="249.35" cy="536.00" r="1.75" fill="#2FB44A"/>
<circle cx="250.65" cy="537.71" r="1.75" fill="#2FB44A"/>
<circle cx="257.95" cy="541.13" r="1.75" fill="#D10F3A"/>
<circle cx="259.75" cy="544.55" r="1.75" fill="#D10F3A"/>
<circle cx="258.85" cy="545.58" r="1.75" fill="#D10F3A"/>
<circle cx="273.35" cy="527.45" r="1.75" fill="#2FB44A"/>
<circle cx="275.15" cy="530.87" r="1.75" fill="#2FB44A"/>
<circle cx="274.25" cy="536.00" r="1.75" fill="#2FB44A"/>
<circle cx="273.65" cy="540.10" r="1.75" fill="#2FB44A"/>
<circle cx="282.25" cy="529.84" r="1.75" fill="#D10F3A"/>
<circle cx="284.05" cy="533.61" r="1.75" fill="#D10F3A"/>
<circle cx="283.15" cy="536.00" r="1.75" fill="#D10F3A"/>
<circle cx="282.55" cy="537.71" r="1.75" fill="#D10F3A"/>
<line x1="243.80" y1="494.70" x2="243.80" y2="553.75" stroke="#231f20" stroke-width="1.3" />
<line x1="240.90" y1="553.10" x2="243.80" y2="553.10" stroke="#231f20" stroke-width="1.0" />
<text transform="translate(237.70,556.12) scale(0.86,1)" font-size="8.5" text-anchor="end" stroke="#231f20" stroke-width="0.13" >0.0</text>
<line x1="240.90" y1="536.00" x2="243.80" y2="536.00" stroke="#231f20" stroke-width="1.0" />
<text transform="translate(237.70,539.02) scale(0.86,1)" font-size="8.5" text-anchor="end" stroke="#231f20" stroke-width="0.13" >0.5</text>
<line x1="240.90" y1="518.90" x2="243.80" y2="518.90" stroke="#231f20" stroke-width="1.0" />
<text transform="translate(237.70,521.92) scale(0.86,1)" font-size="8.5" text-anchor="end" stroke="#231f20" stroke-width="0.13" >1.0</text>
<line x1="240.90" y1="501.80" x2="243.80" y2="501.80" stroke="#231f20" stroke-width="1.0" />
<text transform="translate(237.70,504.82) scale(0.86,1)" font-size="8.5" text-anchor="end" stroke="#231f20" stroke-width="0.13" >1.5</text>
<line x1="243.15" y1="553.10" x2="290.10" y2="553.10" stroke="#231f20" stroke-width="1.3" />
<line x1="254.30" y1="553.10" x2="254.30" y2="555.70" stroke="#231f20" stroke-width="0.9" />
<line x1="278.70" y1="553.10" x2="278.70" y2="555.70" stroke="#231f20" stroke-width="0.9" />
<text transform="translate(266.95,483.60) scale(0.907,1)" font-size="8.36" text-anchor="middle" stroke="#231f20" stroke-width="0.13" >HSC</text>
<line x1="248.40" y1="515.30" x2="257.30" y2="515.30" stroke="#8e8e8e" stroke-width="1.35" />
<text x="252.85" y="512.70" font-size="6.2" text-anchor="middle" fill="#333" stroke="#333" stroke-width="0.22" >‡‡</text>
<line x1="258.80" y1="522.70" x2="282.00" y2="522.70" stroke="#8e8e8e" stroke-width="1.35" />
<text x="270.40" y="520.10" font-size="6.2" text-anchor="middle" fill="#333" stroke="#333" stroke-width="0.22" >‡</text>
<text transform="translate(255.10,562.30) rotate(-45) scale(0.96,1)" font-size="8.15" text-anchor="end" stroke="#231f20" stroke-width="0.13" >Rig-I +/+</text>
<text transform="translate(279.50,562.30) rotate(-45) scale(0.96,1)" font-size="8.15" text-anchor="end" stroke="#231f20" stroke-width="0.13" >Rig-I –/–</text>
<text transform="translate(14.20,527.50) rotate(-90) scale(0.96,1)" font-size="8.26" text-anchor="middle" stroke="#231f20" stroke-width="0.13" >CD45.1+ per leg (×10<tspan dy="-2.8" font-size="5.3">4</tspan><tspan dy="2.8">)</tspan></text>
<rect x="287.80" y="500.80" width="5.00" height="5.00" fill="#9BDB9F"/>
<text transform="translate(295.80,505.60) scale(0.96,1)" font-size="8.05" stroke="#231f20" stroke-width="0.13" >Ctrl</text>
<rect x="287.80" y="510.10" width="5.00" height="5.00" fill="#E98A9A"/>
<text transform="translate(295.80,514.80) scale(0.96,1)" font-size="8.05" stroke="#231f20" stroke-width="0.13" >ATRA</text>
<text x="328.60" y="477.00" font-size="11.0" font-weight="bold" fill="#000" stroke="#000" stroke-width="0.35" >H</text>
<g transform="translate(344.9,476.8) rotate(28)"><rect x="-1.8" y="-8.2" width="3.6" height="16.5" rx="1.8" fill="#C8102E" stroke="#5a0010" stroke-width="0.4"/><rect x="-1.8" y="-8.6" width="3.6" height="4.2" fill="#fff" stroke="#444" stroke-width="0.45"/></g>
<text transform="translate(393.00,483.80) scale(0.96,1)" font-size="8.46" text-anchor="middle" stroke="#231f20" stroke-width="0.13" >WBC</text>
<line x1="365.00" y1="543.66" x2="365.00" y2="550.89" stroke="#151515" stroke-width="0.75" />
<line x1="363.80" y1="543.66" x2="366.20" y2="543.66" stroke="#151515" stroke-width="0.7" />
<line x1="363.80" y1="550.89" x2="366.20" y2="550.89" stroke="#151515" stroke-width="0.7" />
<line x1="363.80" y1="543.26" x2="366.20" y2="543.26" stroke="#151515" stroke-width="0.7" />
<line x1="363.80" y1="551.30" x2="366.20" y2="551.30" stroke="#151515" stroke-width="0.7" />
<line x1="382.70" y1="526.57" x2="382.70" y2="545.27" stroke="#151515" stroke-width="0.75" />
<line x1="381.50" y1="526.57" x2="383.90" y2="526.57" stroke="#151515" stroke-width="0.7" />
<line x1="381.50" y1="545.27" x2="383.90" y2="545.27" stroke="#151515" stroke-width="0.7" />
<line x1="381.50" y1="531.90" x2="383.90" y2="531.90" stroke="#151515" stroke-width="0.7" />
<line x1="381.50" y1="539.94" x2="383.90" y2="539.94" stroke="#151515" stroke-width="0.7" />
<line x1="400.60" y1="516.32" x2="400.60" y2="539.04" stroke="#151515" stroke-width="0.75" />
<line x1="399.40" y1="516.32" x2="401.80" y2="516.32" stroke="#151515" stroke-width="0.7" />
<line x1="399.40" y1="539.04" x2="401.80" y2="539.04" stroke="#151515" stroke-width="0.7" />
<line x1="399.40" y1="523.66" x2="401.80" y2="523.66" stroke="#151515" stroke-width="0.7" />
<line x1="399.40" y1="531.70" x2="401.80" y2="531.70" stroke="#151515" stroke-width="0.7" />
<line x1="418.50" y1="496.22" x2="418.50" y2="525.97" stroke="#151515" stroke-width="0.75" />
<line x1="417.30" y1="496.22" x2="419.70" y2="496.22" stroke="#151515" stroke-width="0.7" />
<line x1="417.30" y1="525.97" x2="419.70" y2="525.97" stroke="#151515" stroke-width="0.7" />
<line x1="417.30" y1="507.08" x2="419.70" y2="507.08" stroke="#151515" stroke-width="0.7" />
<line x1="417.30" y1="515.12" x2="419.70" y2="515.12" stroke="#151515" stroke-width="0.7" />
<polyline points="365.00,544.56 382.70,533.11 400.60,522.45 418.50,507.98" fill="none" stroke="#F7931E" stroke-width="1.2"/>
<circle cx="365.00" cy="544.56" r="1.5" fill="#F7931E"/>
<circle cx="382.70" cy="533.11" r="1.5" fill="#F7931E"/>
<circle cx="400.60" cy="522.45" r="1.5" fill="#F7931E"/>
<circle cx="418.50" cy="507.98" r="1.5" fill="#F7931E"/>
<polyline points="365.00,544.46 382.70,533.00 400.60,522.35 418.50,507.88" fill="none" stroke="#FEC885" stroke-width="1.2"/>
<circle cx="365.00" cy="544.46" r="1.5" fill="#FEC885"/>
<circle cx="382.70" cy="533.00" r="1.5" fill="#FEC885"/>
<circle cx="400.60" cy="522.35" r="1.5" fill="#FEC885"/>
<circle cx="418.50" cy="507.88" r="1.5" fill="#FEC885"/>
<polyline points="365.00,546.27 382.70,536.62 400.60,526.17 418.50,508.48" fill="none" stroke="#8EB2D6" stroke-width="1.2"/>
<circle cx="365.00" cy="546.27" r="1.5" fill="#8EB2D6"/>
<circle cx="382.70" cy="536.62" r="1.5" fill="#8EB2D6"/>
<circle cx="400.60" cy="526.17" r="1.5" fill="#8EB2D6"/>
<circle cx="418.50" cy="508.48" r="1.5" fill="#8EB2D6"/>
<polyline points="365.00,549.29 382.70,543.06 400.60,536.62 418.50,520.74" fill="none" stroke="#134C8A" stroke-width="1.2"/>
<circle cx="365.00" cy="549.29" r="1.5" fill="#134C8A"/>
<circle cx="382.70" cy="543.06" r="1.5" fill="#134C8A"/>
<circle cx="400.60" cy="536.62" r="1.5" fill="#134C8A"/>
<circle cx="418.50" cy="520.74" r="1.5" fill="#134C8A"/>
<line x1="355.90" y1="488.50" x2="355.90" y2="552.75" stroke="#231f20" stroke-width="1.3" />
<line x1="353.00" y1="552.10" x2="355.90" y2="552.10" stroke="#231f20" stroke-width="1.0" />
<text transform="translate(350.30,555.05) scale(0.86,1)" font-size="8.3" text-anchor="end" stroke="#231f20" stroke-width="0.13" >0</text>
<line x1="353.00" y1="532.00" x2="355.90" y2="532.00" stroke="#231f20" stroke-width="1.0" />
<text transform="translate(350.30,534.95) scale(0.86,1)" font-size="8.3" text-anchor="end" stroke="#231f20" stroke-width="0.13" >10</text>
<line x1="353.00" y1="511.90" x2="355.90" y2="511.90" stroke="#231f20" stroke-width="1.0" />
<text transform="translate(350.30,514.85) scale(0.86,1)" font-size="8.3" text-anchor="end" stroke="#231f20" stroke-width="0.13" >20</text>
<line x1="353.00" y1="491.80" x2="355.90" y2="491.80" stroke="#231f20" stroke-width="1.0" />
<text transform="translate(350.30,494.75) scale(0.86,1)" font-size="8.3" text-anchor="end" stroke="#231f20" stroke-width="0.13" >30</text>
<line x1="355.25" y1="552.10" x2="430.40" y2="552.10" stroke="#231f20" stroke-width="1.3" />
<line x1="365.00" y1="552.10" x2="365.00" y2="554.50" stroke="#231f20" stroke-width="0.9" />
<line x1="382.70" y1="552.10" x2="382.70" y2="554.50" stroke="#231f20" stroke-width="0.9" />
<line x1="400.60" y1="552.10" x2="400.60" y2="554.50" stroke="#231f20" stroke-width="0.9" />
<line x1="418.50" y1="552.10" x2="418.50" y2="554.50" stroke="#231f20" stroke-width="0.9" />
<text transform="translate(365.00,564.50) scale(0.96,1)" font-size="7.73" text-anchor="middle" stroke="#231f20" stroke-width="0.13" >1</text>
<text transform="translate(382.70,564.50) scale(0.96,1)" font-size="7.73" text-anchor="middle" stroke="#231f20" stroke-width="0.13" >2</text>
<text transform="translate(400.60,564.50) scale(0.96,1)" font-size="7.73" text-anchor="middle" stroke="#231f20" stroke-width="0.13" >3</text>
<text transform="translate(418.50,564.50) scale(0.96,1)" font-size="7.73" text-anchor="middle" stroke="#231f20" stroke-width="0.13" >4</text>
<text transform="translate(393.00,577.60) scale(0.78,1)" font-size="9.0" text-anchor="middle" stroke="#231f20" stroke-width="0.13" >Weeks</text>
<text x="418.80" y="493.90" font-size="6.0" text-anchor="middle" fill="#333" stroke="#333" stroke-width="0.22" >‡‡‡‡</text>
<text x="400.50" y="513.70" font-size="6.0" text-anchor="middle" fill="#333" stroke="#333" stroke-width="0.22" >‡‡‡‡</text>
<text x="400.60" y="546.40" font-size="6.0" text-anchor="middle" fill="#333" stroke="#333" stroke-width="0.22" >‡‡‡</text>
<text x="418.80" y="533.90" font-size="6.0" text-anchor="middle" fill="#333" stroke="#333" stroke-width="0.22" >‡‡‡</text>
<text transform="translate(335.50,522.20) rotate(-90) scale(0.96,1)" font-size="7.84" text-anchor="middle" stroke="#231f20" stroke-width="0.13" >10<tspan dy="-3.0" font-size="5.6">9</tspan><tspan dy="3.0"> cells/L</tspan></text>
<line x1="433.70" y1="487.80" x2="441.10" y2="487.80" stroke="#8EB2D6" stroke-width="1.2" />
<path d="M435.50 487.80 L437.40 486.00 L439.30 487.80 L437.40 489.61 Z" fill="#8EB2D6" stroke="#8EB2D6" stroke-width="0.3" />
<text transform="translate(445.00,490.30) scale(0.96,1)" font-size="7.73" stroke="#231f20" stroke-width="0.13" ><tspan font-style="italic">Rig-I</tspan> +/+ MSC Ctrl</text>
<line x1="433.70" y1="497.30" x2="441.10" y2="497.30" stroke="#134C8A" stroke-width="1.2" />
<path d="M435.50 497.30 L437.40 495.50 L439.30 497.30 L437.40 499.11 Z" fill="#134C8A" stroke="#134C8A" stroke-width="0.3" />
<text transform="translate(445.00,499.80) scale(0.96,1)" font-size="7.73" stroke="#231f20" stroke-width="0.13" ><tspan font-style="italic">Rig-I</tspan> +/+ MSC ATRA</text>
<line x1="433.70" y1="506.80" x2="441.10" y2="506.80" stroke="#FEC885" stroke-width="1.2" />
<path d="M435.50 506.80 L437.40 505.00 L439.30 506.80 L437.40 508.61 Z" fill="#FEC885" stroke="#FEC885" stroke-width="0.3" />
<text transform="translate(445.00,509.30) scale(0.96,1)" font-size="7.73" stroke="#231f20" stroke-width="0.13" ><tspan font-style="italic">Rig-I</tspan> –/– MSC Ctrl</text>
<line x1="433.70" y1="516.30" x2="441.10" y2="516.30" stroke="#F7931E" stroke-width="1.2" />
<path d="M435.50 516.30 L437.40 514.50 L439.30 516.30 L437.40 518.10 Z" fill="#F7931E" stroke="#F7931E" stroke-width="0.3" />
<text transform="translate(445.00,518.80) scale(0.96,1)" font-size="7.73" stroke="#231f20" stroke-width="0.13" ><tspan font-style="italic">Rig-I</tspan> –/– MSC ATRA</text>
</g>
<rect x="0" y="0" width="1.4" height="592" fill="#000"/><rect x="0" y="0" width="520" height="1.25" fill="#000"/><rect x="518.5" y="0" width="1.5" height="592" fill="#000"/><rect x="0" y="590.5" width="520" height="1.5" fill="#000"/>
</svg></body></html>
